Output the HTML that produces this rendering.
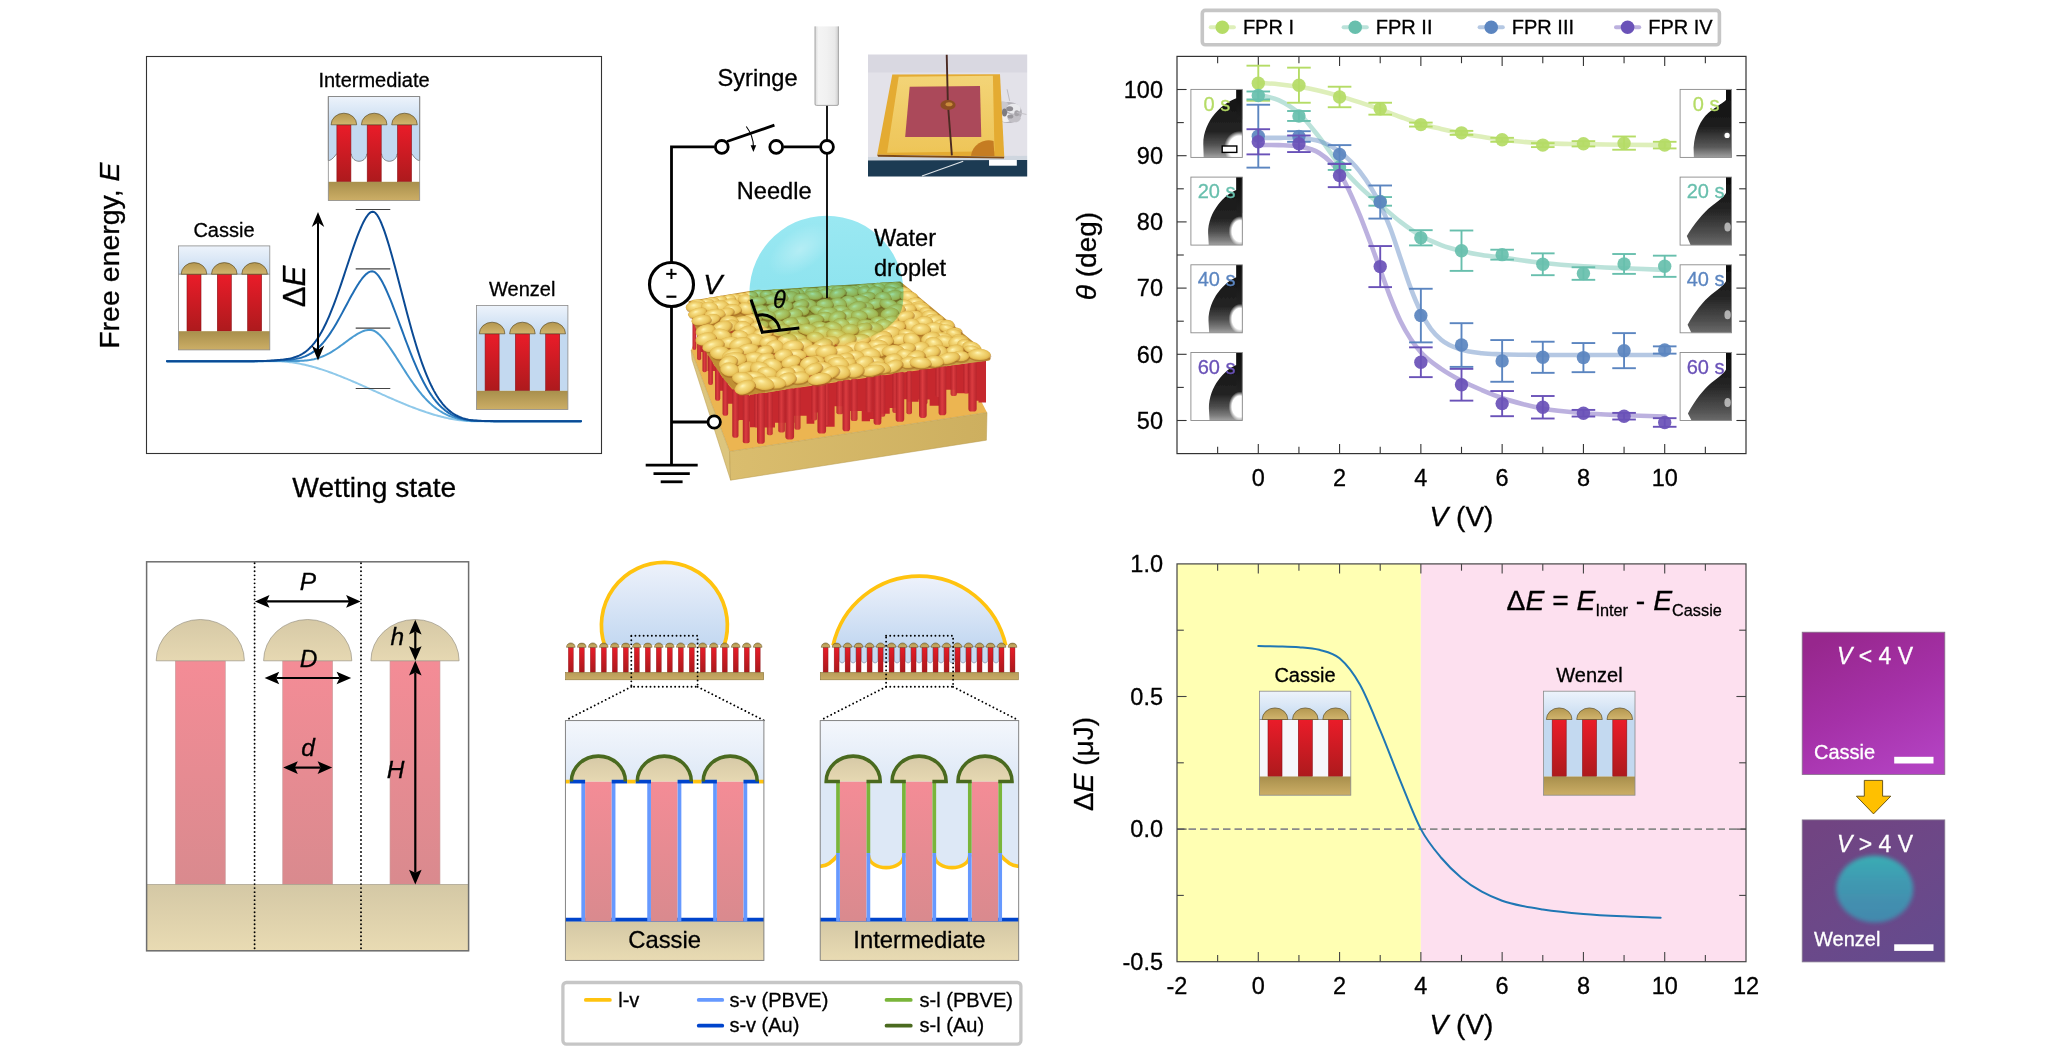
<!DOCTYPE html>
<html><head><meta charset="utf-8"><title>Figure</title>
<style>html,body{margin:0;padding:0;background:#fff;overflow:hidden;width:2048px;height:1054px}svg{display:block}text{font-family:"Liberation Sans", sans-serif}</style>
</head><body>
<svg width="2048" height="1054" viewBox="0 0 2048 1054">
<defs><linearGradient id="gWat" x1="0" y1="0" x2="0" y2="30" gradientUnits="userSpaceOnUse"><stop offset="0" stop-color="#edf3fb"/><stop offset="1" stop-color="#c3d9f0"/></linearGradient><linearGradient id="gPil" x1="0" y1="0" x2="0" y2="1"><stop offset="0" stop-color="#ea1c29"/><stop offset="1" stop-color="#ad1a1d"/></linearGradient><linearGradient id="gCap" x1="0" y1="0" x2="0" y2="1"><stop offset="0" stop-color="#b3964f"/><stop offset="1" stop-color="#d1b56e"/></linearGradient><linearGradient id="gBase" x1="0" y1="0" x2="0" y2="1"><stop offset="0" stop-color="#a88f4c"/><stop offset="1" stop-color="#ccae66"/></linearGradient><linearGradient id="gSyr" x1="0" y1="0" x2="1" y2="0"><stop offset="0" stop-color="#d9d9d9"/><stop offset="0.15" stop-color="#f4f4f4"/><stop offset="0.5" stop-color="#f1f1f1"/><stop offset="0.85" stop-color="#e9e9e9"/><stop offset="1" stop-color="#cfcfcf"/></linearGradient><radialGradient id="gBlob" cx="0.5" cy="0.5" r="0.56" fx="0.42" fy="0.34"><stop offset="0" stop-color="#fff6b8"/><stop offset="0.3" stop-color="#f6dd82"/><stop offset="0.72" stop-color="#eac65e"/><stop offset="0.93" stop-color="#d8aa44"/><stop offset="1" stop-color="#c4922f"/></radialGradient><linearGradient id="gRedP" x1="0" y1="0" x2="1" y2="0"><stop offset="0" stop-color="#b3222a"/><stop offset="0.45" stop-color="#db3c40"/><stop offset="1" stop-color="#b8252c"/></linearGradient><linearGradient id="gDrop3" x1="0" y1="0" x2="0" y2="1"><stop offset="0" stop-color="#9ae8f2"/><stop offset="0.55" stop-color="#8fe4ef"/><stop offset="0.64" stop-color="#9fe9ec"/><stop offset="0.8" stop-color="#b4eede"/><stop offset="0.92" stop-color="#dcf5d6"/><stop offset="1" stop-color="#ffffff"/></linearGradient><radialGradient id="gDropHi" cx="0.5" cy="0.5" r="0.5"><stop offset="0" stop-color="#ffffff" stop-opacity="0.3"/><stop offset="1" stop-color="#ffffff" stop-opacity="0"/></radialGradient><linearGradient id="gSlabF" x1="0" y1="0" x2="1" y2="0"><stop offset="0" stop-color="#dabd6e"/><stop offset="1" stop-color="#cdaf5f"/></linearGradient><linearGradient id="gPlate" x1="0" y1="0" x2="0" y2="1"><stop offset="0" stop-color="#f3d477"/><stop offset="1" stop-color="#eec558"/></linearGradient><filter id="blur1" x="-20%" y="-20%" width="140%" height="140%"><feGaussianBlur stdDeviation="0.7"/></filter><filter id="blur3" x="-20%" y="-20%" width="140%" height="140%"><feGaussianBlur stdDeviation="1.6"/></filter><clipPath id="clipPhoto"><rect x="868" y="54.5" width="159.2" height="121.9"/></clipPath><linearGradient id="gDropL" x1="0" y1="0" x2="0" y2="68" gradientUnits="userSpaceOnUse"><stop offset="0" stop-color="#0e0e0e"/><stop offset="0.62" stop-color="#242424"/><stop offset="0.8" stop-color="#4e4e4e"/><stop offset="0.93" stop-color="#7e7e7e"/><stop offset="1" stop-color="#a2a2a2"/></linearGradient><radialGradient id="gSpot" cx="0.5" cy="0.5" r="0.5"><stop offset="0" stop-color="#ffffff"/><stop offset="0.7" stop-color="#ffffff"/><stop offset="1" stop-color="#ffffff" stop-opacity="0"/></radialGradient><radialGradient id="gSpot2" cx="0.5" cy="0.5" r="0.5"><stop offset="0" stop-color="#888888"/><stop offset="1" stop-color="#333333" stop-opacity="0"/></radialGradient><linearGradient id="gDropR" x1="0" y1="0" x2="0" y2="68" gradientUnits="userSpaceOnUse"><stop offset="0" stop-color="#0c0c0c"/><stop offset="0.55" stop-color="#1e1e1e"/><stop offset="0.85" stop-color="#5a5a5a"/><stop offset="1" stop-color="#a0a0a0"/></linearGradient><linearGradient id="gDropR2" x1="0" y1="0" x2="0" y2="68" gradientUnits="userSpaceOnUse"><stop offset="0" stop-color="#0c0c0c"/><stop offset="0.5" stop-color="#262626"/><stop offset="0.85" stop-color="#525252"/><stop offset="1" stop-color="#6a6a6a"/></linearGradient><filter id="blurS" x="-10%" y="-10%" width="120%" height="120%"><feGaussianBlur stdDeviation="0.5"/></filter><linearGradient id="gPink" x1="0" y1="0" x2="0" y2="1"><stop offset="0" stop-color="#f48c96"/><stop offset="1" stop-color="#d98a8e"/></linearGradient><linearGradient id="gTanCap" x1="0" y1="0" x2="0" y2="1"><stop offset="0" stop-color="#d6c9a6"/><stop offset="1" stop-color="#e6d8b2"/></linearGradient><linearGradient id="gTanBase" x1="0" y1="0" x2="0" y2="1"><stop offset="0" stop-color="#d4c8a5"/><stop offset="1" stop-color="#e9dbb3"/></linearGradient><linearGradient id="gDropF" x1="0" y1="0" x2="0" y2="1"><stop offset="0" stop-color="#eef2fb"/><stop offset="1" stop-color="#c3d8f1"/></linearGradient><linearGradient id="gWatF" x1="0" y1="720.6" x2="0" y2="782" gradientUnits="userSpaceOnUse"><stop offset="0" stop-color="#f4f7fc"/><stop offset="1" stop-color="#dde8f6"/></linearGradient><linearGradient id="gMiniP" x1="0" y1="0" x2="0" y2="1"><stop offset="0" stop-color="#e81c28"/><stop offset="1" stop-color="#a8191c"/></linearGradient><linearGradient id="gMiniC" x1="0" y1="0" x2="0" y2="1"><stop offset="0" stop-color="#a88c45"/><stop offset="1" stop-color="#d4b870"/></linearGradient><linearGradient id="gMiniB" x1="0" y1="0" x2="0" y2="1"><stop offset="0" stop-color="#b89c58"/><stop offset="1" stop-color="#c8ac66"/></linearGradient><linearGradient id="gPh1" x1="0.25" y1="0" x2="0.75" y2="1"><stop offset="0" stop-color="#97278d"/><stop offset="0.5" stop-color="#a531a8"/><stop offset="1" stop-color="#b342c2"/></linearGradient><linearGradient id="gPh2" x1="0.2" y1="0" x2="0.8" y2="1"><stop offset="0" stop-color="#714482"/><stop offset="0.5" stop-color="#6c4888"/><stop offset="1" stop-color="#644b8e"/></linearGradient><linearGradient id="gSpotC" x1="0" y1="0" x2="0" y2="1"><stop offset="0" stop-color="#36b6b8"/><stop offset="0.35" stop-color="#3ca2b6"/><stop offset="0.7" stop-color="#4095b2"/><stop offset="1" stop-color="#3f8fb0"/></linearGradient><filter id="blur2" x="-20%" y="-20%" width="140%" height="140%"><feGaussianBlur stdDeviation="2.2"/></filter></defs>
<rect width="2048" height="1054" fill="#fff"/>
<g id="pa"><rect x="146.5" y="56.5" width="455" height="397" fill="#fff" stroke="#333" stroke-width="1.1" /><path d="M167 361.2 L168.5 361.2 L170 361.2 L171.5 361.2 L173 361.2 L174.5 361.2 L176 361.2 L177.5 361.2 L179 361.2 L180.5 361.2 L182 361.2 L183.5 361.2 L185 361.2 L186.5 361.2 L188 361.2 L189.5 361.2 L191 361.2 L192.5 361.2 L194 361.2 L195.5 361.2 L197 361.2 L198.5 361.2 L200 361.2 L201.5 361.2 L203 361.2 L204.5 361.2 L206 361.2 L207.5 361.2 L209 361.2 L210.5 361.2 L212 361.2 L213.5 361.2 L215 361.2 L216.5 361.2 L218 361.2 L219.5 361.2 L221 361.2 L222.5 361.2 L224 361.2 L225.5 361.2 L227 361.2 L228.5 361.2 L230 361.2 L231.5 361.2 L233 361.2 L234.5 361.2 L236 361.2 L237.5 361.2 L239 361.2 L240.5 361.2 L242 361.2 L243.5 361.2 L245 361.2 L246.5 361.2 L248 361.2 L249.5 361.2 L251 361.2 L252.5 361.2 L254 361.2 L255.5 361.2 L257 361.2 L258.5 361.2 L260 361.2 L261.5 361.2 L263 361.2 L264.5 361.2 L266 361.2 L267.5 361.2 L269 361.2 L270.5 361.2 L272 361.2 L273.5 361.2 L275 361.2 L276.5 361.21 L278 361.24 L279.5 361.29 L281 361.36 L282.5 361.45 L284 361.55 L285.5 361.68 L287 361.82 L288.5 361.98 L290 362.16 L291.5 362.36 L293 362.57 L294.5 362.8 L296 363.05 L297.5 363.31 L299 363.58 L300.5 363.88 L302 364.19 L303.5 364.51 L305 364.84 L306.5 365.2 L308 365.56 L309.5 365.94 L311 366.33 L312.5 366.74 L314 367.15 L315.5 367.58 L317 368.03 L318.5 368.48 L320 368.95 L321.5 369.42 L323 369.91 L324.5 370.41 L326 370.91 L327.5 371.43 L329 371.96 L330.5 372.5 L332 373.04 L333.5 373.6 L335 374.16 L336.5 374.73 L338 375.31 L339.5 375.9 L341 376.49 L342.5 377.09 L344 377.7 L345.5 378.31 L347 378.93 L348.5 379.55 L350 380.18 L351.5 380.82 L353 381.46 L354.5 382.1 L356 382.75 L357.5 383.41 L359 384.06 L360.5 384.72 L362 385.38 L363.5 386.05 L365 386.71 L366.5 387.38 L368 388.06 L369.5 388.73 L371 389.4 L372.5 390.08 L374 390.75 L375.5 391.42 L377 392.1 L378.5 392.77 L380 393.45 L381.5 394.12 L383 394.79 L384.5 395.46 L386 396.13 L387.5 396.8 L389 397.46 L390.5 398.12 L392 398.78 L393.5 399.43 L395 400.08 L396.5 400.73 L398 401.37 L399.5 402 L401 402.64 L402.5 403.26 L404 403.88 L405.5 404.5 L407 405.11 L408.5 405.71 L410 406.31 L411.5 406.9 L413 407.48 L414.5 408.05 L416 408.62 L417.5 409.17 L419 409.72 L420.5 410.26 L422 410.79 L423.5 411.31 L425 411.82 L426.5 412.33 L428 412.82 L429.5 413.3 L431 413.77 L432.5 414.22 L434 414.67 L435.5 415.1 L437 415.53 L438.5 415.93 L440 416.33 L441.5 416.71 L443 417.08 L444.5 417.44 L446 417.78 L447.5 418.11 L449 418.42 L450.5 418.72 L452 419 L453.5 419.27 L455 419.52 L456.5 419.75 L458 419.97 L459.5 420.17 L461 420.36 L462.5 420.53 L464 420.68 L465.5 420.81 L467 420.92 L468.5 421.01 L470 421.09 L471.5 421.15 L473 421.18 L474.5 421.2 L476 421.2 L477.5 421.2 L479 421.2 L480.5 421.2 L482 421.2 L483.5 421.2 L485 421.2 L486.5 421.2 L488 421.2 L489.5 421.2 L491 421.2 L492.5 421.2 L494 421.2 L495.5 421.2 L497 421.2 L498.5 421.2 L500 421.2 L501.5 421.2 L503 421.2 L504.5 421.2 L506 421.2 L507.5 421.2 L509 421.2 L510.5 421.2 L512 421.2 L513.5 421.2 L515 421.2 L516.5 421.2 L518 421.2 L519.5 421.2 L521 421.2 L522.5 421.2 L524 421.2 L525.5 421.2 L527 421.2 L528.5 421.2 L530 421.2 L531.5 421.2 L533 421.2 L534.5 421.2 L536 421.2 L537.5 421.2 L539 421.2 L540.5 421.2 L542 421.2 L543.5 421.2 L545 421.2 L546.5 421.2 L548 421.2 L549.5 421.2 L551 421.2 L552.5 421.2 L554 421.2 L555.5 421.2 L557 421.2 L558.5 421.2 L560 421.2 L561.5 421.2 L563 421.2 L564.5 421.2 L566 421.2 L567.5 421.2 L569 421.2 L570.5 421.2 L572 421.2 L573.5 421.2 L575 421.2 L576.5 421.2 L578 421.2 L579.5 421.2 L581 421.2" fill="none" stroke="#8fc9ea" stroke-width="2" stroke-linejoin="round" stroke-linecap="round"/><path d="M167 361.2 L168.5 361.2 L170 361.2 L171.5 361.2 L173 361.2 L174.5 361.2 L176 361.2 L177.5 361.2 L179 361.2 L180.5 361.2 L182 361.2 L183.5 361.2 L185 361.2 L186.5 361.2 L188 361.2 L189.5 361.2 L191 361.2 L192.5 361.2 L194 361.2 L195.5 361.2 L197 361.2 L198.5 361.2 L200 361.2 L201.5 361.2 L203 361.2 L204.5 361.2 L206 361.2 L207.5 361.2 L209 361.2 L210.5 361.2 L212 361.2 L213.5 361.2 L215 361.2 L216.5 361.2 L218 361.2 L219.5 361.2 L221 361.2 L222.5 361.2 L224 361.2 L225.5 361.2 L227 361.2 L228.5 361.2 L230 361.2 L231.5 361.2 L233 361.2 L234.5 361.2 L236 361.2 L237.5 361.2 L239 361.2 L240.5 361.2 L242 361.2 L243.5 361.19 L245 361.19 L246.5 361.19 L248 361.19 L249.5 361.19 L251 361.18 L252.5 361.18 L254 361.18 L255.5 361.17 L257 361.17 L258.5 361.16 L260 361.15 L261.5 361.14 L263 361.13 L264.5 361.11 L266 361.1 L267.5 361.08 L269 361.05 L270.5 361.03 L272 361 L273.5 360.96 L275 360.92 L276.5 360.88 L278 360.85 L279.5 360.84 L281 360.83 L282.5 360.84 L284 360.85 L285.5 360.86 L287 360.88 L288.5 360.9 L290 360.92 L291.5 360.93 L293 360.94 L294.5 360.95 L296 360.94 L297.5 360.93 L299 360.89 L300.5 360.84 L302 360.77 L303.5 360.68 L305 360.56 L306.5 360.42 L308 360.24 L309.5 360.03 L311 359.78 L312.5 359.49 L314 359.17 L315.5 358.8 L317 358.39 L318.5 357.93 L320 357.42 L321.5 356.86 L323 356.26 L324.5 355.61 L326 354.91 L327.5 354.16 L329 353.36 L330.5 352.51 L332 351.63 L333.5 350.7 L335 349.73 L336.5 348.73 L338 347.7 L339.5 346.64 L341 345.56 L342.5 344.46 L344 343.35 L345.5 342.23 L347 341.12 L348.5 340.01 L350 338.92 L351.5 337.84 L353 336.8 L354.5 335.79 L356 334.83 L357.5 333.92 L359 333.08 L360.5 332.3 L362 331.61 L363.5 331.01 L365 330.51 L366.5 330.14 L368 329.9 L369.5 329.82 L371 329.91 L372.5 330.21 L374 330.75 L375.5 331.56 L377 332.61 L378.5 333.86 L380 335.29 L381.5 336.88 L383 338.59 L384.5 340.42 L386 342.36 L387.5 344.38 L389 346.47 L390.5 348.64 L392 350.86 L393.5 353.12 L395 355.42 L396.5 357.75 L398 360.1 L399.5 362.46 L401 364.83 L402.5 367.19 L404 369.54 L405.5 371.87 L407 374.18 L408.5 376.45 L410 378.7 L411.5 380.9 L413 383.05 L414.5 385.15 L416 387.2 L417.5 389.19 L419 391.12 L420.5 392.98 L422 394.78 L423.5 396.51 L425 398.18 L426.5 399.77 L428 401.29 L429.5 402.74 L431 404.12 L432.5 405.44 L434 406.68 L435.5 407.86 L437 408.97 L438.5 410.02 L440 411.01 L441.5 411.93 L443 412.8 L444.5 413.61 L446 414.37 L447.5 415.07 L449 415.73 L450.5 416.34 L452 416.9 L453.5 417.42 L455 417.89 L456.5 418.33 L458 418.73 L459.5 419.09 L461 419.42 L462.5 419.71 L464 419.97 L465.5 420.2 L467 420.39 L468.5 420.56 L470 420.7 L471.5 420.81 L473 420.9 L474.5 420.96 L476 421 L477.5 421.03 L479 421.05 L480.5 421.08 L482 421.1 L483.5 421.11 L485 421.13 L486.5 421.14 L488 421.15 L489.5 421.16 L491 421.17 L492.5 421.17 L494 421.18 L495.5 421.18 L497 421.18 L498.5 421.19 L500 421.19 L501.5 421.19 L503 421.19 L504.5 421.19 L506 421.2 L507.5 421.2 L509 421.2 L510.5 421.2 L512 421.2 L513.5 421.2 L515 421.2 L516.5 421.2 L518 421.2 L519.5 421.2 L521 421.2 L522.5 421.2 L524 421.2 L525.5 421.2 L527 421.2 L528.5 421.2 L530 421.2 L531.5 421.2 L533 421.2 L534.5 421.2 L536 421.2 L537.5 421.2 L539 421.2 L540.5 421.2 L542 421.2 L543.5 421.2 L545 421.2 L546.5 421.2 L548 421.2 L549.5 421.2 L551 421.2 L552.5 421.2 L554 421.2 L555.5 421.2 L557 421.2 L558.5 421.2 L560 421.2 L561.5 421.2 L563 421.2 L564.5 421.2 L566 421.2 L567.5 421.2 L569 421.2 L570.5 421.2 L572 421.2 L573.5 421.2 L575 421.2 L576.5 421.2 L578 421.2 L579.5 421.2 L581 421.2" fill="none" stroke="#4a9bd2" stroke-width="2" stroke-linejoin="round" stroke-linecap="round"/><path d="M167 361.2 L168.5 361.2 L170 361.2 L171.5 361.2 L173 361.2 L174.5 361.2 L176 361.2 L177.5 361.2 L179 361.2 L180.5 361.2 L182 361.2 L183.5 361.2 L185 361.2 L186.5 361.2 L188 361.2 L189.5 361.2 L191 361.2 L192.5 361.2 L194 361.2 L195.5 361.2 L197 361.2 L198.5 361.2 L200 361.2 L201.5 361.2 L203 361.2 L204.5 361.2 L206 361.2 L207.5 361.2 L209 361.2 L210.5 361.2 L212 361.2 L213.5 361.2 L215 361.2 L216.5 361.2 L218 361.2 L219.5 361.2 L221 361.2 L222.5 361.2 L224 361.2 L225.5 361.2 L227 361.2 L228.5 361.2 L230 361.2 L231.5 361.2 L233 361.2 L234.5 361.2 L236 361.2 L237.5 361.2 L239 361.19 L240.5 361.19 L242 361.19 L243.5 361.19 L245 361.19 L246.5 361.18 L248 361.18 L249.5 361.17 L251 361.17 L252.5 361.16 L254 361.15 L255.5 361.14 L257 361.13 L258.5 361.12 L260 361.1 L261.5 361.08 L263 361.06 L264.5 361.03 L266 361 L267.5 360.96 L269 360.91 L270.5 360.86 L272 360.8 L273.5 360.72 L275 360.64 L276.5 360.55 L278 360.47 L279.5 360.39 L281 360.31 L282.5 360.23 L284 360.15 L285.5 360.05 L287 359.95 L288.5 359.83 L290 359.69 L291.5 359.53 L293 359.35 L294.5 359.13 L296 358.88 L297.5 358.58 L299 358.25 L300.5 357.86 L302 357.42 L303.5 356.92 L305 356.35 L306.5 355.71 L308 355 L309.5 354.21 L311 353.34 L312.5 352.37 L314 351.31 L315.5 350.16 L317 348.9 L318.5 347.55 L320 346.08 L321.5 344.52 L323 342.84 L324.5 341.05 L326 339.16 L327.5 337.17 L329 335.07 L330.5 332.87 L332 330.57 L333.5 328.18 L335 325.71 L336.5 323.17 L338 320.55 L339.5 317.87 L341 315.14 L342.5 312.37 L344 309.57 L345.5 306.76 L347 303.94 L348.5 301.13 L350 298.34 L351.5 295.59 L353 292.89 L354.5 290.26 L356 287.71 L357.5 285.27 L359 282.94 L360.5 280.76 L362 278.73 L363.5 276.89 L365 275.25 L366.5 273.85 L368 272.72 L369.5 271.89 L371 271.41 L372.5 271.34 L374 271.75 L375.5 272.69 L377 274.11 L378.5 275.93 L380 278.11 L381.5 280.59 L383 283.33 L384.5 286.3 L386 289.48 L387.5 292.83 L389 296.34 L390.5 299.98 L392 303.73 L393.5 307.58 L395 311.51 L396.5 315.49 L398 319.52 L399.5 323.58 L401 327.64 L402.5 331.71 L404 335.76 L405.5 339.78 L407 343.76 L408.5 347.68 L410 351.54 L411.5 355.33 L413 359.03 L414.5 362.64 L416 366.14 L417.5 369.54 L419 372.83 L420.5 376 L422 379.04 L423.5 381.96 L425 384.75 L426.5 387.42 L428 389.96 L429.5 392.36 L431 394.64 L432.5 396.8 L434 398.83 L435.5 400.74 L437 402.53 L438.5 404.21 L440 405.77 L441.5 407.23 L443 408.59 L444.5 409.85 L446 411.01 L447.5 412.09 L449 413.08 L450.5 414 L452 414.83 L453.5 415.6 L455 416.3 L456.5 416.93 L458 417.5 L459.5 418.02 L461 418.49 L462.5 418.9 L464 419.27 L465.5 419.59 L467 419.88 L468.5 420.12 L470 420.32 L471.5 420.49 L473 420.62 L474.5 420.72 L476 420.8 L477.5 420.86 L479 420.91 L480.5 420.96 L482 421 L483.5 421.03 L485 421.06 L486.5 421.08 L488 421.1 L489.5 421.12 L491 421.13 L492.5 421.14 L494 421.15 L495.5 421.16 L497 421.17 L498.5 421.17 L500 421.18 L501.5 421.18 L503 421.19 L504.5 421.19 L506 421.19 L507.5 421.19 L509 421.19 L510.5 421.2 L512 421.2 L513.5 421.2 L515 421.2 L516.5 421.2 L518 421.2 L519.5 421.2 L521 421.2 L522.5 421.2 L524 421.2 L525.5 421.2 L527 421.2 L528.5 421.2 L530 421.2 L531.5 421.2 L533 421.2 L534.5 421.2 L536 421.2 L537.5 421.2 L539 421.2 L540.5 421.2 L542 421.2 L543.5 421.2 L545 421.2 L546.5 421.2 L548 421.2 L549.5 421.2 L551 421.2 L552.5 421.2 L554 421.2 L555.5 421.2 L557 421.2 L558.5 421.2 L560 421.2 L561.5 421.2 L563 421.2 L564.5 421.2 L566 421.2 L567.5 421.2 L569 421.2 L570.5 421.2 L572 421.2 L573.5 421.2 L575 421.2 L576.5 421.2 L578 421.2 L579.5 421.2 L581 421.2" fill="none" stroke="#1f6db5" stroke-width="2" stroke-linejoin="round" stroke-linecap="round"/><path d="M167 361.2 L168.5 361.2 L170 361.2 L171.5 361.2 L173 361.2 L174.5 361.2 L176 361.2 L177.5 361.2 L179 361.2 L180.5 361.2 L182 361.2 L183.5 361.2 L185 361.2 L186.5 361.2 L188 361.2 L189.5 361.2 L191 361.2 L192.5 361.2 L194 361.2 L195.5 361.2 L197 361.2 L198.5 361.2 L200 361.2 L201.5 361.2 L203 361.2 L204.5 361.2 L206 361.2 L207.5 361.2 L209 361.2 L210.5 361.2 L212 361.2 L213.5 361.2 L215 361.2 L216.5 361.2 L218 361.2 L219.5 361.2 L221 361.2 L222.5 361.2 L224 361.2 L225.5 361.2 L227 361.2 L228.5 361.2 L230 361.2 L231.5 361.2 L233 361.2 L234.5 361.2 L236 361.19 L237.5 361.19 L239 361.19 L240.5 361.19 L242 361.19 L243.5 361.18 L245 361.18 L246.5 361.17 L248 361.17 L249.5 361.16 L251 361.15 L252.5 361.14 L254 361.13 L255.5 361.12 L257 361.1 L258.5 361.08 L260 361.05 L261.5 361.02 L263 360.99 L264.5 360.94 L266 360.89 L267.5 360.83 L269 360.77 L270.5 360.69 L272 360.59 L273.5 360.48 L275 360.36 L276.5 360.22 L278 360.09 L279.5 359.94 L281 359.79 L282.5 359.62 L284 359.44 L285.5 359.24 L287 359.01 L288.5 358.75 L290 358.45 L291.5 358.11 L293 357.73 L294.5 357.28 L296 356.78 L297.5 356.21 L299 355.56 L300.5 354.84 L302 354.02 L303.5 353.1 L305 352.08 L306.5 350.95 L308 349.7 L309.5 348.32 L311 346.81 L312.5 345.15 L314 343.35 L315.5 341.4 L317 339.3 L318.5 337.03 L320 334.6 L321.5 332 L323 329.24 L324.5 326.3 L326 323.21 L327.5 319.95 L329 316.53 L330.5 312.95 L332 309.23 L333.5 305.36 L335 301.37 L336.5 297.25 L338 293.03 L339.5 288.71 L341 284.31 L342.5 279.85 L344 275.34 L345.5 270.8 L347 266.25 L348.5 261.71 L350 257.21 L351.5 252.75 L353 248.38 L354.5 244.1 L356 239.95 L357.5 235.95 L359 232.13 L360.5 228.51 L362 225.14 L363.5 222.03 L365 219.24 L366.5 216.8 L368 214.75 L369.5 213.17 L371 212.12 L372.5 211.68 L374 211.95 L375.5 213.02 L377 214.82 L378.5 217.22 L380 220.15 L381.5 223.53 L383 227.32 L384.5 231.45 L386 235.88 L387.5 240.59 L389 245.53 L390.5 250.66 L392 255.97 L393.5 261.43 L395 267 L396.5 272.66 L398 278.39 L399.5 284.16 L401 289.96 L402.5 295.75 L404 301.53 L405.5 307.26 L407 312.93 L408.5 318.53 L410 324.03 L411.5 329.42 L413 334.68 L414.5 339.82 L416 344.8 L417.5 349.63 L419 354.29 L420.5 358.78 L422 363.08 L423.5 367.21 L425 371.15 L426.5 374.9 L428 378.47 L429.5 381.84 L431 385.03 L432.5 388.04 L434 390.87 L435.5 393.52 L437 396 L438.5 398.31 L440 400.47 L441.5 402.47 L443 404.32 L444.5 406.03 L446 407.61 L447.5 409.07 L449 410.4 L450.5 411.62 L452 412.74 L453.5 413.75 L455 414.68 L456.5 415.51 L458 416.26 L459.5 416.94 L461 417.55 L462.5 418.09 L464 418.56 L465.5 418.98 L467 419.35 L468.5 419.67 L470 419.93 L471.5 420.16 L473 420.34 L474.5 420.48 L476 420.59 L477.5 420.69 L479 420.77 L480.5 420.83 L482 420.89 L483.5 420.94 L485 420.99 L486.5 421.02 L488 421.05 L489.5 421.08 L491 421.1 L492.5 421.12 L494 421.13 L495.5 421.14 L497 421.15 L498.5 421.16 L500 421.17 L501.5 421.17 L503 421.18 L504.5 421.18 L506 421.19 L507.5 421.19 L509 421.19 L510.5 421.19 L512 421.19 L513.5 421.2 L515 421.2 L516.5 421.2 L518 421.2 L519.5 421.2 L521 421.2 L522.5 421.2 L524 421.2 L525.5 421.2 L527 421.2 L528.5 421.2 L530 421.2 L531.5 421.2 L533 421.2 L534.5 421.2 L536 421.2 L537.5 421.2 L539 421.2 L540.5 421.2 L542 421.2 L543.5 421.2 L545 421.2 L546.5 421.2 L548 421.2 L549.5 421.2 L551 421.2 L552.5 421.2 L554 421.2 L555.5 421.2 L557 421.2 L558.5 421.2 L560 421.2 L561.5 421.2 L563 421.2 L564.5 421.2 L566 421.2 L567.5 421.2 L569 421.2 L570.5 421.2 L572 421.2 L573.5 421.2 L575 421.2 L576.5 421.2 L578 421.2 L579.5 421.2 L581 421.2" fill="none" stroke="#0b4a94" stroke-width="2" stroke-linejoin="round" stroke-linecap="round"/><line x1="355.7" y1="209.5" x2="390.3" y2="209.5" stroke="#444" stroke-width="1.2" /><line x1="355.7" y1="268.9" x2="390.3" y2="268.9" stroke="#444" stroke-width="1.2" /><line x1="355.7" y1="328.1" x2="390.3" y2="328.1" stroke="#444" stroke-width="1.2" /><line x1="355.7" y1="388.5" x2="390.3" y2="388.5" stroke="#444" stroke-width="1.2" /><line x1="318" y1="222.5" x2="318" y2="350" stroke="#000" stroke-width="2" /><polygon points="318,360.5 311.75,345.5 318,350 324.25,345.5" fill="#000" stroke="none" stroke-width="1" /><polygon points="318,212 324.25,227 318,222.5 311.75,227" fill="#000" stroke="none" stroke-width="1" /><text x="304.8" y="286.5" font-size="31" text-anchor="middle" fill="#000" stroke="#000" stroke-width="0.3" transform="rotate(-90 304.8 286.5)" >Δ<tspan font-style="italic">E</tspan></text><g transform="translate(328.3 96.5)"><rect x="0" y="0" width="91.4" height="104" fill="#fff" stroke="none" stroke-width="1" /><path d="M0 0 H91.4 V64 Q88.4 64.5 83.6 57.5 H68.8 C67.8 67.2 54.3 67.2 53.3 57.5 H38.5 C37.5 67.2 24 67.2 23 57.5 H8.2 Q3 64.5 0 64 Z" fill="url(#gWat)" stroke="#444" stroke-width="0.6" /><rect x="8.6" y="28.3" width="14" height="57" fill="url(#gPil)" stroke="#8c1217" stroke-width="0.6" /><path d="M2.8 28.3 A12.8 11.6 0 0 1 28.4 28.3 Z" fill="url(#gCap)" stroke="#4d3f1c" stroke-width="0.6" /><rect x="38.9" y="28.3" width="14" height="57" fill="url(#gPil)" stroke="#8c1217" stroke-width="0.6" /><path d="M33.1 28.3 A12.8 11.6 0 0 1 58.7 28.3 Z" fill="url(#gCap)" stroke="#4d3f1c" stroke-width="0.6" /><rect x="69.2" y="28.3" width="14" height="57" fill="url(#gPil)" stroke="#8c1217" stroke-width="0.6" /><path d="M63.4 28.3 A12.8 11.6 0 0 1 89 28.3 Z" fill="url(#gCap)" stroke="#4d3f1c" stroke-width="0.6" /><rect x="0" y="85.3" width="91.4" height="18.7" fill="url(#gBase)" stroke="none" stroke-width="1" /><rect x="0" y="0" width="91.4" height="104" fill="none" stroke="#8a8a8a" stroke-width="0.8" /></g><g transform="translate(178.4 245.9)"><rect x="0" y="0" width="91.4" height="104" fill="#fff" stroke="none" stroke-width="1" /><rect x="0" y="0" width="91.4" height="28.3" fill="url(#gWat)" stroke="none" stroke-width="1" /><line x1="0" y1="28.3" x2="91.4" y2="28.3" stroke="#555" stroke-width="0.6" /><rect x="8.6" y="28.3" width="14" height="57" fill="url(#gPil)" stroke="#8c1217" stroke-width="0.6" /><path d="M2.8 28.3 A12.8 11.6 0 0 1 28.4 28.3 Z" fill="url(#gCap)" stroke="#4d3f1c" stroke-width="0.6" /><rect x="38.9" y="28.3" width="14" height="57" fill="url(#gPil)" stroke="#8c1217" stroke-width="0.6" /><path d="M33.1 28.3 A12.8 11.6 0 0 1 58.7 28.3 Z" fill="url(#gCap)" stroke="#4d3f1c" stroke-width="0.6" /><rect x="69.2" y="28.3" width="14" height="57" fill="url(#gPil)" stroke="#8c1217" stroke-width="0.6" /><path d="M63.4 28.3 A12.8 11.6 0 0 1 89 28.3 Z" fill="url(#gCap)" stroke="#4d3f1c" stroke-width="0.6" /><rect x="0" y="85.3" width="91.4" height="18.7" fill="url(#gBase)" stroke="none" stroke-width="1" /><rect x="0" y="0" width="91.4" height="104" fill="none" stroke="#8a8a8a" stroke-width="0.8" /></g><g transform="translate(476.5 305.5)"><rect x="0" y="0" width="91.4" height="104" fill="#fff" stroke="none" stroke-width="1" /><rect x="0" y="0" width="91.4" height="85.3" fill="url(#gWat)" stroke="none" stroke-width="1" /><rect x="8.6" y="28.3" width="14" height="57" fill="url(#gPil)" stroke="#8c1217" stroke-width="0.6" /><path d="M2.8 28.3 A12.8 11.6 0 0 1 28.4 28.3 Z" fill="url(#gCap)" stroke="#4d3f1c" stroke-width="0.6" /><rect x="38.9" y="28.3" width="14" height="57" fill="url(#gPil)" stroke="#8c1217" stroke-width="0.6" /><path d="M33.1 28.3 A12.8 11.6 0 0 1 58.7 28.3 Z" fill="url(#gCap)" stroke="#4d3f1c" stroke-width="0.6" /><rect x="69.2" y="28.3" width="14" height="57" fill="url(#gPil)" stroke="#8c1217" stroke-width="0.6" /><path d="M63.4 28.3 A12.8 11.6 0 0 1 89 28.3 Z" fill="url(#gCap)" stroke="#4d3f1c" stroke-width="0.6" /><rect x="0" y="85.3" width="91.4" height="18.7" fill="url(#gBase)" stroke="none" stroke-width="1" /><rect x="0" y="0" width="91.4" height="104" fill="none" stroke="#8a8a8a" stroke-width="0.8" /></g><text x="374" y="87" font-size="20" text-anchor="middle" fill="#000" stroke="#000" stroke-width="0.3" >Intermediate</text><text x="224" y="237" font-size="20" text-anchor="middle" fill="#000" stroke="#000" stroke-width="0.3" >Cassie</text><text x="522.2" y="296" font-size="20" text-anchor="middle" fill="#000" stroke="#000" stroke-width="0.3" >Wenzel</text><text x="374.3" y="496.6" font-size="28.2" text-anchor="middle" fill="#000" stroke="#000" stroke-width="0.3" >Wetting state</text><text x="118.7" y="255.6" font-size="28.5" text-anchor="middle" fill="#000" stroke="#000" stroke-width="0.3" transform="rotate(-90 118.7 255.6)" >Free energy, <tspan font-style="italic">E</tspan></text></g>
<g id="pb"><g clip-path="url(#clipPhoto)"><g filter="url(#blur1)"><rect x="866" y="52" width="164" height="127" fill="#e3e2e9" stroke="none" stroke-width="1" /><rect x="866" y="52" width="164" height="20.5" fill="#d9d8e1" stroke="none" stroke-width="1" /><polygon points="865.16,157.03 1030.32,155.74 1030.32,161.55 865.16,162.19" fill="#cfd6df" stroke="none" stroke-width="1" /><polygon points="865.16,160.52 1030.32,160 1030.32,178.32 865.16,178.32" fill="#1e3b52" stroke="none" stroke-width="1" /><line x1="921.94" y1="176" x2="963.23" y2="161.29" stroke="#dfe6ea" stroke-width="1.1" /><g><ellipse cx="1008.39" cy="112.52" rx="13.5" ry="10.5" fill="#b3b1b8" stroke="none" stroke-width="1" /><ellipse cx="1002.58" cy="106.71" rx="6.5" ry="5.5" fill="#c9c8ce" stroke="none" stroke-width="1" /><ellipse cx="1013.55" cy="108.65" rx="7" ry="5" fill="#e9e9ec" stroke="none" stroke-width="1" /><ellipse cx="1005.81" cy="117.68" rx="7" ry="4.5" fill="#efeff1" stroke="none" stroke-width="1" /><ellipse cx="1014.19" cy="118.32" rx="6.5" ry="4" fill="#c2c0c6" stroke="none" stroke-width="1" /><ellipse cx="1009.68" cy="108.65" rx="3.5" ry="2.5" fill="#8d8b90" stroke="none" stroke-width="1" /><ellipse cx="1004.52" cy="112.52" rx="2.5" ry="4" fill="#7d7b80" stroke="none" stroke-width="1" /><ellipse cx="1010.32" cy="116.39" rx="3" ry="2" fill="#98969b" stroke="none" stroke-width="1" /><ellipse cx="1016.77" cy="113.16" rx="2.5" ry="3" fill="#a5a3a8" stroke="none" stroke-width="1" /><line x1="1007.1" y1="89.29" x2="1009.68" y2="100.9" stroke="#bebcc2" stroke-width="1" /><line x1="1016.77" y1="112.52" x2="1026.45" y2="114.45" stroke="#c4c2c7" stroke-width="1" /></g><polygon points="892.26,74.45 1000,74.19 1004.26,156.65 877.16,154.84" fill="#e4ab32" stroke="none" stroke-width="1" /><polygon points="898.71,76.65 992.9,75.87 994.45,151.23 887.1,152.77" fill="url(#gPlate)" stroke="none" stroke-width="1" /><polygon points="877.16,154.84 1004.26,156.65 1004,158.45 878.06,156.65" fill="#7d4a18" stroke="none" stroke-width="1" /><path d="M970.97 155.74 A18 18 0 0 1 993.55 140.9 L994.45 156.13 Z" fill="#c57b22" stroke="none" stroke-width="1" /><polygon points="909.68,86.71 980,86.06 981.29,137.03 905.16,137.03" fill="#ab4a5a" stroke="none" stroke-width="1" /><path d="M946.71 54.45 L947.87 103.48 L951.87 155.35" fill="none" stroke="#4b2a22" stroke-width="1.9" /><ellipse cx="948" cy="105.03" rx="7.6" ry="5" fill="#8d4e22" stroke="none" stroke-width="1" /><ellipse cx="949.03" cy="104.26" rx="3.5" ry="2" fill="#c98a3a" stroke="none" stroke-width="1" /></g><rect x="989.03" y="160" width="27.8" height="5.7" fill="#fff" stroke="none" stroke-width="1" /></g><polygon points="691.2,350 729.6,451.5 987,412.5 960,360 700,330" fill="#ecb551" stroke="none" stroke-width="1" /><polygon points="691.2,350 729.6,451.5 730.6,480.2 692,359.5" fill="#dcc57e" stroke="#b99a4c" stroke-width="0.5" /><polygon points="729.6,451.5 987,412.5 986.4,440.2 730.6,480.2" fill="url(#gSlabF)" stroke="#b99a4c" stroke-width="0.5" /><polygon points="750,394.71 986,360.45 986,402.38 978.52,402.38 978.52,400.64 968.99,400.64 968.99,393.15 955.27,393.15 955.27,389.66 940.29,389.66 940.29,405.63 929.63,405.63 929.63,399.61 918.63,399.61 918.63,401.74 907.48,401.74 907.48,399.29 896.96,399.29 896.96,407.96 889.72,407.96 889.72,413.69 881.19,413.69 881.19,419.04 869.97,419.04 869.97,421.18 861.71,421.18 861.71,411.03 849.48,411.03 849.48,406.29 834.62,406.29 834.62,426.65 822.07,426.65 822.07,412.47 814.34,412.47 814.34,423.77 806.59,423.77 806.59,415.8 794.55,415.8 794.55,422.7 786.08,422.7 786.08,422.87 775.01,422.87 775.01,427.49 760.62,427.49 760.62,427.21 750,427.21" fill="#c6282e" stroke="none" stroke-width="1" /><polygon points="693,318 700,340 708,355 716,368 725,381 733,390 740,394.5 750,396 750,421.39 746.25,421.39 746.25,419.96 739.14,419.96 739.14,420.59 734.85,420.59 734.85,403.69 726.93,403.69 726.93,390.67 719.29,390.67 719.29,380.52 715.28,380.52 715.28,371.12 707.45,371.12 707.45,352.05 700.07,352.05 700.07,333.63 693,333.63" fill="#c6282e" stroke="none" stroke-width="1" /><rect x="754" y="394.12" width="6.95" height="33.31" fill="url(#gRedP)" stroke="none" stroke-width="1" rx="2" opacity="0.92"/><rect x="766.89" y="392.17" width="5.87" height="43.16" fill="url(#gRedP)" stroke="none" stroke-width="1" rx="2" opacity="0.92"/><rect x="778.24" y="390.21" width="6.7" height="42.26" fill="url(#gRedP)" stroke="none" stroke-width="1" rx="2" opacity="0.92"/><rect x="794.41" y="387.47" width="6.17" height="42.35" fill="url(#gRedP)" stroke="none" stroke-width="1" rx="2" opacity="0.92"/><rect x="811.43" y="384.81" width="5.7" height="35.64" fill="url(#gRedP)" stroke="none" stroke-width="1" rx="2" opacity="0.92"/><rect x="823.06" y="382.99" width="6.13" height="42.16" fill="url(#gRedP)" stroke="none" stroke-width="1" rx="2" opacity="0.92"/><rect x="836.35" y="380.91" width="6.96" height="33.36" fill="url(#gRedP)" stroke="none" stroke-width="1" rx="2" opacity="0.92"/><rect x="850.74" y="378.82" width="6.83" height="42.16" fill="url(#gRedP)" stroke="none" stroke-width="1" rx="2" opacity="0.92"/><rect x="865.72" y="376.68" width="6.78" height="35.57" fill="url(#gRedP)" stroke="none" stroke-width="1" rx="2" opacity="0.92"/><rect x="878.31" y="374.88" width="6.98" height="41.89" fill="url(#gRedP)" stroke="none" stroke-width="1" rx="2" opacity="0.92"/><rect x="892.36" y="372.88" width="6.66" height="40.03" fill="url(#gRedP)" stroke="none" stroke-width="1" rx="2" opacity="0.92"/><rect x="906.39" y="370.87" width="5.61" height="43.49" fill="url(#gRedP)" stroke="none" stroke-width="1" rx="2" opacity="0.92"/><rect x="921.66" y="368.77" width="5.86" height="35.61" fill="url(#gRedP)" stroke="none" stroke-width="1" rx="2" opacity="0.92"/><rect x="935.5" y="366.98" width="6.18" height="29.94" fill="url(#gRedP)" stroke="none" stroke-width="1" rx="2" opacity="0.92"/><rect x="950.55" y="365.03" width="6.36" height="30.99" fill="url(#gRedP)" stroke="none" stroke-width="1" rx="2" opacity="0.92"/><rect x="963.37" y="363.38" width="5.73" height="30.08" fill="url(#gRedP)" stroke="none" stroke-width="1" rx="2" opacity="0.92"/><rect x="757" y="392.68" width="7.75" height="51.11" fill="url(#gRedP)" stroke="none" stroke-width="1" rx="2.8"/><rect x="785.36" y="387.98" width="8.72" height="51.42" fill="url(#gRedP)" stroke="none" stroke-width="1" rx="2.8"/><rect x="817.43" y="382.87" width="8.64" height="50.66" fill="url(#gRedP)" stroke="none" stroke-width="1" rx="2.8"/><rect x="842.54" y="378.99" width="7.55" height="52.23" fill="url(#gRedP)" stroke="none" stroke-width="1" rx="2.8"/><rect x="873.6" y="374.56" width="7.73" height="50.28" fill="url(#gRedP)" stroke="none" stroke-width="1" rx="2.8"/><rect x="895.68" y="371.4" width="8.55" height="50.29" fill="url(#gRedP)" stroke="none" stroke-width="1" rx="2.8"/><rect x="919.05" y="368.11" width="7.65" height="49.81" fill="url(#gRedP)" stroke="none" stroke-width="1" rx="2.8"/><rect x="938.59" y="365.58" width="7.72" height="49.77" fill="url(#gRedP)" stroke="none" stroke-width="1" rx="2.8"/><rect x="968.39" y="361.73" width="8.26" height="49.76" fill="url(#gRedP)" stroke="none" stroke-width="1" rx="2.8"/><rect x="692.5" y="315" width="3.76" height="34.92" fill="url(#gRedP)" stroke="none" stroke-width="1" rx="2"/><rect x="697.14" y="330.43" width="4.04" height="29.87" fill="url(#gRedP)" stroke="none" stroke-width="1" rx="2"/><rect x="702.45" y="343.6" width="4.37" height="28.77" fill="url(#gRedP)" stroke="none" stroke-width="1" rx="2"/><rect x="708.21" y="354.34" width="4.73" height="30.62" fill="url(#gRedP)" stroke="none" stroke-width="1" rx="2"/><rect x="715.08" y="365.51" width="5.16" height="35.21" fill="url(#gRedP)" stroke="none" stroke-width="1" rx="2"/><rect x="722.53" y="376.44" width="5.62" height="39.33" fill="url(#gRedP)" stroke="none" stroke-width="1" rx="2"/><rect x="732.27" y="388.18" width="6.22" height="49.66" fill="url(#gRedP)" stroke="none" stroke-width="1" rx="2"/><rect x="742.77" y="394.02" width="6.88" height="49.34" fill="url(#gRedP)" stroke="none" stroke-width="1" rx="2"/><polygon points="689.5,302 694,320 700,338 708,353 716,366 725,379 733,388 740,392.5 748,394 765,391.5 791,387 839,379.5 916,368.5 989.5,359 978,347 900,282.5 750,292" fill="#c08f34" stroke="#c08f34" stroke-width="2" stroke-linejoin="round"/><polygon points="765,389 791,384.5 839,377 916,366 989.5,356.5 989.5,360.5 916,370 839,381 791,388.5 765,393" fill="#c9a248" stroke="none" stroke-width="1" /><ellipse cx="700.09" cy="306.19" rx="2.2" ry="1.4" fill="#c7322d" stroke="none" stroke-width="1" /><ellipse cx="906.99" cy="359.59" rx="2.2" ry="1.4" fill="#c7322d" stroke="none" stroke-width="1" /><ellipse cx="752.41" cy="385.61" rx="2.2" ry="1.4" fill="#c7322d" stroke="none" stroke-width="1" /><ellipse cx="837.14" cy="344.93" rx="2.2" ry="1.4" fill="#c7322d" stroke="none" stroke-width="1" /><ellipse cx="806.8" cy="357.09" rx="2.2" ry="1.4" fill="#c7322d" stroke="none" stroke-width="1" /><ellipse cx="767.11" cy="386.96" rx="2.2" ry="1.4" fill="#c7322d" stroke="none" stroke-width="1" /><ellipse cx="886.99" cy="331.16" rx="2.2" ry="1.4" fill="#c7322d" stroke="none" stroke-width="1" /><ellipse cx="914.58" cy="357.7" rx="2.2" ry="1.4" fill="#c7322d" stroke="none" stroke-width="1" /><ellipse cx="911.94" cy="341.37" rx="2.2" ry="1.4" fill="#c7322d" stroke="none" stroke-width="1" /><ellipse cx="826.4" cy="371.03" rx="2.2" ry="1.4" fill="#c7322d" stroke="none" stroke-width="1" /><ellipse cx="934.64" cy="336.95" rx="2.2" ry="1.4" fill="#c7322d" stroke="none" stroke-width="1" /><ellipse cx="838.57" cy="365.46" rx="2.2" ry="1.4" fill="#c7322d" stroke="none" stroke-width="1" /><ellipse cx="934.86" cy="345.7" rx="2.2" ry="1.4" fill="#c7322d" stroke="none" stroke-width="1" /><ellipse cx="864.28" cy="336.14" rx="2.2" ry="1.4" fill="#c7322d" stroke="none" stroke-width="1" /><ellipse cx="841.01" cy="322.55" rx="2.2" ry="1.4" fill="#c7322d" stroke="none" stroke-width="1" /><ellipse cx="745.82" cy="353.69" rx="2.2" ry="1.4" fill="#c7322d" stroke="none" stroke-width="1" /><ellipse cx="951.5" cy="331.08" rx="2.2" ry="1.4" fill="#c7322d" stroke="none" stroke-width="1" /><ellipse cx="910.94" cy="356.44" rx="2.2" ry="1.4" fill="#c7322d" stroke="none" stroke-width="1" /><ellipse cx="874.3" cy="319.39" rx="2.2" ry="1.4" fill="#c7322d" stroke="none" stroke-width="1" /><ellipse cx="824.03" cy="341.69" rx="2.2" ry="1.4" fill="#c7322d" stroke="none" stroke-width="1" /><ellipse cx="759.84" cy="373.04" rx="2.2" ry="1.4" fill="#c7322d" stroke="none" stroke-width="1" /><ellipse cx="742.52" cy="367.15" rx="2.2" ry="1.4" fill="#c7322d" stroke="none" stroke-width="1" /><ellipse cx="834.41" cy="342.22" rx="2.2" ry="1.4" fill="#c7322d" stroke="none" stroke-width="1" /><ellipse cx="854.26" cy="308.32" rx="2.2" ry="1.4" fill="#c7322d" stroke="none" stroke-width="1" /><ellipse cx="856.37" cy="330.62" rx="2.2" ry="1.4" fill="#c7322d" stroke="none" stroke-width="1" /><ellipse cx="804.49" cy="374.52" rx="2.2" ry="1.4" fill="#c7322d" stroke="none" stroke-width="1" /><ellipse cx="756.49" cy="299" rx="2.2" ry="1.4" fill="#c7322d" stroke="none" stroke-width="1" /><ellipse cx="777.28" cy="356.11" rx="2.2" ry="1.4" fill="#c7322d" stroke="none" stroke-width="1" /><ellipse cx="892.9" cy="299.48" rx="2.2" ry="1.4" fill="#c7322d" stroke="none" stroke-width="1" /><ellipse cx="829.77" cy="347.93" rx="2.2" ry="1.4" fill="#c7322d" stroke="none" stroke-width="1" /><ellipse cx="819.12" cy="369.93" rx="2.2" ry="1.4" fill="#c7322d" stroke="none" stroke-width="1" /><ellipse cx="775.62" cy="355.21" rx="2.2" ry="1.4" fill="#c7322d" stroke="none" stroke-width="1" /><ellipse cx="892.98" cy="320.84" rx="2.2" ry="1.4" fill="#c7322d" stroke="none" stroke-width="1" /><ellipse cx="948.86" cy="354.21" rx="2.2" ry="1.4" fill="#c7322d" stroke="none" stroke-width="1" /><ellipse cx="841.25" cy="322.7" rx="2.2" ry="1.4" fill="#c7322d" stroke="none" stroke-width="1" /><ellipse cx="740.95" cy="327.62" rx="2.2" ry="1.4" fill="#c7322d" stroke="none" stroke-width="1" /><ellipse cx="905.04" cy="324.89" rx="2.2" ry="1.4" fill="#c7322d" stroke="none" stroke-width="1" /><ellipse cx="904.62" cy="354.63" rx="2.2" ry="1.4" fill="#c7322d" stroke="none" stroke-width="1" /><ellipse cx="811.23" cy="376.27" rx="2.2" ry="1.4" fill="#c7322d" stroke="none" stroke-width="1" /><ellipse cx="797.87" cy="308.79" rx="2.2" ry="1.4" fill="#c7322d" stroke="none" stroke-width="1" /><ellipse cx="755.03" cy="322.43" rx="2.2" ry="1.4" fill="#c7322d" stroke="none" stroke-width="1" /><ellipse cx="852.64" cy="323.95" rx="2.2" ry="1.4" fill="#c7322d" stroke="none" stroke-width="1" /><ellipse cx="790.67" cy="337.96" rx="2.2" ry="1.4" fill="#c7322d" stroke="none" stroke-width="1" /><ellipse cx="966.04" cy="345.63" rx="2.2" ry="1.4" fill="#c7322d" stroke="none" stroke-width="1" /><ellipse cx="735.63" cy="340.56" rx="2.2" ry="1.4" fill="#c7322d" stroke="none" stroke-width="1" /><ellipse cx="874.7" cy="290.08" rx="2.2" ry="1.4" fill="#c7322d" stroke="none" stroke-width="1" /><ellipse cx="841.9" cy="293.87" rx="2.2" ry="1.4" fill="#c7322d" stroke="none" stroke-width="1" /><ellipse cx="794.24" cy="344.36" rx="2.2" ry="1.4" fill="#c7322d" stroke="none" stroke-width="1" /><ellipse cx="742.39" cy="371" rx="2.2" ry="1.4" fill="#c7322d" stroke="none" stroke-width="1" /><ellipse cx="796.45" cy="306.07" rx="2.2" ry="1.4" fill="#c7322d" stroke="none" stroke-width="1" /><ellipse cx="865.33" cy="290.38" rx="2.2" ry="1.4" fill="#c7322d" stroke="none" stroke-width="1" /><ellipse cx="737.26" cy="320.88" rx="2.2" ry="1.4" fill="#c7322d" stroke="none" stroke-width="1" /><ellipse cx="826.04" cy="295.77" rx="2.2" ry="1.4" fill="#c7322d" stroke="none" stroke-width="1" /><ellipse cx="855.97" cy="326.34" rx="2.2" ry="1.4" fill="#c7322d" stroke="none" stroke-width="1" /><ellipse cx="911.23" cy="337.37" rx="2.2" ry="1.4" fill="#c7322d" stroke="none" stroke-width="1" /><ellipse cx="906.85" cy="363.77" rx="2.2" ry="1.4" fill="#c7322d" stroke="none" stroke-width="1" /><ellipse cx="805.09" cy="310.67" rx="2.2" ry="1.4" fill="#c7322d" stroke="none" stroke-width="1" /><ellipse cx="706.58" cy="318.64" rx="2.2" ry="1.4" fill="#c7322d" stroke="none" stroke-width="1" /><ellipse cx="876.26" cy="326.2" rx="2.2" ry="1.4" fill="#c7322d" stroke="none" stroke-width="1" /><ellipse cx="761.29" cy="313.27" rx="2.2" ry="1.4" fill="#c7322d" stroke="none" stroke-width="1" /><ellipse cx="862.89" cy="317.07" rx="2.2" ry="1.4" fill="#c7322d" stroke="none" stroke-width="1" /><ellipse cx="858.08" cy="332.4" rx="2.2" ry="1.4" fill="#c7322d" stroke="none" stroke-width="1" /><ellipse cx="825.4" cy="356.99" rx="2.2" ry="1.4" fill="#c7322d" stroke="none" stroke-width="1" /><ellipse cx="944.72" cy="344.53" rx="2.2" ry="1.4" fill="#c7322d" stroke="none" stroke-width="1" /><ellipse cx="891.6" cy="292.99" rx="2.2" ry="1.4" fill="#c7322d" stroke="none" stroke-width="1" /><ellipse cx="763.58" cy="361.88" rx="2.2" ry="1.4" fill="#c7322d" stroke="none" stroke-width="1" /><ellipse cx="855.54" cy="326.99" rx="2.2" ry="1.4" fill="#c7322d" stroke="none" stroke-width="1" /><ellipse cx="831.86" cy="369.83" rx="2.2" ry="1.4" fill="#c7322d" stroke="none" stroke-width="1" /><ellipse cx="920.23" cy="329.09" rx="2.2" ry="1.4" fill="#c7322d" stroke="none" stroke-width="1" /><ellipse cx="953.8" cy="343.74" rx="2.2" ry="1.4" fill="#c7322d" stroke="none" stroke-width="1" /><ellipse cx="861.91" cy="327.12" rx="2.2" ry="1.4" fill="#c7322d" stroke="none" stroke-width="1" /><ellipse cx="857.27" cy="305.91" rx="2.2" ry="1.4" fill="#c7322d" stroke="none" stroke-width="1" /><ellipse cx="886.35" cy="354.45" rx="2.2" ry="1.4" fill="#c7322d" stroke="none" stroke-width="1" /><ellipse cx="782.12" cy="359.08" rx="2.2" ry="1.4" fill="#c7322d" stroke="none" stroke-width="1" /><ellipse cx="970.88" cy="350.01" rx="2.2" ry="1.4" fill="#c7322d" stroke="none" stroke-width="1" /><ellipse cx="873.79" cy="370.02" rx="2.2" ry="1.4" fill="#c7322d" stroke="none" stroke-width="1" /><ellipse cx="811.05" cy="361.94" rx="2.2" ry="1.4" fill="#c7322d" stroke="none" stroke-width="1" /><ellipse cx="942.84" cy="354.67" rx="2.2" ry="1.4" fill="#c7322d" stroke="none" stroke-width="1" /><ellipse cx="731.41" cy="331.55" rx="2.2" ry="1.4" fill="#c7322d" stroke="none" stroke-width="1" /><ellipse cx="838.26" cy="327.87" rx="2.2" ry="1.4" fill="#c7322d" stroke="none" stroke-width="1" /><ellipse cx="847.56" cy="355.18" rx="2.2" ry="1.4" fill="#c7322d" stroke="none" stroke-width="1" /><ellipse cx="861.44" cy="291.03" rx="2.2" ry="1.4" fill="#c7322d" stroke="none" stroke-width="1" /><ellipse cx="862.38" cy="293.84" rx="2.2" ry="1.4" fill="#c7322d" stroke="none" stroke-width="1" /><ellipse cx="773.98" cy="311.47" rx="2.2" ry="1.4" fill="#c7322d" stroke="none" stroke-width="1" /><ellipse cx="769.86" cy="367.07" rx="2.2" ry="1.4" fill="#c7322d" stroke="none" stroke-width="1" /><ellipse cx="810.17" cy="305.84" rx="2.2" ry="1.4" fill="#c7322d" stroke="none" stroke-width="1" /><ellipse cx="924.07" cy="341.49" rx="2.2" ry="1.4" fill="#c7322d" stroke="none" stroke-width="1" /><ellipse cx="945.09" cy="335.98" rx="2.2" ry="1.4" fill="#c7322d" stroke="none" stroke-width="1" /><ellipse cx="929.24" cy="321.76" rx="2.2" ry="1.4" fill="#c7322d" stroke="none" stroke-width="1" /><ellipse cx="744.88" cy="306.63" rx="2.2" ry="1.4" fill="#c7322d" stroke="none" stroke-width="1" /><ellipse cx="894.54" cy="287.44" rx="7.93" ry="3.73" fill="#a3661f" opacity="0.55" transform="rotate(-5.32 893.94 285.84)"/><ellipse cx="893.94" cy="285.84" rx="7.93" ry="3.73" fill="url(#gBlob)" transform="rotate(-5.32 893.94 285.84)"/><ellipse cx="884.04" cy="288.1" rx="7.51" ry="4.2" fill="#a3661f" opacity="0.55" transform="rotate(-4.15 883.44 286.5)"/><ellipse cx="883.44" cy="286.5" rx="7.51" ry="4.2" fill="url(#gBlob)" transform="rotate(-4.15 883.44 286.5)"/><ellipse cx="879.07" cy="288.74" rx="6.83" ry="4.27" fill="#a3661f" opacity="0.55" transform="rotate(5.4 878.47 287.14)"/><ellipse cx="878.47" cy="287.14" rx="6.83" ry="4.27" fill="url(#gBlob)" transform="rotate(5.4 878.47 287.14)"/><ellipse cx="868.41" cy="288.88" rx="7.91" ry="3.51" fill="#a3661f" opacity="0.55" transform="rotate(-2.97 867.81 287.28)"/><ellipse cx="867.81" cy="287.28" rx="7.91" ry="3.51" fill="url(#gBlob)" transform="rotate(-2.97 867.81 287.28)"/><ellipse cx="893.95" cy="289.33" rx="9.4" ry="4.96" fill="#a3661f" opacity="0.55" transform="rotate(6.6 893.35 287.73)"/><ellipse cx="893.35" cy="287.73" rx="9.4" ry="4.96" fill="url(#gBlob)" transform="rotate(6.6 893.35 287.73)"/><ellipse cx="861.59" cy="289.42" rx="7.53" ry="3.53" fill="#a3661f" opacity="0.55" transform="rotate(-10.74 860.99 287.82)"/><ellipse cx="860.99" cy="287.82" rx="7.53" ry="3.53" fill="url(#gBlob)" transform="rotate(-10.74 860.99 287.82)"/><ellipse cx="853.59" cy="290.73" rx="7.57" ry="3.64" fill="#a3661f" opacity="0.55" transform="rotate(-7.01 852.99 289.13)"/><ellipse cx="852.99" cy="289.13" rx="7.57" ry="3.64" fill="url(#gBlob)" transform="rotate(-7.01 852.99 289.13)"/><ellipse cx="845.24" cy="291.08" rx="7.48" ry="3.96" fill="#a3661f" opacity="0.55" transform="rotate(-4.61 844.64 289.48)"/><ellipse cx="844.64" cy="289.48" rx="7.48" ry="3.96" fill="url(#gBlob)" transform="rotate(-4.61 844.64 289.48)"/><ellipse cx="832.78" cy="291.46" rx="7.19" ry="4.29" fill="#a3661f" opacity="0.55" transform="rotate(-5.73 832.18 289.86)"/><ellipse cx="832.18" cy="289.86" rx="7.19" ry="4.29" fill="url(#gBlob)" transform="rotate(-5.73 832.18 289.86)"/><ellipse cx="839.62" cy="291.54" rx="7.87" ry="4.36" fill="#a3661f" opacity="0.55" transform="rotate(4.49 839.02 289.94)"/><ellipse cx="839.02" cy="289.94" rx="7.87" ry="4.36" fill="url(#gBlob)" transform="rotate(4.49 839.02 289.94)"/><ellipse cx="823.66" cy="292.34" rx="7.75" ry="3.96" fill="#a3661f" opacity="0.55" transform="rotate(4.62 823.06 290.74)"/><ellipse cx="823.06" cy="290.74" rx="7.75" ry="3.96" fill="url(#gBlob)" transform="rotate(4.62 823.06 290.74)"/><ellipse cx="891.26" cy="292.84" rx="7.89" ry="4.75" fill="#a3661f" opacity="0.55" transform="rotate(4.06 890.66 291.24)"/><ellipse cx="890.66" cy="291.24" rx="7.89" ry="4.75" fill="url(#gBlob)" transform="rotate(4.06 890.66 291.24)"/><ellipse cx="903.54" cy="292.87" rx="8.66" ry="4.37" fill="#a3661f" opacity="0.55" transform="rotate(5.51 902.94 291.27)"/><ellipse cx="902.94" cy="291.27" rx="8.66" ry="4.37" fill="url(#gBlob)" transform="rotate(5.51 902.94 291.27)"/><ellipse cx="850.71" cy="292.96" rx="9.05" ry="5.16" fill="#a3661f" opacity="0.55" transform="rotate(9.05 850.11 291.36)"/><ellipse cx="850.11" cy="291.36" rx="9.05" ry="5.16" fill="url(#gBlob)" transform="rotate(9.05 850.11 291.36)"/><ellipse cx="805.97" cy="292.96" rx="6.96" ry="4.08" fill="#a3661f" opacity="0.55" transform="rotate(-7.31 805.37 291.36)"/><ellipse cx="805.37" cy="291.36" rx="6.96" ry="4.08" fill="url(#gBlob)" transform="rotate(-7.31 805.37 291.36)"/><ellipse cx="813.22" cy="293" rx="7.29" ry="3.64" fill="#a3661f" opacity="0.55" transform="rotate(-2.13 812.62 291.4)"/><ellipse cx="812.62" cy="291.4" rx="7.29" ry="3.64" fill="url(#gBlob)" transform="rotate(-2.13 812.62 291.4)"/><ellipse cx="865.8" cy="293.44" rx="8.13" ry="5.46" fill="#a3661f" opacity="0.55" transform="rotate(7.42 865.2 291.84)"/><ellipse cx="865.2" cy="291.84" rx="8.13" ry="5.46" fill="url(#gBlob)" transform="rotate(7.42 865.2 291.84)"/><ellipse cx="798.07" cy="293.9" rx="7.12" ry="3.76" fill="#a3661f" opacity="0.55" transform="rotate(7.54 797.47 292.3)"/><ellipse cx="797.47" cy="292.3" rx="7.12" ry="3.76" fill="url(#gBlob)" transform="rotate(7.54 797.47 292.3)"/><ellipse cx="875.04" cy="293.9" rx="8.33" ry="5.73" fill="#a3661f" opacity="0.55" transform="rotate(-16.27 874.44 292.3)"/><ellipse cx="874.44" cy="292.3" rx="8.33" ry="5.73" fill="url(#gBlob)" transform="rotate(-16.27 874.44 292.3)"/><ellipse cx="793" cy="294.75" rx="7.26" ry="4.31" fill="#a3661f" opacity="0.55" transform="rotate(-11.24 792.4 293.15)"/><ellipse cx="792.4" cy="293.15" rx="7.26" ry="4.31" fill="url(#gBlob)" transform="rotate(-11.24 792.4 293.15)"/><ellipse cx="826.17" cy="294.78" rx="8.2" ry="4.71" fill="#a3661f" opacity="0.55" transform="rotate(-3.79 825.57 293.18)"/><ellipse cx="825.57" cy="293.18" rx="8.2" ry="4.71" fill="url(#gBlob)" transform="rotate(-3.79 825.57 293.18)"/><ellipse cx="784.34" cy="294.93" rx="7.32" ry="3.82" fill="#a3661f" opacity="0.55" transform="rotate(-6.48 783.74 293.33)"/><ellipse cx="783.74" cy="293.33" rx="7.32" ry="3.82" fill="url(#gBlob)" transform="rotate(-6.48 783.74 293.33)"/><ellipse cx="777.8" cy="294.98" rx="7.65" ry="4.34" fill="#a3661f" opacity="0.55" transform="rotate(3.43 777.2 293.38)"/><ellipse cx="777.2" cy="293.38" rx="7.65" ry="4.34" fill="url(#gBlob)" transform="rotate(3.43 777.2 293.38)"/><ellipse cx="838.23" cy="295.15" rx="8.59" ry="5.19" fill="#a3661f" opacity="0.55" transform="rotate(-18.61 837.63 293.55)"/><ellipse cx="837.63" cy="293.55" rx="8.59" ry="5.19" fill="url(#gBlob)" transform="rotate(-18.61 837.63 293.55)"/><ellipse cx="759.31" cy="295.68" rx="7.19" ry="4.29" fill="#a3661f" opacity="0.55" transform="rotate(-0.69 758.71 294.08)"/><ellipse cx="758.71" cy="294.08" rx="7.19" ry="4.29" fill="url(#gBlob)" transform="rotate(-0.69 758.71 294.08)"/><ellipse cx="767.19" cy="296.08" rx="6.87" ry="3.87" fill="#a3661f" opacity="0.55" transform="rotate(0.31 766.59 294.48)"/><ellipse cx="766.59" cy="294.48" rx="6.87" ry="3.87" fill="url(#gBlob)" transform="rotate(0.31 766.59 294.48)"/><ellipse cx="814.22" cy="296.78" rx="9.1" ry="4.61" fill="#a3661f" opacity="0.55" transform="rotate(4.24 813.62 295.18)"/><ellipse cx="813.62" cy="295.18" rx="9.1" ry="4.61" fill="url(#gBlob)" transform="rotate(4.24 813.62 295.18)"/><ellipse cx="750.66" cy="296.89" rx="7.67" ry="3.87" fill="#a3661f" opacity="0.55" transform="rotate(-5.49 750.06 295.29)"/><ellipse cx="750.06" cy="295.29" rx="7.67" ry="3.87" fill="url(#gBlob)" transform="rotate(-5.49 750.06 295.29)"/><ellipse cx="894.35" cy="297.02" rx="8.99" ry="5.22" fill="#a3661f" opacity="0.55" transform="rotate(-9.42 893.75 295.42)"/><ellipse cx="893.75" cy="295.42" rx="8.99" ry="5.22" fill="url(#gBlob)" transform="rotate(-9.42 893.75 295.42)"/><ellipse cx="909.72" cy="297.93" rx="8.66" ry="4.6" fill="#a3661f" opacity="0.55" transform="rotate(-1.87 909.12 296.33)"/><ellipse cx="909.12" cy="296.33" rx="8.66" ry="4.6" fill="url(#gBlob)" transform="rotate(-1.87 909.12 296.33)"/><ellipse cx="742.69" cy="298.05" rx="7.23" ry="3.46" fill="#a3661f" opacity="0.55" transform="rotate(-3.91 742.09 296.45)"/><ellipse cx="742.09" cy="296.45" rx="7.23" ry="3.46" fill="url(#gBlob)" transform="rotate(-3.91 742.09 296.45)"/><ellipse cx="867.18" cy="298.4" rx="8.79" ry="4.49" fill="#a3661f" opacity="0.55" transform="rotate(-10.77 866.58 296.8)"/><ellipse cx="866.58" cy="296.8" rx="8.79" ry="4.49" fill="url(#gBlob)" transform="rotate(-10.77 866.58 296.8)"/><ellipse cx="909.23" cy="298.52" rx="9.33" ry="5.57" fill="#a3661f" opacity="0.55" transform="rotate(14.2 908.63 296.92)"/><ellipse cx="908.63" cy="296.92" rx="9.33" ry="5.57" fill="url(#gBlob)" transform="rotate(14.2 908.63 296.92)"/><ellipse cx="789.67" cy="298.97" rx="9.15" ry="5.81" fill="#a3661f" opacity="0.55" transform="rotate(-19.82 789.07 297.37)"/><ellipse cx="789.07" cy="297.37" rx="9.15" ry="5.81" fill="url(#gBlob)" transform="rotate(-19.82 789.07 297.37)"/><ellipse cx="778.96" cy="299.02" rx="9.61" ry="5.78" fill="#a3661f" opacity="0.55" transform="rotate(-5.94 778.36 297.42)"/><ellipse cx="778.36" cy="297.42" rx="9.61" ry="5.78" fill="url(#gBlob)" transform="rotate(-5.94 778.36 297.42)"/><ellipse cx="883.61" cy="299.4" rx="8.26" ry="5.85" fill="#a3661f" opacity="0.55" transform="rotate(1.64 883.01 297.8)"/><ellipse cx="883.01" cy="297.8" rx="8.26" ry="5.85" fill="url(#gBlob)" transform="rotate(1.64 883.01 297.8)"/><ellipse cx="735.36" cy="299.54" rx="7.9" ry="3.95" fill="#a3661f" opacity="0.55" transform="rotate(2 734.76 297.94)"/><ellipse cx="734.76" cy="297.94" rx="7.9" ry="3.95" fill="url(#gBlob)" transform="rotate(2 734.76 297.94)"/><ellipse cx="729.57" cy="300.01" rx="6.69" ry="3.74" fill="#a3661f" opacity="0.55" transform="rotate(-3.55 728.97 298.41)"/><ellipse cx="728.97" cy="298.41" rx="6.69" ry="3.74" fill="url(#gBlob)" transform="rotate(-3.55 728.97 298.41)"/><ellipse cx="801.99" cy="300.04" rx="8.19" ry="4.82" fill="#a3661f" opacity="0.55" transform="rotate(2.48 801.39 298.44)"/><ellipse cx="801.39" cy="298.44" rx="8.19" ry="4.82" fill="url(#gBlob)" transform="rotate(2.48 801.39 298.44)"/><ellipse cx="772.01" cy="301.02" rx="9.92" ry="4.9" fill="#a3661f" opacity="0.55" transform="rotate(-6.07 771.41 299.42)"/><ellipse cx="771.41" cy="299.42" rx="9.92" ry="4.9" fill="url(#gBlob)" transform="rotate(-6.07 771.41 299.42)"/><ellipse cx="747.24" cy="301.36" rx="8.97" ry="5.09" fill="#a3661f" opacity="0.55" transform="rotate(7.04 746.64 299.76)"/><ellipse cx="746.64" cy="299.76" rx="8.97" ry="5.09" fill="url(#gBlob)" transform="rotate(7.04 746.64 299.76)"/><ellipse cx="720.18" cy="301.45" rx="7.3" ry="3.88" fill="#a3661f" opacity="0.55" transform="rotate(-8.67 719.58 299.85)"/><ellipse cx="719.58" cy="299.85" rx="7.3" ry="3.88" fill="url(#gBlob)" transform="rotate(-8.67 719.58 299.85)"/><ellipse cx="861.1" cy="301.82" rx="9.57" ry="5.1" fill="#a3661f" opacity="0.55" transform="rotate(3.91 860.5 300.22)"/><ellipse cx="860.5" cy="300.22" rx="9.57" ry="5.1" fill="url(#gBlob)" transform="rotate(3.91 860.5 300.22)"/><ellipse cx="712.79" cy="302.53" rx="7.27" ry="3.73" fill="#a3661f" opacity="0.55" transform="rotate(-2.06 712.19 300.93)"/><ellipse cx="712.19" cy="300.93" rx="7.27" ry="3.73" fill="url(#gBlob)" transform="rotate(-2.06 712.19 300.93)"/><ellipse cx="757.37" cy="303.05" rx="9.42" ry="4.63" fill="#a3661f" opacity="0.55" transform="rotate(-3.45 756.77 301.45)"/><ellipse cx="756.77" cy="301.45" rx="9.42" ry="4.63" fill="url(#gBlob)" transform="rotate(-3.45 756.77 301.45)"/><ellipse cx="849.9" cy="303.29" rx="8.76" ry="5.84" fill="#a3661f" opacity="0.55" transform="rotate(10.19 849.3 301.69)"/><ellipse cx="849.3" cy="301.69" rx="8.76" ry="5.84" fill="url(#gBlob)" transform="rotate(10.19 849.3 301.69)"/><ellipse cx="915.06" cy="303.37" rx="7.46" ry="3.98" fill="#a3661f" opacity="0.55" transform="rotate(-4.66 914.46 301.77)"/><ellipse cx="914.46" cy="301.77" rx="7.46" ry="3.98" fill="url(#gBlob)" transform="rotate(-4.66 914.46 301.77)"/><ellipse cx="706.84" cy="303.76" rx="7.77" ry="3.49" fill="#a3661f" opacity="0.55" transform="rotate(-3.45 706.24 302.16)"/><ellipse cx="706.24" cy="302.16" rx="7.77" ry="3.49" fill="url(#gBlob)" transform="rotate(-3.45 706.24 302.16)"/><ellipse cx="916.02" cy="304.28" rx="8.67" ry="4.94" fill="#a3661f" opacity="0.55" transform="rotate(2.4 915.42 302.68)"/><ellipse cx="915.42" cy="302.68" rx="8.67" ry="4.94" fill="url(#gBlob)" transform="rotate(2.4 915.42 302.68)"/><ellipse cx="699.2" cy="305" rx="7.88" ry="4.07" fill="#a3661f" opacity="0.55" transform="rotate(7.1 698.6 303.4)"/><ellipse cx="698.6" cy="303.4" rx="7.88" ry="4.07" fill="url(#gBlob)" transform="rotate(7.1 698.6 303.4)"/><ellipse cx="838.79" cy="305.32" rx="8.45" ry="5.89" fill="#a3661f" opacity="0.55" transform="rotate(4.78 838.19 303.72)"/><ellipse cx="838.19" cy="303.72" rx="8.45" ry="5.89" fill="url(#gBlob)" transform="rotate(4.78 838.19 303.72)"/><ellipse cx="875.56" cy="305.4" rx="9.43" ry="5.22" fill="#a3661f" opacity="0.55" transform="rotate(-14.51 874.96 303.8)"/><ellipse cx="874.96" cy="303.8" rx="9.43" ry="5.22" fill="url(#gBlob)" transform="rotate(-14.51 874.96 303.8)"/><ellipse cx="731.3" cy="305.41" rx="9.11" ry="5.29" fill="#a3661f" opacity="0.55" transform="rotate(-0.79 730.7 303.81)"/><ellipse cx="730.7" cy="303.81" rx="9.11" ry="5.29" fill="url(#gBlob)" transform="rotate(-0.79 730.7 303.81)"/><ellipse cx="889.48" cy="306.08" rx="9.71" ry="5.34" fill="#a3661f" opacity="0.55" transform="rotate(14.91 888.88 304.48)"/><ellipse cx="888.88" cy="304.48" rx="9.71" ry="5.34" fill="url(#gBlob)" transform="rotate(14.91 888.88 304.48)"/><ellipse cx="825.11" cy="306.08" rx="8.82" ry="5.44" fill="#a3661f" opacity="0.55" transform="rotate(-4.83 824.51 304.48)"/><ellipse cx="824.51" cy="304.48" rx="8.82" ry="5.44" fill="url(#gBlob)" transform="rotate(-4.83 824.51 304.48)"/><ellipse cx="905.53" cy="306.11" rx="8.42" ry="4.73" fill="#a3661f" opacity="0.55" transform="rotate(10.71 904.93 304.51)"/><ellipse cx="904.93" cy="304.51" rx="8.42" ry="4.73" fill="url(#gBlob)" transform="rotate(10.71 904.93 304.51)"/><ellipse cx="807.45" cy="306.15" rx="9.98" ry="5.74" fill="#a3661f" opacity="0.55" transform="rotate(3.19 806.85 304.55)"/><ellipse cx="806.85" cy="304.55" rx="9.98" ry="5.74" fill="url(#gBlob)" transform="rotate(3.19 806.85 304.55)"/><ellipse cx="800.5" cy="306.54" rx="8.83" ry="4.86" fill="#a3661f" opacity="0.55" transform="rotate(-18.4 799.9 304.94)"/><ellipse cx="799.9" cy="304.94" rx="8.83" ry="4.86" fill="url(#gBlob)" transform="rotate(-18.4 799.9 304.94)"/><ellipse cx="719.93" cy="308.01" rx="9.93" ry="6.01" fill="#a3661f" opacity="0.55" transform="rotate(-4.03 719.33 306.41)"/><ellipse cx="719.33" cy="306.41" rx="9.93" ry="6.01" fill="url(#gBlob)" transform="rotate(-4.03 719.33 306.41)"/><ellipse cx="695.87" cy="308.33" rx="9.64" ry="5.53" fill="#a3661f" opacity="0.55" transform="rotate(-4.09 695.27 306.73)"/><ellipse cx="695.27" cy="306.73" rx="9.64" ry="5.53" fill="url(#gBlob)" transform="rotate(-4.09 695.27 306.73)"/><ellipse cx="710.25" cy="308.59" rx="8.65" ry="5.16" fill="#a3661f" opacity="0.55" transform="rotate(8.81 709.65 306.99)"/><ellipse cx="709.65" cy="306.99" rx="8.65" ry="5.16" fill="url(#gBlob)" transform="rotate(8.81 709.65 306.99)"/><ellipse cx="920.7" cy="308.6" rx="9.81" ry="5.39" fill="#a3661f" opacity="0.55" transform="rotate(8.46 920.1 307)"/><ellipse cx="920.1" cy="307" rx="9.81" ry="5.39" fill="url(#gBlob)" transform="rotate(8.46 920.1 307)"/><ellipse cx="865.83" cy="308.68" rx="8.4" ry="4.68" fill="#a3661f" opacity="0.55" transform="rotate(-3.88 865.23 307.08)"/><ellipse cx="865.23" cy="307.08" rx="8.4" ry="4.68" fill="url(#gBlob)" transform="rotate(-3.88 865.23 307.08)"/><ellipse cx="784.01" cy="308.83" rx="9.59" ry="5.84" fill="#a3661f" opacity="0.55" transform="rotate(-17.75 783.41 307.23)"/><ellipse cx="783.41" cy="307.23" rx="9.59" ry="5.84" fill="url(#gBlob)" transform="rotate(-17.75 783.41 307.23)"/><ellipse cx="856.89" cy="308.86" rx="9.87" ry="5.49" fill="#a3661f" opacity="0.55" transform="rotate(-20.4 856.29 307.26)"/><ellipse cx="856.29" cy="307.26" rx="9.87" ry="5.49" fill="url(#gBlob)" transform="rotate(-20.4 856.29 307.26)"/><ellipse cx="922.02" cy="309.13" rx="8.94" ry="3.93" fill="#a3661f" opacity="0.55" transform="rotate(12.19 921.42 307.53)"/><ellipse cx="921.42" cy="307.53" rx="8.94" ry="3.93" fill="url(#gBlob)" transform="rotate(12.19 921.42 307.53)"/><ellipse cx="746.64" cy="310.06" rx="8.43" ry="5.86" fill="#a3661f" opacity="0.55" transform="rotate(14.61 746.04 308.46)"/><ellipse cx="746.04" cy="308.46" rx="8.43" ry="5.86" fill="url(#gBlob)" transform="rotate(14.61 746.04 308.46)"/><ellipse cx="774.96" cy="310.49" rx="9.07" ry="5.38" fill="#a3661f" opacity="0.55" transform="rotate(-7.8 774.36 308.89)"/><ellipse cx="774.36" cy="308.89" rx="9.07" ry="5.38" fill="url(#gBlob)" transform="rotate(-7.8 774.36 308.89)"/><ellipse cx="907.85" cy="310.7" rx="8.83" ry="5.21" fill="#a3661f" opacity="0.55" transform="rotate(-9.5 907.25 309.1)"/><ellipse cx="907.25" cy="309.1" rx="8.83" ry="5.21" fill="url(#gBlob)" transform="rotate(-9.5 907.25 309.1)"/><ellipse cx="732.86" cy="311.09" rx="9.29" ry="5.39" fill="#a3661f" opacity="0.55" transform="rotate(-2.25 732.26 309.49)"/><ellipse cx="732.26" cy="309.49" rx="9.29" ry="5.39" fill="url(#gBlob)" transform="rotate(-2.25 732.26 309.49)"/><ellipse cx="895.71" cy="311.79" rx="10.23" ry="5.96" fill="#a3661f" opacity="0.55" transform="rotate(-15.07 895.11 310.19)"/><ellipse cx="895.11" cy="310.19" rx="10.23" ry="5.96" fill="url(#gBlob)" transform="rotate(-15.07 895.11 310.19)"/><ellipse cx="819.89" cy="312.24" rx="9.79" ry="4.72" fill="#a3661f" opacity="0.55" transform="rotate(14.55 819.29 310.64)"/><ellipse cx="819.29" cy="310.64" rx="9.79" ry="4.72" fill="url(#gBlob)" transform="rotate(14.55 819.29 310.64)"/><ellipse cx="801.7" cy="312.28" rx="8.09" ry="4.87" fill="#a3661f" opacity="0.55" transform="rotate(5.19 801.1 310.68)"/><ellipse cx="801.1" cy="310.68" rx="8.09" ry="4.87" fill="url(#gBlob)" transform="rotate(5.19 801.1 310.68)"/><ellipse cx="761.09" cy="312.55" rx="8.14" ry="6.06" fill="#a3661f" opacity="0.55" transform="rotate(-6.52 760.49 310.95)"/><ellipse cx="760.49" cy="310.95" rx="8.14" ry="6.06" fill="url(#gBlob)" transform="rotate(-6.52 760.49 310.95)"/><ellipse cx="841.64" cy="312.77" rx="9.26" ry="6.04" fill="#a3661f" opacity="0.55" transform="rotate(3.91 841.04 311.17)"/><ellipse cx="841.04" cy="311.17" rx="9.26" ry="6.04" fill="url(#gBlob)" transform="rotate(3.91 841.04 311.17)"/><ellipse cx="828.21" cy="314.02" rx="10.22" ry="5.3" fill="#a3661f" opacity="0.55" transform="rotate(-5.9 827.61 312.42)"/><ellipse cx="827.61" cy="312.42" rx="10.22" ry="5.3" fill="url(#gBlob)" transform="rotate(-5.9 827.61 312.42)"/><ellipse cx="927.86" cy="314.07" rx="7.79" ry="4.73" fill="#a3661f" opacity="0.55" transform="rotate(19.72 927.26 312.47)"/><ellipse cx="927.26" cy="312.47" rx="7.79" ry="4.73" fill="url(#gBlob)" transform="rotate(19.72 927.26 312.47)"/><ellipse cx="697.97" cy="314.31" rx="9.69" ry="4.69" fill="#a3661f" opacity="0.55" transform="rotate(-16.96 697.37 312.71)"/><ellipse cx="697.37" cy="312.71" rx="9.69" ry="4.69" fill="url(#gBlob)" transform="rotate(-16.96 697.37 312.71)"/><ellipse cx="869.49" cy="314.8" rx="9.76" ry="5.52" fill="#a3661f" opacity="0.55" transform="rotate(11.74 868.89 313.2)"/><ellipse cx="868.89" cy="313.2" rx="9.76" ry="5.52" fill="url(#gBlob)" transform="rotate(11.74 868.89 313.2)"/><ellipse cx="725.19" cy="314.96" rx="9.71" ry="4.96" fill="#a3661f" opacity="0.55" transform="rotate(-22.18 724.59 313.36)"/><ellipse cx="724.59" cy="313.36" rx="9.71" ry="4.96" fill="url(#gBlob)" transform="rotate(-22.18 724.59 313.36)"/><ellipse cx="890.07" cy="315.24" rx="9.11" ry="5.88" fill="#a3661f" opacity="0.55" transform="rotate(-12.81 889.47 313.64)"/><ellipse cx="889.47" cy="313.64" rx="9.11" ry="5.88" fill="url(#gBlob)" transform="rotate(-12.81 889.47 313.64)"/><ellipse cx="715.37" cy="315.47" rx="10.41" ry="4.85" fill="#a3661f" opacity="0.55" transform="rotate(-4.77 714.77 313.87)"/><ellipse cx="714.77" cy="313.87" rx="10.41" ry="4.85" fill="url(#gBlob)" transform="rotate(-4.77 714.77 313.87)"/><ellipse cx="794.4" cy="316.09" rx="8.75" ry="5.76" fill="#a3661f" opacity="0.55" transform="rotate(-13.16 793.8 314.49)"/><ellipse cx="793.8" cy="314.49" rx="8.75" ry="5.76" fill="url(#gBlob)" transform="rotate(-13.16 793.8 314.49)"/><ellipse cx="781.24" cy="316.29" rx="9.52" ry="5.24" fill="#a3661f" opacity="0.55" transform="rotate(-13.57 780.64 314.69)"/><ellipse cx="780.64" cy="314.69" rx="9.52" ry="5.24" fill="url(#gBlob)" transform="rotate(-13.57 780.64 314.69)"/><ellipse cx="848.46" cy="316.31" rx="8.27" ry="5.15" fill="#a3661f" opacity="0.55" transform="rotate(4 847.86 314.71)"/><ellipse cx="847.86" cy="314.71" rx="8.27" ry="5.15" fill="url(#gBlob)" transform="rotate(4 847.86 314.71)"/><ellipse cx="767.26" cy="316.39" rx="9.56" ry="4.78" fill="#a3661f" opacity="0.55" transform="rotate(12.81 766.66 314.79)"/><ellipse cx="766.66" cy="314.79" rx="9.56" ry="4.78" fill="url(#gBlob)" transform="rotate(12.81 766.66 314.79)"/><ellipse cx="913.79" cy="317.23" rx="9.94" ry="5.17" fill="#a3661f" opacity="0.55" transform="rotate(-3.07 913.19 315.63)"/><ellipse cx="913.19" cy="315.63" rx="9.94" ry="5.17" fill="url(#gBlob)" transform="rotate(-3.07 913.19 315.63)"/><ellipse cx="859.9" cy="317.34" rx="8.44" ry="5.24" fill="#a3661f" opacity="0.55" transform="rotate(4.04 859.3 315.74)"/><ellipse cx="859.3" cy="315.74" rx="8.44" ry="5.24" fill="url(#gBlob)" transform="rotate(4.04 859.3 315.74)"/><ellipse cx="930.96" cy="317.74" rx="8.73" ry="6.04" fill="#a3661f" opacity="0.55" transform="rotate(11.57 930.36 316.14)"/><ellipse cx="930.36" cy="316.14" rx="8.73" ry="6.04" fill="url(#gBlob)" transform="rotate(11.57 930.36 316.14)"/><ellipse cx="905.27" cy="317.97" rx="9.56" ry="5.05" fill="#a3661f" opacity="0.55" transform="rotate(-17.6 904.67 316.37)"/><ellipse cx="904.67" cy="316.37" rx="9.56" ry="5.05" fill="url(#gBlob)" transform="rotate(-17.6 904.67 316.37)"/><ellipse cx="825.2" cy="318.22" rx="8.3" ry="4.84" fill="#a3661f" opacity="0.55" transform="rotate(-2.43 824.6 316.62)"/><ellipse cx="824.6" cy="316.62" rx="8.3" ry="4.84" fill="url(#gBlob)" transform="rotate(-2.43 824.6 316.62)"/><ellipse cx="837.56" cy="318.75" rx="8.85" ry="5.89" fill="#a3661f" opacity="0.55" transform="rotate(-21.96 836.96 317.15)"/><ellipse cx="836.96" cy="317.15" rx="8.85" ry="5.89" fill="url(#gBlob)" transform="rotate(-21.96 836.96 317.15)"/><ellipse cx="933.08" cy="319.56" rx="7.24" ry="3.84" fill="#a3661f" opacity="0.55" transform="rotate(2.15 932.48 317.96)"/><ellipse cx="932.48" cy="317.96" rx="7.24" ry="3.84" fill="url(#gBlob)" transform="rotate(2.15 932.48 317.96)"/><ellipse cx="752.22" cy="320.64" rx="10.45" ry="4.98" fill="#a3661f" opacity="0.55" transform="rotate(-6.13 751.62 319.04)"/><ellipse cx="751.62" cy="319.04" rx="10.45" ry="4.98" fill="url(#gBlob)" transform="rotate(-6.13 751.62 319.04)"/><ellipse cx="711.73" cy="320.87" rx="9.09" ry="4.89" fill="#a3661f" opacity="0.55" transform="rotate(-14.96 711.13 319.27)"/><ellipse cx="711.13" cy="319.27" rx="9.09" ry="4.89" fill="url(#gBlob)" transform="rotate(-14.96 711.13 319.27)"/><ellipse cx="813.85" cy="321.58" rx="10.45" ry="5.4" fill="#a3661f" opacity="0.55" transform="rotate(-10.23 813.25 319.98)"/><ellipse cx="813.25" cy="319.98" rx="10.45" ry="5.4" fill="url(#gBlob)" transform="rotate(-10.23 813.25 319.98)"/><ellipse cx="701.82" cy="321.63" rx="10" ry="5.14" fill="#a3661f" opacity="0.55" transform="rotate(-8.94 701.22 320.03)"/><ellipse cx="701.22" cy="320.03" rx="10" ry="5.14" fill="url(#gBlob)" transform="rotate(-8.94 701.22 320.03)"/><ellipse cx="935.34" cy="322.42" rx="9.16" ry="5.78" fill="#a3661f" opacity="0.55" transform="rotate(-14.74 934.74 320.82)"/><ellipse cx="934.74" cy="320.82" rx="9.16" ry="5.78" fill="url(#gBlob)" transform="rotate(-14.74 934.74 320.82)"/><ellipse cx="744.23" cy="322.52" rx="10.2" ry="4.88" fill="#a3661f" opacity="0.55" transform="rotate(-1.1 743.63 320.92)"/><ellipse cx="743.63" cy="320.92" rx="10.2" ry="4.88" fill="url(#gBlob)" transform="rotate(-1.1 743.63 320.92)"/><ellipse cx="890.87" cy="322.67" rx="8.47" ry="5.05" fill="#a3661f" opacity="0.55" transform="rotate(-16.31 890.27 321.07)"/><ellipse cx="890.27" cy="321.07" rx="8.47" ry="5.05" fill="url(#gBlob)" transform="rotate(-16.31 890.27 321.07)"/><ellipse cx="924.5" cy="323.26" rx="8.93" ry="5.35" fill="#a3661f" opacity="0.55" transform="rotate(-3.41 923.9 321.66)"/><ellipse cx="923.9" cy="321.66" rx="8.93" ry="5.35" fill="url(#gBlob)" transform="rotate(-3.41 923.9 321.66)"/><ellipse cx="878.95" cy="323.4" rx="8.37" ry="5.48" fill="#a3661f" opacity="0.55" transform="rotate(-1.64 878.35 321.8)"/><ellipse cx="878.35" cy="321.8" rx="8.37" ry="5.48" fill="url(#gBlob)" transform="rotate(-1.64 878.35 321.8)"/><ellipse cx="729.79" cy="323.41" rx="9.47" ry="6.25" fill="#a3661f" opacity="0.55" transform="rotate(-2.28 729.19 321.81)"/><ellipse cx="729.19" cy="321.81" rx="9.47" ry="6.25" fill="url(#gBlob)" transform="rotate(-2.28 729.19 321.81)"/><ellipse cx="799.86" cy="324.34" rx="9.86" ry="6.3" fill="#a3661f" opacity="0.55" transform="rotate(-11.98 799.26 322.74)"/><ellipse cx="799.26" cy="322.74" rx="9.86" ry="6.3" fill="url(#gBlob)" transform="rotate(-11.98 799.26 322.74)"/><ellipse cx="852.42" cy="324.49" rx="8.74" ry="5.44" fill="#a3661f" opacity="0.55" transform="rotate(-13.32 851.82 322.89)"/><ellipse cx="851.82" cy="322.89" rx="8.74" ry="5.44" fill="url(#gBlob)" transform="rotate(-13.32 851.82 322.89)"/><ellipse cx="789.88" cy="324.5" rx="8.77" ry="5.44" fill="#a3661f" opacity="0.55" transform="rotate(-14.68 789.28 322.9)"/><ellipse cx="789.28" cy="322.9" rx="8.77" ry="5.44" fill="url(#gBlob)" transform="rotate(-14.68 789.28 322.9)"/><ellipse cx="941.46" cy="325.33" rx="7.24" ry="4.13" fill="#a3661f" opacity="0.55" transform="rotate(-4.34 940.86 323.73)"/><ellipse cx="940.86" cy="323.73" rx="7.24" ry="4.13" fill="url(#gBlob)" transform="rotate(-4.34 940.86 323.73)"/><ellipse cx="866.48" cy="325.71" rx="9.03" ry="4.98" fill="#a3661f" opacity="0.55" transform="rotate(0.92 865.88 324.11)"/><ellipse cx="865.88" cy="324.11" rx="9.03" ry="4.98" fill="url(#gBlob)" transform="rotate(0.92 865.88 324.11)"/><ellipse cx="842.12" cy="325.85" rx="8.63" ry="5.94" fill="#a3661f" opacity="0.55" transform="rotate(14.64 841.52 324.25)"/><ellipse cx="841.52" cy="324.25" rx="8.63" ry="5.94" fill="url(#gBlob)" transform="rotate(14.64 841.52 324.25)"/><ellipse cx="912.44" cy="326.29" rx="8.3" ry="6.34" fill="#a3661f" opacity="0.55" transform="rotate(6.98 911.84 324.69)"/><ellipse cx="911.84" cy="324.69" rx="8.3" ry="6.34" fill="url(#gBlob)" transform="rotate(6.98 911.84 324.69)"/><ellipse cx="777.82" cy="326.3" rx="8.46" ry="4.99" fill="#a3661f" opacity="0.55" transform="rotate(7.37 777.22 324.7)"/><ellipse cx="777.22" cy="324.7" rx="8.46" ry="4.99" fill="url(#gBlob)" transform="rotate(7.37 777.22 324.7)"/><ellipse cx="884.89" cy="327.36" rx="9.45" ry="6.31" fill="#a3661f" opacity="0.55" transform="rotate(8.19 884.29 325.76)"/><ellipse cx="884.29" cy="325.76" rx="9.45" ry="6.31" fill="url(#gBlob)" transform="rotate(8.19 884.29 325.76)"/><ellipse cx="759.69" cy="327.46" rx="9.5" ry="5.15" fill="#a3661f" opacity="0.55" transform="rotate(-11.25 759.09 325.86)"/><ellipse cx="759.09" cy="325.86" rx="9.5" ry="5.15" fill="url(#gBlob)" transform="rotate(-11.25 759.09 325.86)"/><ellipse cx="729.6" cy="327.47" rx="9.36" ry="5.79" fill="#a3661f" opacity="0.55" transform="rotate(-20.9 729 325.87)"/><ellipse cx="729" cy="325.87" rx="9.36" ry="5.79" fill="url(#gBlob)" transform="rotate(-20.9 729 325.87)"/><ellipse cx="946.12" cy="327.89" rx="9.03" ry="6.21" fill="#a3661f" opacity="0.55" transform="rotate(-15.37 945.52 326.29)"/><ellipse cx="945.52" cy="326.29" rx="9.03" ry="6.21" fill="url(#gBlob)" transform="rotate(-15.37 945.52 326.29)"/><ellipse cx="896.94" cy="328.51" rx="9.27" ry="5.93" fill="#a3661f" opacity="0.55" transform="rotate(-15.5 896.34 326.91)"/><ellipse cx="896.34" cy="326.91" rx="9.27" ry="5.93" fill="url(#gBlob)" transform="rotate(-15.5 896.34 326.91)"/><ellipse cx="743.06" cy="328.58" rx="8.54" ry="5.88" fill="#a3661f" opacity="0.55" transform="rotate(-2.97 742.46 326.98)"/><ellipse cx="742.46" cy="326.98" rx="8.54" ry="5.88" fill="url(#gBlob)" transform="rotate(-2.97 742.46 326.98)"/><ellipse cx="722.18" cy="329.1" rx="10.64" ry="6.2" fill="#a3661f" opacity="0.55" transform="rotate(-23.42 721.58 327.5)"/><ellipse cx="721.58" cy="327.5" rx="10.64" ry="6.2" fill="url(#gBlob)" transform="rotate(-23.42 721.58 327.5)"/><ellipse cx="821.57" cy="329.32" rx="10.36" ry="6.14" fill="#a3661f" opacity="0.55" transform="rotate(10.55 820.97 327.72)"/><ellipse cx="820.97" cy="327.72" rx="10.36" ry="6.14" fill="url(#gBlob)" transform="rotate(10.55 820.97 327.72)"/><ellipse cx="833.52" cy="329.37" rx="9.66" ry="5.95" fill="#a3661f" opacity="0.55" transform="rotate(7.09 832.92 327.77)"/><ellipse cx="832.92" cy="327.77" rx="9.66" ry="5.95" fill="url(#gBlob)" transform="rotate(7.09 832.92 327.77)"/><ellipse cx="873.79" cy="329.58" rx="10.14" ry="5.41" fill="#a3661f" opacity="0.55" transform="rotate(2.48 873.19 327.98)"/><ellipse cx="873.19" cy="327.98" rx="10.14" ry="5.41" fill="url(#gBlob)" transform="rotate(2.48 873.19 327.98)"/><ellipse cx="934.76" cy="329.9" rx="10.85" ry="6.12" fill="#a3661f" opacity="0.55" transform="rotate(-0.94 934.16 328.3)"/><ellipse cx="934.16" cy="328.3" rx="10.85" ry="6.12" fill="url(#gBlob)" transform="rotate(-0.94 934.16 328.3)"/><ellipse cx="947.23" cy="329.99" rx="7.75" ry="4.11" fill="#a3661f" opacity="0.55" transform="rotate(15.01 946.63 328.39)"/><ellipse cx="946.63" cy="328.39" rx="7.75" ry="4.11" fill="url(#gBlob)" transform="rotate(15.01 946.63 328.39)"/><ellipse cx="863.4" cy="330.09" rx="9.14" ry="5.34" fill="#a3661f" opacity="0.55" transform="rotate(-21.96 862.8 328.49)"/><ellipse cx="862.8" cy="328.49" rx="9.14" ry="5.34" fill="url(#gBlob)" transform="rotate(-21.96 862.8 328.49)"/><ellipse cx="796.44" cy="330.53" rx="10.06" ry="5.63" fill="#a3661f" opacity="0.55" transform="rotate(-3.51 795.84 328.93)"/><ellipse cx="795.84" cy="328.93" rx="10.06" ry="5.63" fill="url(#gBlob)" transform="rotate(-3.51 795.84 328.93)"/><ellipse cx="921.46" cy="330.91" rx="9.74" ry="5.74" fill="#a3661f" opacity="0.55" transform="rotate(-2.59 920.86 329.31)"/><ellipse cx="920.86" cy="329.31" rx="9.74" ry="5.74" fill="url(#gBlob)" transform="rotate(-2.59 920.86 329.31)"/><ellipse cx="808.31" cy="331.07" rx="10.69" ry="5.51" fill="#a3661f" opacity="0.55" transform="rotate(8.05 807.71 329.47)"/><ellipse cx="807.71" cy="329.47" rx="10.69" ry="5.51" fill="url(#gBlob)" transform="rotate(8.05 807.71 329.47)"/><ellipse cx="850.59" cy="331.25" rx="8.9" ry="5.71" fill="#a3661f" opacity="0.55" transform="rotate(-3.97 849.99 329.65)"/><ellipse cx="849.99" cy="329.65" rx="8.9" ry="5.71" fill="url(#gBlob)" transform="rotate(-3.97 849.99 329.65)"/><ellipse cx="781.24" cy="331.53" rx="9.7" ry="6.06" fill="#a3661f" opacity="0.55" transform="rotate(-9.22 780.64 329.93)"/><ellipse cx="780.64" cy="329.93" rx="9.7" ry="6.06" fill="url(#gBlob)" transform="rotate(-9.22 780.64 329.93)"/><ellipse cx="705.9" cy="332.19" rx="10" ry="6.06" fill="#a3661f" opacity="0.55" transform="rotate(-17.41 705.3 330.59)"/><ellipse cx="705.3" cy="330.59" rx="10" ry="6.06" fill="url(#gBlob)" transform="rotate(-17.41 705.3 330.59)"/><ellipse cx="746.74" cy="334.19" rx="10.31" ry="6.31" fill="#a3661f" opacity="0.55" transform="rotate(-21.61 746.14 332.59)"/><ellipse cx="746.14" cy="332.59" rx="10.31" ry="6.31" fill="url(#gBlob)" transform="rotate(-21.61 746.14 332.59)"/><ellipse cx="890.91" cy="334.34" rx="9.91" ry="6" fill="#a3661f" opacity="0.55" transform="rotate(-11.83 890.31 332.74)"/><ellipse cx="890.31" cy="332.74" rx="9.91" ry="6" fill="url(#gBlob)" transform="rotate(-11.83 890.31 332.74)"/><ellipse cx="823.03" cy="334.45" rx="9.63" ry="6.41" fill="#a3661f" opacity="0.55" transform="rotate(-1.53 822.43 332.85)"/><ellipse cx="822.43" cy="332.85" rx="9.63" ry="6.41" fill="url(#gBlob)" transform="rotate(-1.53 822.43 332.85)"/><ellipse cx="951.87" cy="334.77" rx="10.87" ry="4.91" fill="#a3661f" opacity="0.55" transform="rotate(-15.24 951.27 333.17)"/><ellipse cx="951.27" cy="333.17" rx="10.87" ry="4.91" fill="url(#gBlob)" transform="rotate(-15.24 951.27 333.17)"/><ellipse cx="954.45" cy="335.08" rx="7.78" ry="4.42" fill="#a3661f" opacity="0.55" transform="rotate(14.13 953.85 333.48)"/><ellipse cx="953.85" cy="333.48" rx="7.78" ry="4.42" fill="url(#gBlob)" transform="rotate(14.13 953.85 333.48)"/><ellipse cx="763.19" cy="335.31" rx="10.36" ry="5.94" fill="#a3661f" opacity="0.55" transform="rotate(-15.18 762.59 333.71)"/><ellipse cx="762.59" cy="333.71" rx="10.36" ry="5.94" fill="url(#gBlob)" transform="rotate(-15.18 762.59 333.71)"/><ellipse cx="908.21" cy="336.19" rx="9.66" ry="5.12" fill="#a3661f" opacity="0.55" transform="rotate(13.94 907.61 334.59)"/><ellipse cx="907.61" cy="334.59" rx="9.66" ry="5.12" fill="url(#gBlob)" transform="rotate(13.94 907.61 334.59)"/><ellipse cx="722.02" cy="336.27" rx="9.87" ry="5.82" fill="#a3661f" opacity="0.55" transform="rotate(13.66 721.42 334.67)"/><ellipse cx="721.42" cy="334.67" rx="9.87" ry="5.82" fill="url(#gBlob)" transform="rotate(13.66 721.42 334.67)"/><ellipse cx="837.21" cy="336.48" rx="10.5" ry="5.59" fill="#a3661f" opacity="0.55" transform="rotate(11.67 836.61 334.88)"/><ellipse cx="836.61" cy="334.88" rx="10.5" ry="5.59" fill="url(#gBlob)" transform="rotate(11.67 836.61 334.88)"/><ellipse cx="869.4" cy="337.2" rx="11.03" ry="5.75" fill="#a3661f" opacity="0.55" transform="rotate(3.62 868.8 335.6)"/><ellipse cx="868.8" cy="335.6" rx="11.03" ry="5.75" fill="url(#gBlob)" transform="rotate(3.62 868.8 335.6)"/><ellipse cx="740.44" cy="337.61" rx="8.67" ry="5.81" fill="#a3661f" opacity="0.55" transform="rotate(6.52 739.84 336.01)"/><ellipse cx="739.84" cy="336.01" rx="8.67" ry="5.81" fill="url(#gBlob)" transform="rotate(6.52 739.84 336.01)"/><ellipse cx="942.17" cy="338.84" rx="10.86" ry="5.12" fill="#a3661f" opacity="0.55" transform="rotate(6.69 941.57 337.24)"/><ellipse cx="941.57" cy="337.24" rx="10.86" ry="5.12" fill="url(#gBlob)" transform="rotate(6.69 941.57 337.24)"/><ellipse cx="815.94" cy="338.92" rx="8.74" ry="5.39" fill="#a3661f" opacity="0.55" transform="rotate(3.66 815.34 337.32)"/><ellipse cx="815.34" cy="337.32" rx="8.74" ry="5.39" fill="url(#gBlob)" transform="rotate(3.66 815.34 337.32)"/><ellipse cx="881.08" cy="339.07" rx="10.97" ry="5.96" fill="#a3661f" opacity="0.55" transform="rotate(-17.08 880.48 337.47)"/><ellipse cx="880.48" cy="337.47" rx="10.97" ry="5.96" fill="url(#gBlob)" transform="rotate(-17.08 880.48 337.47)"/><ellipse cx="797.18" cy="339.59" rx="10.53" ry="4.97" fill="#a3661f" opacity="0.55" transform="rotate(7.86 796.58 337.99)"/><ellipse cx="796.58" cy="337.99" rx="10.53" ry="4.97" fill="url(#gBlob)" transform="rotate(7.86 796.58 337.99)"/><ellipse cx="931.23" cy="339.85" rx="9.64" ry="6.25" fill="#a3661f" opacity="0.55" transform="rotate(-16.13 930.63 338.25)"/><ellipse cx="930.63" cy="338.25" rx="9.64" ry="6.25" fill="url(#gBlob)" transform="rotate(-16.13 930.63 338.25)"/><ellipse cx="706.42" cy="340.49" rx="10.53" ry="6.38" fill="#a3661f" opacity="0.55" transform="rotate(-13.74 705.82 338.89)"/><ellipse cx="705.82" cy="338.89" rx="10.53" ry="6.38" fill="url(#gBlob)" transform="rotate(-13.74 705.82 338.89)"/><ellipse cx="961.21" cy="340.61" rx="8.39" ry="4.35" fill="#a3661f" opacity="0.55" transform="rotate(15 960.61 339.01)"/><ellipse cx="960.61" cy="339.01" rx="8.39" ry="4.35" fill="url(#gBlob)" transform="rotate(15 960.61 339.01)"/><ellipse cx="901.47" cy="340.72" rx="9.93" ry="5.36" fill="#a3661f" opacity="0.55" transform="rotate(-12.75 900.87 339.12)"/><ellipse cx="900.87" cy="339.12" rx="9.93" ry="5.36" fill="url(#gBlob)" transform="rotate(-12.75 900.87 339.12)"/><ellipse cx="912.28" cy="340.98" rx="8.75" ry="6.44" fill="#a3661f" opacity="0.55" transform="rotate(13.66 911.68 339.38)"/><ellipse cx="911.68" cy="339.38" rx="8.75" ry="6.44" fill="url(#gBlob)" transform="rotate(13.66 911.68 339.38)"/><ellipse cx="860.73" cy="341.23" rx="10" ry="5.55" fill="#a3661f" opacity="0.55" transform="rotate(-4.98 860.13 339.63)"/><ellipse cx="860.13" cy="339.63" rx="10" ry="5.55" fill="url(#gBlob)" transform="rotate(-4.98 860.13 339.63)"/><ellipse cx="755.16" cy="341.26" rx="9.54" ry="6.26" fill="#a3661f" opacity="0.55" transform="rotate(3.53 754.56 339.66)"/><ellipse cx="754.56" cy="339.66" rx="9.54" ry="6.26" fill="url(#gBlob)" transform="rotate(3.53 754.56 339.66)"/><ellipse cx="846.11" cy="341.77" rx="10.73" ry="5.97" fill="#a3661f" opacity="0.55" transform="rotate(-18.67 845.51 340.17)"/><ellipse cx="845.51" cy="340.17" rx="10.73" ry="5.97" fill="url(#gBlob)" transform="rotate(-18.67 845.51 340.17)"/><ellipse cx="787.33" cy="342.25" rx="10.25" ry="6.59" fill="#a3661f" opacity="0.55" transform="rotate(-14.34 786.73 340.65)"/><ellipse cx="786.73" cy="340.65" rx="10.25" ry="6.59" fill="url(#gBlob)" transform="rotate(-14.34 786.73 340.65)"/><ellipse cx="945.79" cy="342.77" rx="10.56" ry="5.62" fill="#a3661f" opacity="0.55" transform="rotate(12.17 945.19 341.17)"/><ellipse cx="945.19" cy="341.17" rx="10.56" ry="5.62" fill="url(#gBlob)" transform="rotate(12.17 945.19 341.17)"/><ellipse cx="768.85" cy="342.83" rx="9.02" ry="5.52" fill="#a3661f" opacity="0.55" transform="rotate(-14.62 768.25 341.23)"/><ellipse cx="768.25" cy="341.23" rx="9.02" ry="5.52" fill="url(#gBlob)" transform="rotate(-14.62 768.25 341.23)"/><ellipse cx="829.33" cy="342.94" rx="10.31" ry="5.18" fill="#a3661f" opacity="0.55" transform="rotate(-9.9 828.73 341.34)"/><ellipse cx="828.73" cy="341.34" rx="10.31" ry="5.18" fill="url(#gBlob)" transform="rotate(-9.9 828.73 341.34)"/><ellipse cx="884.34" cy="342.94" rx="9.78" ry="5.81" fill="#a3661f" opacity="0.55" transform="rotate(-9.13 883.74 341.34)"/><ellipse cx="883.74" cy="341.34" rx="9.78" ry="5.81" fill="url(#gBlob)" transform="rotate(-9.13 883.74 341.34)"/><ellipse cx="958.79" cy="343.23" rx="10.07" ry="6.05" fill="#a3661f" opacity="0.55" transform="rotate(-10.62 958.19 341.63)"/><ellipse cx="958.19" cy="341.63" rx="10.07" ry="6.05" fill="url(#gBlob)" transform="rotate(-10.62 958.19 341.63)"/><ellipse cx="730.64" cy="343.91" rx="10.72" ry="5.64" fill="#a3661f" opacity="0.55" transform="rotate(-3.9 730.04 342.31)"/><ellipse cx="730.04" cy="342.31" rx="10.72" ry="5.64" fill="url(#gBlob)" transform="rotate(-3.9 730.04 342.31)"/><ellipse cx="740.71" cy="345.23" rx="11.25" ry="6.09" fill="#a3661f" opacity="0.55" transform="rotate(-15.5 740.11 343.63)"/><ellipse cx="740.11" cy="343.63" rx="11.25" ry="6.09" fill="url(#gBlob)" transform="rotate(-15.5 740.11 343.63)"/><ellipse cx="934.61" cy="345.35" rx="9.15" ry="6.48" fill="#a3661f" opacity="0.55" transform="rotate(14.51 934.01 343.75)"/><ellipse cx="934.01" cy="343.75" rx="9.15" ry="6.48" fill="url(#gBlob)" transform="rotate(14.51 934.01 343.75)"/><ellipse cx="965.04" cy="345.68" rx="7.21" ry="4.73" fill="#a3661f" opacity="0.55" transform="rotate(1.28 964.44 344.08)"/><ellipse cx="964.44" cy="344.08" rx="7.21" ry="4.73" fill="url(#gBlob)" transform="rotate(1.28 964.44 344.08)"/><ellipse cx="804.5" cy="345.93" rx="8.72" ry="5.69" fill="#a3661f" opacity="0.55" transform="rotate(3 803.9 344.33)"/><ellipse cx="803.9" cy="344.33" rx="8.72" ry="5.69" fill="url(#gBlob)" transform="rotate(3 803.9 344.33)"/><ellipse cx="877.92" cy="346.89" rx="10.67" ry="5.55" fill="#a3661f" opacity="0.55" transform="rotate(-1.26 877.32 345.29)"/><ellipse cx="877.32" cy="345.29" rx="10.67" ry="5.55" fill="url(#gBlob)" transform="rotate(-1.26 877.32 345.29)"/><ellipse cx="822.51" cy="346.94" rx="10.43" ry="6.04" fill="#a3661f" opacity="0.55" transform="rotate(-24.26 821.91 345.34)"/><ellipse cx="821.91" cy="345.34" rx="10.43" ry="6.04" fill="url(#gBlob)" transform="rotate(-24.26 821.91 345.34)"/><ellipse cx="713.7" cy="347.08" rx="11.22" ry="5.84" fill="#a3661f" opacity="0.55" transform="rotate(-16.16 713.1 345.48)"/><ellipse cx="713.1" cy="345.48" rx="11.22" ry="5.84" fill="url(#gBlob)" transform="rotate(-16.16 713.1 345.48)"/><ellipse cx="775.18" cy="348.05" rx="8.91" ry="6.56" fill="#a3661f" opacity="0.55" transform="rotate(-7.92 774.58 346.45)"/><ellipse cx="774.58" cy="346.45" rx="8.91" ry="6.56" fill="url(#gBlob)" transform="rotate(-7.92 774.58 346.45)"/><ellipse cx="793.19" cy="348.07" rx="10.74" ry="6.4" fill="#a3661f" opacity="0.55" transform="rotate(-9.56 792.59 346.47)"/><ellipse cx="792.59" cy="346.47" rx="10.74" ry="6.4" fill="url(#gBlob)" transform="rotate(-9.56 792.59 346.47)"/><ellipse cx="972.45" cy="348.9" rx="9.7" ry="5.63" fill="#a3661f" opacity="0.55" transform="rotate(14.25 971.85 347.3)"/><ellipse cx="971.85" cy="347.3" rx="9.7" ry="5.63" fill="url(#gBlob)" transform="rotate(14.25 971.85 347.3)"/><ellipse cx="853.87" cy="349.13" rx="10.13" ry="5.94" fill="#a3661f" opacity="0.55" transform="rotate(-7.71 853.27 347.53)"/><ellipse cx="853.27" cy="347.53" rx="10.13" ry="5.94" fill="url(#gBlob)" transform="rotate(-7.71 853.27 347.53)"/><ellipse cx="863.6" cy="349.54" rx="8.89" ry="6.27" fill="#a3661f" opacity="0.55" transform="rotate(11.01 863 347.94)"/><ellipse cx="863" cy="347.94" rx="8.89" ry="6.27" fill="url(#gBlob)" transform="rotate(11.01 863 347.94)"/><ellipse cx="920.33" cy="349.67" rx="9.51" ry="6.32" fill="#a3661f" opacity="0.55" transform="rotate(-15.16 919.73 348.07)"/><ellipse cx="919.73" cy="348.07" rx="9.51" ry="6.32" fill="url(#gBlob)" transform="rotate(-15.16 919.73 348.07)"/><ellipse cx="905.77" cy="350.29" rx="10.35" ry="5.56" fill="#a3661f" opacity="0.55" transform="rotate(-14.96 905.17 348.69)"/><ellipse cx="905.17" cy="348.69" rx="10.35" ry="5.56" fill="url(#gBlob)" transform="rotate(-14.96 905.17 348.69)"/><ellipse cx="748.42" cy="350.7" rx="10.65" ry="5.39" fill="#a3661f" opacity="0.55" transform="rotate(-8.91 747.82 349.1)"/><ellipse cx="747.82" cy="349.1" rx="10.65" ry="5.39" fill="url(#gBlob)" transform="rotate(-8.91 747.82 349.1)"/><ellipse cx="972.4" cy="350.98" rx="7.65" ry="3.82" fill="#a3661f" opacity="0.55" transform="rotate(9.15 971.8 349.38)"/><ellipse cx="971.8" cy="349.38" rx="7.65" ry="3.82" fill="url(#gBlob)" transform="rotate(9.15 971.8 349.38)"/><ellipse cx="814.13" cy="352.06" rx="10.4" ry="5.89" fill="#a3661f" opacity="0.55" transform="rotate(-8.54 813.53 350.46)"/><ellipse cx="813.53" cy="350.46" rx="10.4" ry="5.89" fill="url(#gBlob)" transform="rotate(-8.54 813.53 350.46)"/><ellipse cx="880.46" cy="352.14" rx="11.27" ry="6.21" fill="#a3661f" opacity="0.55" transform="rotate(-13.93 879.86 350.54)"/><ellipse cx="879.86" cy="350.54" rx="11.27" ry="6.21" fill="url(#gBlob)" transform="rotate(-13.93 879.86 350.54)"/><ellipse cx="893.55" cy="352.4" rx="11.42" ry="5.84" fill="#a3661f" opacity="0.55" transform="rotate(-3.87 892.95 350.8)"/><ellipse cx="892.95" cy="350.8" rx="11.42" ry="5.84" fill="url(#gBlob)" transform="rotate(-3.87 892.95 350.8)"/><ellipse cx="954.97" cy="352.52" rx="9.48" ry="6.03" fill="#a3661f" opacity="0.55" transform="rotate(-15.33 954.37 350.92)"/><ellipse cx="954.37" cy="350.92" rx="9.48" ry="6.03" fill="url(#gBlob)" transform="rotate(-15.33 954.37 350.92)"/><ellipse cx="842.15" cy="352.7" rx="11.09" ry="5.79" fill="#a3661f" opacity="0.55" transform="rotate(-7.64 841.55 351.1)"/><ellipse cx="841.55" cy="351.1" rx="11.09" ry="5.79" fill="url(#gBlob)" transform="rotate(-7.64 841.55 351.1)"/><ellipse cx="764.84" cy="352.7" rx="9.05" ry="5.5" fill="#a3661f" opacity="0.55" transform="rotate(-18.72 764.24 351.1)"/><ellipse cx="764.24" cy="351.1" rx="9.05" ry="5.5" fill="url(#gBlob)" transform="rotate(-18.72 764.24 351.1)"/><ellipse cx="826.69" cy="352.84" rx="10.84" ry="6.36" fill="#a3661f" opacity="0.55" transform="rotate(-5.57 826.09 351.24)"/><ellipse cx="826.09" cy="351.24" rx="10.84" ry="6.36" fill="url(#gBlob)" transform="rotate(-5.57 826.09 351.24)"/><ellipse cx="939.14" cy="353.21" rx="8.92" ry="6.77" fill="#a3661f" opacity="0.55" transform="rotate(5.53 938.54 351.61)"/><ellipse cx="938.54" cy="351.61" rx="8.92" ry="6.77" fill="url(#gBlob)" transform="rotate(5.53 938.54 351.61)"/><ellipse cx="931.56" cy="353.37" rx="9.2" ry="5.78" fill="#a3661f" opacity="0.55" transform="rotate(-13.08 930.96 351.77)"/><ellipse cx="930.96" cy="351.77" rx="9.2" ry="5.78" fill="url(#gBlob)" transform="rotate(-13.08 930.96 351.77)"/><ellipse cx="720.24" cy="354.2" rx="9.72" ry="6.7" fill="#a3661f" opacity="0.55" transform="rotate(-2.49 719.64 352.6)"/><ellipse cx="719.64" cy="352.6" rx="9.72" ry="6.7" fill="url(#gBlob)" transform="rotate(-2.49 719.64 352.6)"/><ellipse cx="733.11" cy="355.52" rx="11.09" ry="5.31" fill="#a3661f" opacity="0.55" transform="rotate(-19.37 732.51 353.92)"/><ellipse cx="732.51" cy="353.92" rx="11.09" ry="5.31" fill="url(#gBlob)" transform="rotate(-19.37 732.51 353.92)"/><ellipse cx="979.92" cy="356.04" rx="11.5" ry="5.66" fill="#a3661f" opacity="0.55" transform="rotate(1.82 979.32 354.44)"/><ellipse cx="979.32" cy="354.44" rx="11.5" ry="5.66" fill="url(#gBlob)" transform="rotate(1.82 979.32 354.44)"/><ellipse cx="870.29" cy="356.17" rx="10.66" ry="6.63" fill="#a3661f" opacity="0.55" transform="rotate(-1.4 869.69 354.57)"/><ellipse cx="869.69" cy="354.57" rx="10.66" ry="6.63" fill="url(#gBlob)" transform="rotate(-1.4 869.69 354.57)"/><ellipse cx="796.73" cy="356.19" rx="10.61" ry="5.23" fill="#a3661f" opacity="0.55" transform="rotate(1.84 796.13 354.59)"/><ellipse cx="796.13" cy="354.59" rx="10.61" ry="5.23" fill="url(#gBlob)" transform="rotate(1.84 796.13 354.59)"/><ellipse cx="905.77" cy="356.71" rx="9.01" ry="5.98" fill="#a3661f" opacity="0.55" transform="rotate(5.45 905.17 355.11)"/><ellipse cx="905.17" cy="355.11" rx="9.01" ry="5.98" fill="url(#gBlob)" transform="rotate(5.45 905.17 355.11)"/><ellipse cx="783.63" cy="356.74" rx="9.36" ry="6.03" fill="#a3661f" opacity="0.55" transform="rotate(-14.45 783.03 355.14)"/><ellipse cx="783.03" cy="355.14" rx="9.36" ry="6.03" fill="url(#gBlob)" transform="rotate(-14.45 783.03 355.14)"/><ellipse cx="960.78" cy="357.67" rx="9.03" ry="5.22" fill="#a3661f" opacity="0.55" transform="rotate(0.22 960.18 356.07)"/><ellipse cx="960.18" cy="356.07" rx="9.03" ry="5.22" fill="url(#gBlob)" transform="rotate(0.22 960.18 356.07)"/><ellipse cx="855.54" cy="357.71" rx="9.4" ry="5.57" fill="#a3661f" opacity="0.55" transform="rotate(1.58 854.94 356.11)"/><ellipse cx="854.94" cy="356.11" rx="9.4" ry="5.57" fill="url(#gBlob)" transform="rotate(1.58 854.94 356.11)"/><ellipse cx="915.75" cy="359.03" rx="10.17" ry="6.44" fill="#a3661f" opacity="0.55" transform="rotate(-23.43 915.15 357.43)"/><ellipse cx="915.15" cy="357.43" rx="10.17" ry="6.44" fill="url(#gBlob)" transform="rotate(-23.43 915.15 357.43)"/><ellipse cx="755.23" cy="359.5" rx="10.95" ry="5.84" fill="#a3661f" opacity="0.55" transform="rotate(-1.32 754.63 357.9)"/><ellipse cx="754.63" cy="357.9" rx="10.95" ry="5.84" fill="url(#gBlob)" transform="rotate(-1.32 754.63 357.9)"/><ellipse cx="949.08" cy="359.58" rx="11.3" ry="5.58" fill="#a3661f" opacity="0.55" transform="rotate(-13.32 948.48 357.98)"/><ellipse cx="948.48" cy="357.98" rx="11.3" ry="5.58" fill="url(#gBlob)" transform="rotate(-13.32 948.48 357.98)"/><ellipse cx="845.32" cy="360.17" rx="9.18" ry="5.59" fill="#a3661f" opacity="0.55" transform="rotate(-12.71 844.72 358.57)"/><ellipse cx="844.72" cy="358.57" rx="9.18" ry="5.59" fill="url(#gBlob)" transform="rotate(-12.71 844.72 358.57)"/><ellipse cx="735.4" cy="360.28" rx="11.65" ry="6.78" fill="#a3661f" opacity="0.55" transform="rotate(1.33 734.8 358.68)"/><ellipse cx="734.8" cy="358.68" rx="11.65" ry="6.78" fill="url(#gBlob)" transform="rotate(1.33 734.8 358.68)"/><ellipse cx="765.92" cy="360.83" rx="9.52" ry="6" fill="#a3661f" opacity="0.55" transform="rotate(-19.28 765.32 359.23)"/><ellipse cx="765.32" cy="359.23" rx="9.52" ry="6" fill="url(#gBlob)" transform="rotate(-19.28 765.32 359.23)"/><ellipse cx="893.72" cy="361.28" rx="9.16" ry="5.91" fill="#a3661f" opacity="0.55" transform="rotate(-10.42 893.12 359.68)"/><ellipse cx="893.12" cy="359.68" rx="9.16" ry="5.91" fill="url(#gBlob)" transform="rotate(-10.42 893.12 359.68)"/><ellipse cx="835.44" cy="361.28" rx="10.93" ry="5.45" fill="#a3661f" opacity="0.55" transform="rotate(2.84 834.84 359.68)"/><ellipse cx="834.84" cy="359.68" rx="10.93" ry="5.45" fill="url(#gBlob)" transform="rotate(2.84 834.84 359.68)"/><ellipse cx="934.98" cy="362.77" rx="9.58" ry="5.71" fill="#a3661f" opacity="0.55" transform="rotate(3.51 934.38 361.17)"/><ellipse cx="934.38" cy="361.17" rx="9.58" ry="5.71" fill="url(#gBlob)" transform="rotate(3.51 934.38 361.17)"/><ellipse cx="791.52" cy="363.24" rx="10" ry="6.04" fill="#a3661f" opacity="0.55" transform="rotate(-18.12 790.92 361.64)"/><ellipse cx="790.92" cy="361.64" rx="10" ry="6.04" fill="url(#gBlob)" transform="rotate(-18.12 790.92 361.64)"/><ellipse cx="875.58" cy="363.69" rx="9.74" ry="5.52" fill="#a3661f" opacity="0.55" transform="rotate(2.63 874.98 362.09)"/><ellipse cx="874.98" cy="362.09" rx="9.74" ry="5.52" fill="url(#gBlob)" transform="rotate(2.63 874.98 362.09)"/><ellipse cx="815.88" cy="363.75" rx="9.33" ry="6.48" fill="#a3661f" opacity="0.55" transform="rotate(-12.48 815.28 362.15)"/><ellipse cx="815.28" cy="362.15" rx="9.33" ry="6.48" fill="url(#gBlob)" transform="rotate(-12.48 815.28 362.15)"/><ellipse cx="909.63" cy="363.83" rx="9.13" ry="5.78" fill="#a3661f" opacity="0.55" transform="rotate(-8.04 909.03 362.23)"/><ellipse cx="909.03" cy="362.23" rx="9.13" ry="5.78" fill="url(#gBlob)" transform="rotate(-8.04 909.03 362.23)"/><ellipse cx="728.66" cy="363.84" rx="9.55" ry="6.18" fill="#a3661f" opacity="0.55" transform="rotate(-21.95 728.06 362.24)"/><ellipse cx="728.06" cy="362.24" rx="9.55" ry="6.18" fill="url(#gBlob)" transform="rotate(-21.95 728.06 362.24)"/><ellipse cx="920.99" cy="364.14" rx="10.98" ry="5.7" fill="#a3661f" opacity="0.55" transform="rotate(4.02 920.39 362.54)"/><ellipse cx="920.39" cy="362.54" rx="10.98" ry="5.7" fill="url(#gBlob)" transform="rotate(4.02 920.39 362.54)"/><ellipse cx="864.37" cy="364.23" rx="9.77" ry="6.25" fill="#a3661f" opacity="0.55" transform="rotate(-21.46 863.77 362.63)"/><ellipse cx="863.77" cy="362.63" rx="9.77" ry="6.25" fill="url(#gBlob)" transform="rotate(-21.46 863.77 362.63)"/><ellipse cx="809.77" cy="364.49" rx="9.61" ry="6.33" fill="#a3661f" opacity="0.55" transform="rotate(-17.34 809.17 362.89)"/><ellipse cx="809.17" cy="362.89" rx="9.61" ry="6.33" fill="url(#gBlob)" transform="rotate(-17.34 809.17 362.89)"/><ellipse cx="846.7" cy="364.73" rx="9.91" ry="5.34" fill="#a3661f" opacity="0.55" transform="rotate(-12.43 846.1 363.13)"/><ellipse cx="846.1" cy="363.13" rx="9.91" ry="5.34" fill="url(#gBlob)" transform="rotate(-12.43 846.1 363.13)"/><ellipse cx="838.92" cy="364.96" rx="10.62" ry="6.19" fill="#a3661f" opacity="0.55" transform="rotate(6.66 838.32 363.36)"/><ellipse cx="838.32" cy="363.36" rx="10.62" ry="6.19" fill="url(#gBlob)" transform="rotate(6.66 838.32 363.36)"/><ellipse cx="772.81" cy="366.85" rx="9.92" ry="6.86" fill="#a3661f" opacity="0.55" transform="rotate(10.87 772.21 365.25)"/><ellipse cx="772.21" cy="365.25" rx="9.92" ry="6.86" fill="url(#gBlob)" transform="rotate(10.87 772.21 365.25)"/><ellipse cx="893.52" cy="367.84" rx="10.21" ry="5.71" fill="#a3661f" opacity="0.55" transform="rotate(-23.37 892.92 366.24)"/><ellipse cx="892.92" cy="366.24" rx="10.21" ry="5.71" fill="url(#gBlob)" transform="rotate(-23.37 892.92 366.24)"/><ellipse cx="879.84" cy="369.09" rx="11.59" ry="5.87" fill="#a3661f" opacity="0.55" transform="rotate(5.83 879.24 367.49)"/><ellipse cx="879.24" cy="367.49" rx="11.59" ry="5.87" fill="url(#gBlob)" transform="rotate(5.83 879.24 367.49)"/><ellipse cx="823.59" cy="369.12" rx="10.37" ry="5.77" fill="#a3661f" opacity="0.55" transform="rotate(6.94 822.99 367.52)"/><ellipse cx="822.99" cy="367.52" rx="10.37" ry="5.77" fill="url(#gBlob)" transform="rotate(6.94 822.99 367.52)"/><ellipse cx="745.12" cy="369.73" rx="10.78" ry="5.41" fill="#a3661f" opacity="0.55" transform="rotate(-23.75 744.52 368.13)"/><ellipse cx="744.52" cy="368.13" rx="10.78" ry="5.41" fill="url(#gBlob)" transform="rotate(-23.75 744.52 368.13)"/><ellipse cx="761.13" cy="370.44" rx="10.56" ry="6.93" fill="#a3661f" opacity="0.55" transform="rotate(14.09 760.53 368.84)"/><ellipse cx="760.53" cy="368.84" rx="10.56" ry="6.93" fill="url(#gBlob)" transform="rotate(14.09 760.53 368.84)"/><ellipse cx="813.77" cy="370.77" rx="9.68" ry="5.6" fill="#a3661f" opacity="0.55" transform="rotate(-24.29 813.17 369.17)"/><ellipse cx="813.17" cy="369.17" rx="9.68" ry="5.6" fill="url(#gBlob)" transform="rotate(-24.29 813.17 369.17)"/><ellipse cx="730.07" cy="370.99" rx="9.36" ry="6.87" fill="#a3661f" opacity="0.55" transform="rotate(7.62 729.47 369.39)"/><ellipse cx="729.47" cy="369.39" rx="9.36" ry="6.87" fill="url(#gBlob)" transform="rotate(7.62 729.47 369.39)"/><ellipse cx="873.14" cy="371.88" rx="11.73" ry="5.39" fill="#a3661f" opacity="0.55" transform="rotate(-12.12 872.54 370.28)"/><ellipse cx="872.54" cy="370.28" rx="11.73" ry="5.39" fill="url(#gBlob)" transform="rotate(-12.12 872.54 370.28)"/><ellipse cx="854.94" cy="371.97" rx="9.64" ry="6.96" fill="#a3661f" opacity="0.55" transform="rotate(-10.61 854.34 370.37)"/><ellipse cx="854.34" cy="370.37" rx="9.64" ry="6.96" fill="url(#gBlob)" transform="rotate(-10.61 854.34 370.37)"/><ellipse cx="796.63" cy="372.99" rx="9.33" ry="6.39" fill="#a3661f" opacity="0.55" transform="rotate(3.59 796.03 371.39)"/><ellipse cx="796.03" cy="371.39" rx="9.33" ry="6.39" fill="url(#gBlob)" transform="rotate(3.59 796.03 371.39)"/><ellipse cx="840.49" cy="373.54" rx="10.34" ry="6.96" fill="#a3661f" opacity="0.55" transform="rotate(3.61 839.89 371.94)"/><ellipse cx="839.89" cy="371.94" rx="10.34" ry="6.96" fill="url(#gBlob)" transform="rotate(3.61 839.89 371.94)"/><ellipse cx="830.2" cy="374.42" rx="10.27" ry="5.86" fill="#a3661f" opacity="0.55" transform="rotate(-24.26 829.6 372.82)"/><ellipse cx="829.6" cy="372.82" rx="10.27" ry="5.86" fill="url(#gBlob)" transform="rotate(-24.26 829.6 372.82)"/><ellipse cx="767.69" cy="374.49" rx="9.92" ry="6.14" fill="#a3661f" opacity="0.55" transform="rotate(5.92 767.09 372.89)"/><ellipse cx="767.09" cy="372.89" rx="9.92" ry="6.14" fill="url(#gBlob)" transform="rotate(5.92 767.09 372.89)"/><ellipse cx="785.93" cy="375.41" rx="9.94" ry="6.24" fill="#a3661f" opacity="0.55" transform="rotate(-16.15 785.33 373.81)"/><ellipse cx="785.33" cy="373.81" rx="9.94" ry="6.24" fill="url(#gBlob)" transform="rotate(-16.15 785.33 373.81)"/><ellipse cx="755.23" cy="378.8" rx="12.04" ry="5.74" fill="#a3661f" opacity="0.55" transform="rotate(6.19 754.63 377.2)"/><ellipse cx="754.63" cy="377.2" rx="12.04" ry="5.74" fill="url(#gBlob)" transform="rotate(6.19 754.63 377.2)"/><ellipse cx="799.52" cy="379.22" rx="10.68" ry="5.98" fill="#a3661f" opacity="0.55" transform="rotate(-7.12 798.92 377.62)"/><ellipse cx="798.92" cy="377.62" rx="10.68" ry="5.98" fill="url(#gBlob)" transform="rotate(-7.12 798.92 377.62)"/><ellipse cx="743.31" cy="380.18" rx="10.84" ry="6.33" fill="#a3661f" opacity="0.55" transform="rotate(8.82 742.71 378.58)"/><ellipse cx="742.71" cy="378.58" rx="10.84" ry="6.33" fill="url(#gBlob)" transform="rotate(8.82 742.71 378.58)"/><ellipse cx="820.04" cy="380.44" rx="11.83" ry="5.81" fill="#a3661f" opacity="0.55" transform="rotate(-9.68 819.44 378.84)"/><ellipse cx="819.44" cy="378.84" rx="11.83" ry="5.81" fill="url(#gBlob)" transform="rotate(-9.68 819.44 378.84)"/><ellipse cx="786.96" cy="380.97" rx="9.91" ry="6.42" fill="#a3661f" opacity="0.55" transform="rotate(-18.45 786.36 379.37)"/><ellipse cx="786.36" cy="379.37" rx="9.91" ry="6.42" fill="url(#gBlob)" transform="rotate(-18.45 786.36 379.37)"/><ellipse cx="774.79" cy="383.92" rx="11.86" ry="6.17" fill="#a3661f" opacity="0.55" transform="rotate(6.25 774.19 382.32)"/><ellipse cx="774.19" cy="382.32" rx="11.86" ry="6.17" fill="url(#gBlob)" transform="rotate(6.25 774.19 382.32)"/><ellipse cx="763.04" cy="384.88" rx="11.95" ry="6.55" fill="#a3661f" opacity="0.55" transform="rotate(10.45 762.44 383.28)"/><ellipse cx="762.44" cy="383.28" rx="11.95" ry="6.55" fill="url(#gBlob)" transform="rotate(10.45 762.44 383.28)"/><ellipse cx="745.44" cy="388.74" rx="10.72" ry="6.71" fill="#a3661f" opacity="0.55" transform="rotate(-22.66 744.84 387.14)"/><ellipse cx="744.84" cy="387.14" rx="10.72" ry="6.71" fill="url(#gBlob)" transform="rotate(-22.66 744.84 387.14)"/><path d="M749.95 301 A77 77 0 1 1 903.05 301 A76.55 44 0 0 1 749.95 301 Z" fill="url(#gDrop3)" stroke="none" stroke-width="1" style="mix-blend-mode:multiply"/><ellipse cx="800" cy="250" rx="36" ry="20" fill="url(#gDropHi)" stroke="none" stroke-width="1" transform="rotate(-35 800 250)"/><line x1="827" y1="105" x2="827" y2="298" stroke="#000" stroke-width="1.8" /><path d="M751 299.6 L762.3 332.3 L799.3 328" fill="none" stroke="#000" stroke-width="3" stroke-linejoin="miter"/><path d="M756.6 315.8 A17.5 17.5 0 0 1 779.7 330.3" fill="none" stroke="#000" stroke-width="3" /><text x="779.4" y="307.6" font-size="23.5" text-anchor="middle" fill="#000" stroke="#000" stroke-width="0.3" font-style="italic" >θ</text><rect x="815" y="26.4" width="23.4" height="79" fill="url(#gSyr)" stroke="none" stroke-width="1" /><path d="M815 26.4 V104 Q815 105.4 816.4 105.4 H837 Q838.4 105.4 838.4 104 V26.4" fill="none" stroke="#9c9c9c" stroke-width="0.9" /><path d="M714.5 146.9 H671.5 V263" fill="none" stroke="#000" stroke-width="2.8" stroke-linejoin="miter"/><path d="M671.5 306 V465" fill="none" stroke="#000" stroke-width="2.8" /><path d="M671.5 422 H707.5" fill="none" stroke="#000" stroke-width="2.8" /><line x1="783.5" y1="146.9" x2="819.8" y2="146.9" stroke="#000" stroke-width="2.8" /><line x1="727" y1="141.5" x2="774.4" y2="125.2" stroke="#000" stroke-width="2.9" stroke-linecap="butt"/><circle cx="721.8" cy="146.9" r="6.4" fill="#fff" stroke="#000" stroke-width="2.8" /><circle cx="776.2" cy="146.9" r="6.4" fill="#fff" stroke="#000" stroke-width="2.8" /><circle cx="827" cy="146.9" r="6.4" fill="#fff" stroke="#000" stroke-width="2.8" /><circle cx="714.2" cy="422" r="6.2" fill="#fff" stroke="#000" stroke-width="2.8" /><circle cx="671.5" cy="284.5" r="22" fill="#fff" stroke="#000" stroke-width="3.1" /><line x1="666.2" y1="273.9" x2="676.6" y2="273.9" stroke="#000" stroke-width="2" /><line x1="671.4" y1="268.8" x2="671.4" y2="279" stroke="#000" stroke-width="2" /><line x1="666.4" y1="296.7" x2="676.4" y2="296.7" stroke="#000" stroke-width="2.2" /><line x1="645.7" y1="465.2" x2="697.7" y2="465.2" stroke="#000" stroke-width="2.8" /><line x1="653.5" y1="473.6" x2="689.8" y2="473.6" stroke="#000" stroke-width="2.8" /><line x1="660.7" y1="481.8" x2="682.6" y2="481.8" stroke="#000" stroke-width="2.8" /><path d="M746.3 126.5 Q753.5 136 753.4 147" fill="none" stroke="#000" stroke-width="1.1" /><polygon points="753.4,152 750.6,145.3 756.2,145.3" fill="#000" stroke="none" stroke-width="1" /><text x="717.5" y="86" font-size="23.6" text-anchor="start" fill="#000" stroke="#000" stroke-width="0.3" >Syringe</text><text x="736.8" y="199.3" font-size="23.6" text-anchor="start" fill="#000" stroke="#000" stroke-width="0.3" >Needle</text><text x="874" y="245.5" font-size="23.6" text-anchor="start" fill="#000" stroke="#000" stroke-width="0.3" >Water</text><text x="874" y="275.5" font-size="23.6" text-anchor="start" fill="#000" stroke="#000" stroke-width="0.3" >droplet</text><text x="703.2" y="293.5" font-size="28.5" text-anchor="start" fill="#000" stroke="#000" stroke-width="0.3" font-style="italic" >V</text></g>
<g id="pc"><rect x="1202.3" y="10.4" width="517.1" height="34.4" fill="#fff" stroke="#c6c6c6" stroke-width="3.6" rx="3"/><line x1="1210.7" y1="27.3" x2="1233.9" y2="27.3" stroke="#b5dc66" stroke-width="4" stroke-opacity="0.45" stroke-linecap="round"/><circle cx="1222.3" cy="27.3" r="6.8" fill="#b5dc66" stroke="none" stroke-width="1" /><text x="1242.9" y="34.3" font-size="20" text-anchor="start" fill="#000" stroke="#000" stroke-width="0.3" >FPR I</text><line x1="1343.6" y1="27.3" x2="1366.8" y2="27.3" stroke="#68bfad" stroke-width="4" stroke-opacity="0.45" stroke-linecap="round"/><circle cx="1355.2" cy="27.3" r="6.8" fill="#68bfad" stroke="none" stroke-width="1" /><text x="1375.8" y="34.3" font-size="20" text-anchor="start" fill="#000" stroke="#000" stroke-width="0.3" >FPR II</text><line x1="1479.6" y1="27.3" x2="1502.8" y2="27.3" stroke="#5b85c0" stroke-width="4" stroke-opacity="0.45" stroke-linecap="round"/><circle cx="1491.2" cy="27.3" r="6.8" fill="#5b85c0" stroke="none" stroke-width="1" /><text x="1511.8" y="34.3" font-size="20" text-anchor="start" fill="#000" stroke="#000" stroke-width="0.3" >FPR III</text><line x1="1616" y1="27.3" x2="1639.2" y2="27.3" stroke="#6a52b8" stroke-width="4" stroke-opacity="0.45" stroke-linecap="round"/><circle cx="1627.6" cy="27.3" r="6.8" fill="#6a52b8" stroke="none" stroke-width="1" /><text x="1648.2" y="34.3" font-size="20" text-anchor="start" fill="#000" stroke="#000" stroke-width="0.3" >FPR IV</text><rect x="1177" y="56.4" width="569" height="397.2" fill="#fff" stroke="#333" stroke-width="1.2" /><line x1="1217.64" y1="453.6" x2="1217.64" y2="446.8" stroke="#333" stroke-width="1.1" /><line x1="1217.64" y1="56.4" x2="1217.64" y2="63.2" stroke="#333" stroke-width="1.1" /><line x1="1258.29" y1="453.6" x2="1258.29" y2="444" stroke="#333" stroke-width="1.1" /><line x1="1258.29" y1="56.4" x2="1258.29" y2="66" stroke="#333" stroke-width="1.1" /><line x1="1298.93" y1="453.6" x2="1298.93" y2="446.8" stroke="#333" stroke-width="1.1" /><line x1="1298.93" y1="56.4" x2="1298.93" y2="63.2" stroke="#333" stroke-width="1.1" /><line x1="1339.57" y1="453.6" x2="1339.57" y2="444" stroke="#333" stroke-width="1.1" /><line x1="1339.57" y1="56.4" x2="1339.57" y2="66" stroke="#333" stroke-width="1.1" /><line x1="1380.21" y1="453.6" x2="1380.21" y2="446.8" stroke="#333" stroke-width="1.1" /><line x1="1380.21" y1="56.4" x2="1380.21" y2="63.2" stroke="#333" stroke-width="1.1" /><line x1="1420.86" y1="453.6" x2="1420.86" y2="444" stroke="#333" stroke-width="1.1" /><line x1="1420.86" y1="56.4" x2="1420.86" y2="66" stroke="#333" stroke-width="1.1" /><line x1="1461.5" y1="453.6" x2="1461.5" y2="446.8" stroke="#333" stroke-width="1.1" /><line x1="1461.5" y1="56.4" x2="1461.5" y2="63.2" stroke="#333" stroke-width="1.1" /><line x1="1502.14" y1="453.6" x2="1502.14" y2="444" stroke="#333" stroke-width="1.1" /><line x1="1502.14" y1="56.4" x2="1502.14" y2="66" stroke="#333" stroke-width="1.1" /><line x1="1542.79" y1="453.6" x2="1542.79" y2="446.8" stroke="#333" stroke-width="1.1" /><line x1="1542.79" y1="56.4" x2="1542.79" y2="63.2" stroke="#333" stroke-width="1.1" /><line x1="1583.43" y1="453.6" x2="1583.43" y2="444" stroke="#333" stroke-width="1.1" /><line x1="1583.43" y1="56.4" x2="1583.43" y2="66" stroke="#333" stroke-width="1.1" /><line x1="1624.07" y1="453.6" x2="1624.07" y2="446.8" stroke="#333" stroke-width="1.1" /><line x1="1624.07" y1="56.4" x2="1624.07" y2="63.2" stroke="#333" stroke-width="1.1" /><line x1="1664.71" y1="453.6" x2="1664.71" y2="444" stroke="#333" stroke-width="1.1" /><line x1="1664.71" y1="56.4" x2="1664.71" y2="66" stroke="#333" stroke-width="1.1" /><line x1="1705.36" y1="453.6" x2="1705.36" y2="446.8" stroke="#333" stroke-width="1.1" /><line x1="1705.36" y1="56.4" x2="1705.36" y2="63.2" stroke="#333" stroke-width="1.1" /><line x1="1177" y1="420.5" x2="1186.6" y2="420.5" stroke="#333" stroke-width="1.1" /><line x1="1746" y1="420.5" x2="1736.4" y2="420.5" stroke="#333" stroke-width="1.1" /><line x1="1177" y1="387.4" x2="1183.8" y2="387.4" stroke="#333" stroke-width="1.1" /><line x1="1746" y1="387.4" x2="1739.2" y2="387.4" stroke="#333" stroke-width="1.1" /><line x1="1177" y1="354.3" x2="1186.6" y2="354.3" stroke="#333" stroke-width="1.1" /><line x1="1746" y1="354.3" x2="1736.4" y2="354.3" stroke="#333" stroke-width="1.1" /><line x1="1177" y1="321.2" x2="1183.8" y2="321.2" stroke="#333" stroke-width="1.1" /><line x1="1746" y1="321.2" x2="1739.2" y2="321.2" stroke="#333" stroke-width="1.1" /><line x1="1177" y1="288.1" x2="1186.6" y2="288.1" stroke="#333" stroke-width="1.1" /><line x1="1746" y1="288.1" x2="1736.4" y2="288.1" stroke="#333" stroke-width="1.1" /><line x1="1177" y1="255" x2="1183.8" y2="255" stroke="#333" stroke-width="1.1" /><line x1="1746" y1="255" x2="1739.2" y2="255" stroke="#333" stroke-width="1.1" /><line x1="1177" y1="221.9" x2="1186.6" y2="221.9" stroke="#333" stroke-width="1.1" /><line x1="1746" y1="221.9" x2="1736.4" y2="221.9" stroke="#333" stroke-width="1.1" /><line x1="1177" y1="188.8" x2="1183.8" y2="188.8" stroke="#333" stroke-width="1.1" /><line x1="1746" y1="188.8" x2="1739.2" y2="188.8" stroke="#333" stroke-width="1.1" /><line x1="1177" y1="155.7" x2="1186.6" y2="155.7" stroke="#333" stroke-width="1.1" /><line x1="1746" y1="155.7" x2="1736.4" y2="155.7" stroke="#333" stroke-width="1.1" /><line x1="1177" y1="122.6" x2="1183.8" y2="122.6" stroke="#333" stroke-width="1.1" /><line x1="1746" y1="122.6" x2="1739.2" y2="122.6" stroke="#333" stroke-width="1.1" /><line x1="1177" y1="89.5" x2="1186.6" y2="89.5" stroke="#333" stroke-width="1.1" /><line x1="1746" y1="89.5" x2="1736.4" y2="89.5" stroke="#333" stroke-width="1.1" /><text x="1258.29" y="485.5" font-size="23.5" text-anchor="middle" fill="#000" stroke="#000" stroke-width="0.3" >0</text><text x="1339.57" y="485.5" font-size="23.5" text-anchor="middle" fill="#000" stroke="#000" stroke-width="0.3" >2</text><text x="1420.86" y="485.5" font-size="23.5" text-anchor="middle" fill="#000" stroke="#000" stroke-width="0.3" >4</text><text x="1502.14" y="485.5" font-size="23.5" text-anchor="middle" fill="#000" stroke="#000" stroke-width="0.3" >6</text><text x="1583.43" y="485.5" font-size="23.5" text-anchor="middle" fill="#000" stroke="#000" stroke-width="0.3" >8</text><text x="1664.71" y="485.5" font-size="23.5" text-anchor="middle" fill="#000" stroke="#000" stroke-width="0.3" >10</text><text x="1163" y="428.8" font-size="23.5" text-anchor="end" fill="#000" stroke="#000" stroke-width="0.3" >50</text><text x="1163" y="362.6" font-size="23.5" text-anchor="end" fill="#000" stroke="#000" stroke-width="0.3" >60</text><text x="1163" y="296.4" font-size="23.5" text-anchor="end" fill="#000" stroke="#000" stroke-width="0.3" >70</text><text x="1163" y="230.2" font-size="23.5" text-anchor="end" fill="#000" stroke="#000" stroke-width="0.3" >80</text><text x="1163" y="164" font-size="23.5" text-anchor="end" fill="#000" stroke="#000" stroke-width="0.3" >90</text><text x="1163" y="97.8" font-size="23.5" text-anchor="end" fill="#000" stroke="#000" stroke-width="0.3" >100</text><text x="1461.5" y="526" font-size="28" text-anchor="middle" fill="#000" stroke="#000" stroke-width="0.3" ><tspan font-style="italic">V</tspan> (V)</text><text x="1096" y="256" font-size="28" text-anchor="middle" fill="#000" stroke="#000" stroke-width="0.3" transform="rotate(-90 1096 256)" ><tspan font-style="italic">θ</tspan> (deg)</text><clipPath id="clipL0"><rect x="0" y="0" width="51.4" height="68"/></clipPath><g transform="translate(1190.9 89.4)"><rect x="0" y="0" width="51.4" height="68" fill="#fff" stroke="none" stroke-width="1" /><g clip-path="url(#clipL0)"><path d="M52 0 H45.4 V8.9 C33 13 12.3 30 12.4 55 L12.8 69 H52 Z" fill="url(#gDropL)" stroke="none" stroke-width="1" filter="url(#blurS)"/><ellipse cx="48.5" cy="58.5" rx="15.5" ry="17" fill="url(#gSpot)" stroke="none" stroke-width="1" /><rect x="45.6" y="0" width="6.4" height="30" fill="url(#gDropL)" stroke="none" stroke-width="1" /></g><rect x="0" y="0" width="51.4" height="68" fill="none" stroke="#8a8a8a" stroke-width="0.9" /><text x="25.9" y="21.2" font-size="20" text-anchor="middle" fill="#b5dc66" stroke="#b5dc66" stroke-width="0.3" >0 s</text></g><clipPath id="clipR0"><rect x="0" y="0" width="51.4" height="68"/></clipPath><g transform="translate(1680.1 89.4)"><rect x="0" y="0" width="51.4" height="68" fill="#fff" stroke="none" stroke-width="1" /><g clip-path="url(#clipR0)"><path d="M52 0 H45.9 V10.5 C42 14 33 19 27.9 23.8 C21 30 14.6 42 13.5 58.3 L13.8 69 H52 Z" fill="url(#gDropR)" stroke="none" stroke-width="1" filter="url(#blurS)"/><circle cx="46.9" cy="45.9" r="5.5" fill="url(#gSpot2)" stroke="none" stroke-width="1" /><circle cx="47" cy="46" r="2.6" fill="#fff" stroke="none" stroke-width="1" filter="url(#blurS)"/></g><rect x="0" y="0" width="51.4" height="68" fill="none" stroke="#8a8a8a" stroke-width="0.9" /><text x="26" y="21.2" font-size="20" text-anchor="middle" fill="#b5dc66" stroke="#b5dc66" stroke-width="0.3" >0 s</text></g><clipPath id="clipL1"><rect x="0" y="0" width="51.4" height="68"/></clipPath><g transform="translate(1190.9 177.1)"><rect x="0" y="0" width="51.4" height="68" fill="#fff" stroke="none" stroke-width="1" /><g clip-path="url(#clipL1)"><path d="M52 0 H45.4 V12.8 C34 17.3 17.2 34 17.2 56 L17.9 69 H52 Z" fill="url(#gDropL)" stroke="none" stroke-width="1" filter="url(#blurS)"/><ellipse cx="49.2" cy="54" rx="11.5" ry="15" fill="url(#gSpot)" stroke="none" stroke-width="1" /><rect x="45.6" y="0" width="6.4" height="36" fill="url(#gDropL)" stroke="none" stroke-width="1" /></g><rect x="0" y="0" width="51.4" height="68" fill="none" stroke="#8a8a8a" stroke-width="0.9" /><text x="25.7" y="21.2" font-size="20" text-anchor="middle" fill="#68bfad" stroke="#68bfad" stroke-width="0.3" >20 s</text></g><clipPath id="clipR1"><rect x="0" y="0" width="51.4" height="68"/></clipPath><g transform="translate(1680.1 177.1)"><rect x="0" y="0" width="51.4" height="68" fill="#fff" stroke="none" stroke-width="1" /><g clip-path="url(#clipR1)"><path d="M52 0 H45.9 V16 C44 20 37 25 31 29.5 C24 35 14 47 6.7 59 L10.9 69 H52 Z" fill="url(#gDropR2)" stroke="none" stroke-width="1" filter="url(#blurS)"/><ellipse cx="47.5" cy="50" rx="3.2" ry="4.5" fill="#cfcfcf" stroke="none" stroke-width="1" filter="url(#blurS)" opacity="0.8"/></g><rect x="0" y="0" width="51.4" height="68" fill="none" stroke="#8a8a8a" stroke-width="0.9" /><text x="25.5" y="21.2" font-size="20" text-anchor="middle" fill="#68bfad" stroke="#68bfad" stroke-width="0.3" >20 s</text></g><clipPath id="clipL2"><rect x="0" y="0" width="51.4" height="68"/></clipPath><g transform="translate(1190.9 264.8)"><rect x="0" y="0" width="51.4" height="68" fill="#fff" stroke="none" stroke-width="1" /><g clip-path="url(#clipL2)"><path d="M52 0 H45.4 V12.5 C34 17 17.6 34 17.6 56 L18.3 69 H52 Z" fill="url(#gDropL)" stroke="none" stroke-width="1" filter="url(#blurS)"/><ellipse cx="49.2" cy="54" rx="11.5" ry="15" fill="url(#gSpot)" stroke="none" stroke-width="1" /><rect x="45.6" y="0" width="6.4" height="37" fill="url(#gDropL)" stroke="none" stroke-width="1" /></g><rect x="0" y="0" width="51.4" height="68" fill="none" stroke="#8a8a8a" stroke-width="0.9" /><text x="25.7" y="21.2" font-size="20" text-anchor="middle" fill="#5b85c0" stroke="#5b85c0" stroke-width="0.3" >40 s</text></g><clipPath id="clipR2"><rect x="0" y="0" width="51.4" height="68"/></clipPath><g transform="translate(1680.1 264.8)"><rect x="0" y="0" width="51.4" height="68" fill="#fff" stroke="none" stroke-width="1" /><g clip-path="url(#clipR2)"><path d="M52 0 H45.9 V16.5 C44 20.5 37 25.5 31 30 C24 35.5 14 48 7.5 60 L11.7 69 H52 Z" fill="url(#gDropR2)" stroke="none" stroke-width="1" filter="url(#blurS)"/><ellipse cx="47.5" cy="50" rx="3.2" ry="4.5" fill="#cfcfcf" stroke="none" stroke-width="1" filter="url(#blurS)" opacity="0.8"/></g><rect x="0" y="0" width="51.4" height="68" fill="none" stroke="#8a8a8a" stroke-width="0.9" /><text x="25.5" y="21.2" font-size="20" text-anchor="middle" fill="#5b85c0" stroke="#5b85c0" stroke-width="0.3" >40 s</text></g><clipPath id="clipL3"><rect x="0" y="0" width="51.4" height="68"/></clipPath><g transform="translate(1190.9 352.5)"><rect x="0" y="0" width="51.4" height="68" fill="#fff" stroke="none" stroke-width="1" /><g clip-path="url(#clipL3)"><path d="M52 0 H45.4 V12.5 C34 17 18 34 18 56 L18.7 69 H52 Z" fill="url(#gDropL)" stroke="none" stroke-width="1" filter="url(#blurS)"/><ellipse cx="49.2" cy="54" rx="11.5" ry="15" fill="url(#gSpot)" stroke="none" stroke-width="1" /><rect x="45.6" y="0" width="6.4" height="38" fill="url(#gDropL)" stroke="none" stroke-width="1" /></g><rect x="0" y="0" width="51.4" height="68" fill="none" stroke="#8a8a8a" stroke-width="0.9" /><text x="25.7" y="21.2" font-size="20" text-anchor="middle" fill="#6a52b8" stroke="#6a52b8" stroke-width="0.3" >60 s</text></g><clipPath id="clipR3"><rect x="0" y="0" width="51.4" height="68"/></clipPath><g transform="translate(1680.1 352.5)"><rect x="0" y="0" width="51.4" height="68" fill="#fff" stroke="none" stroke-width="1" /><g clip-path="url(#clipR3)"><path d="M52 0 H45.9 V17 C44 21 37 26 31 30.5 C24 36 14 49 7.8 61 L12 69 H52 Z" fill="url(#gDropR2)" stroke="none" stroke-width="1" filter="url(#blurS)"/><ellipse cx="47.5" cy="50" rx="3.2" ry="4.5" fill="#cfcfcf" stroke="none" stroke-width="1" filter="url(#blurS)" opacity="0.8"/></g><rect x="0" y="0" width="51.4" height="68" fill="none" stroke="#8a8a8a" stroke-width="0.9" /><text x="25.5" y="21.2" font-size="20" text-anchor="middle" fill="#6a52b8" stroke="#6a52b8" stroke-width="0.3" >60 s</text></g><rect x="1222.2" y="146" width="14.6" height="6.4" fill="#fff" stroke="#000" stroke-width="1.4" /><path d="M1258.29 82.88 C1265.06 83.32 1271.83 83.54 1278.61 84.2 C1285.38 84.87 1292.15 85.75 1298.93 86.85 C1305.7 87.96 1312.48 89.28 1319.25 90.82 C1326.02 92.37 1332.8 94.19 1339.57 96.12 C1346.35 98.05 1353.12 100.2 1359.89 102.41 C1366.67 104.62 1373.44 106.93 1380.21 109.36 C1386.99 111.79 1393.76 114.55 1400.54 116.97 C1407.31 119.4 1414.08 121.94 1420.86 123.92 C1427.63 125.91 1434.4 127.34 1441.18 128.89 C1447.95 130.43 1454.73 131.87 1461.5 133.19 C1468.27 134.52 1475.05 135.73 1481.82 136.83 C1488.6 137.94 1495.37 138.98 1502.14 139.81 C1508.92 140.64 1515.69 141.25 1522.46 141.8 C1529.24 142.35 1536.01 142.77 1542.79 143.12 C1556.33 143.82 1569.88 143.84 1583.43 144.12 C1596.98 144.39 1610.52 144.61 1624.07 144.78 C1637.62 144.94 1651.17 145 1664.71 145.11" fill="none" stroke="#b5dc66" stroke-width="4.6" stroke-opacity="0.45" stroke-linecap="round" stroke-linejoin="round"/><path d="M1258.29 94.8 C1265.06 96.56 1271.83 97 1278.61 100.09 C1285.38 103.18 1292.15 107.15 1298.93 113.33 C1305.7 119.51 1312.48 128.56 1319.25 137.16 C1326.02 145.77 1332.8 156.69 1339.57 164.97 C1346.35 173.24 1353.12 180.19 1359.89 186.81 C1366.67 193.43 1373.44 198.84 1380.21 204.69 C1386.99 210.54 1393.76 216.71 1400.54 221.9 C1407.31 227.09 1414.08 231.94 1420.86 235.8 C1427.63 239.66 1434.4 242.53 1441.18 245.07 C1447.95 247.61 1454.73 249.37 1461.5 251.03 C1468.27 252.68 1475.05 253.9 1481.82 255 C1488.6 256.1 1495.37 256.77 1502.14 257.65 C1515.69 259.41 1529.24 261.51 1542.79 262.94 C1556.33 264.38 1569.88 265.37 1583.43 266.25 C1596.98 267.14 1610.52 267.63 1624.07 268.24 C1637.62 268.85 1651.17 269.34 1664.71 269.89" fill="none" stroke="#68bfad" stroke-width="4.6" stroke-opacity="0.45" stroke-linecap="round" stroke-linejoin="round"/><path d="M1258.29 137.83 C1265.06 137.83 1271.83 137.77 1278.61 137.83 C1285.38 137.88 1292.15 137.61 1298.93 138.16 C1305.7 138.71 1312.48 138.87 1319.25 141.14 C1326.02 143.4 1332.8 146.65 1339.57 151.73 C1346.35 156.8 1353.12 162.76 1359.89 171.59 C1366.67 180.41 1373.44 190.42 1380.21 204.69 C1383.6 211.82 1386.99 219.58 1390.38 228.52 C1393.76 237.46 1397.15 248.38 1400.54 258.31 C1403.92 268.24 1407.31 279.16 1410.7 288.1 C1414.08 297.04 1417.47 305.09 1420.86 311.93 C1424.24 318.77 1427.63 324.51 1431.02 329.14 C1434.4 333.78 1437.79 336.83 1441.18 339.74 C1447.95 345.55 1454.73 347.4 1461.5 349.67 C1468.27 351.93 1475.05 352.53 1481.82 353.31 C1488.6 354.08 1495.37 354.04 1502.14 354.3 C1515.69 354.81 1529.24 354.85 1542.79 354.96 C1556.33 355.07 1569.88 354.96 1583.43 354.96 C1610.52 354.96 1637.62 354.96 1664.71 354.96" fill="none" stroke="#5b85c0" stroke-width="4.6" stroke-opacity="0.45" stroke-linecap="round" stroke-linejoin="round"/><path d="M1258.29 145.11 C1265.06 145.11 1271.83 144.89 1278.61 145.11 C1285.38 145.33 1292.15 145.11 1298.93 146.43 C1305.7 147.76 1312.48 148.64 1319.25 153.05 C1326.02 157.47 1332.8 162.54 1339.57 172.91 C1346.35 183.28 1353.12 198.8 1359.89 215.28 C1363.28 223.52 1366.67 232.71 1370.05 241.76 C1373.44 250.81 1376.83 260.3 1380.21 269.56 C1383.6 278.83 1386.99 288.76 1390.38 297.37 C1393.76 305.97 1397.15 314.25 1400.54 321.2 C1403.92 328.15 1407.31 333.89 1410.7 339.07 C1414.08 344.26 1417.47 348.45 1420.86 352.31 C1427.63 360.04 1434.4 364.12 1441.18 368.86 C1447.95 373.61 1454.73 377.25 1461.5 380.78 C1468.27 384.31 1475.05 387.18 1481.82 390.05 C1488.6 392.92 1495.37 395.68 1502.14 397.99 C1508.92 400.31 1515.69 402.18 1522.46 403.95 C1529.24 405.72 1536.01 407.3 1542.79 408.58 C1556.33 411.16 1569.88 412.11 1583.43 413.22 C1596.98 414.32 1610.52 414.65 1624.07 415.2 C1637.62 415.76 1651.17 416.09 1664.71 416.53" fill="none" stroke="#6a52b8" stroke-width="4.6" stroke-opacity="0.45" stroke-linecap="round" stroke-linejoin="round"/><line x1="1258.29" y1="65.67" x2="1258.29" y2="100.75" stroke="#b5dc66" stroke-width="1.9" /><line x1="1246.49" y1="65.67" x2="1270.09" y2="65.67" stroke="#b5dc66" stroke-width="1.9" /><line x1="1246.49" y1="100.75" x2="1270.09" y2="100.75" stroke="#b5dc66" stroke-width="1.9" /><line x1="1298.93" y1="67.65" x2="1298.93" y2="102.74" stroke="#b5dc66" stroke-width="1.9" /><line x1="1287.13" y1="67.65" x2="1310.73" y2="67.65" stroke="#b5dc66" stroke-width="1.9" /><line x1="1287.13" y1="102.74" x2="1310.73" y2="102.74" stroke="#b5dc66" stroke-width="1.9" /><line x1="1339.57" y1="86.72" x2="1339.57" y2="107.24" stroke="#b5dc66" stroke-width="1.9" /><line x1="1327.77" y1="86.72" x2="1351.37" y2="86.72" stroke="#b5dc66" stroke-width="1.9" /><line x1="1327.77" y1="107.24" x2="1351.37" y2="107.24" stroke="#b5dc66" stroke-width="1.9" /><line x1="1380.21" y1="102.74" x2="1380.21" y2="114.66" stroke="#b5dc66" stroke-width="1.9" /><line x1="1368.41" y1="102.74" x2="1392.01" y2="102.74" stroke="#b5dc66" stroke-width="1.9" /><line x1="1368.41" y1="114.66" x2="1392.01" y2="114.66" stroke="#b5dc66" stroke-width="1.9" /><line x1="1420.86" y1="122.6" x2="1420.86" y2="126.57" stroke="#b5dc66" stroke-width="1.9" /><line x1="1409.06" y1="122.6" x2="1432.66" y2="122.6" stroke="#b5dc66" stroke-width="1.9" /><line x1="1409.06" y1="126.57" x2="1432.66" y2="126.57" stroke="#b5dc66" stroke-width="1.9" /><line x1="1461.5" y1="130.88" x2="1461.5" y2="134.85" stroke="#b5dc66" stroke-width="1.9" /><line x1="1449.7" y1="130.88" x2="1473.3" y2="130.88" stroke="#b5dc66" stroke-width="1.9" /><line x1="1449.7" y1="134.85" x2="1473.3" y2="134.85" stroke="#b5dc66" stroke-width="1.9" /><line x1="1502.14" y1="137.83" x2="1502.14" y2="141.8" stroke="#b5dc66" stroke-width="1.9" /><line x1="1490.34" y1="137.83" x2="1513.94" y2="137.83" stroke="#b5dc66" stroke-width="1.9" /><line x1="1490.34" y1="141.8" x2="1513.94" y2="141.8" stroke="#b5dc66" stroke-width="1.9" /><line x1="1542.79" y1="143.12" x2="1542.79" y2="147.09" stroke="#b5dc66" stroke-width="1.9" /><line x1="1530.99" y1="143.12" x2="1554.59" y2="143.12" stroke="#b5dc66" stroke-width="1.9" /><line x1="1530.99" y1="147.09" x2="1554.59" y2="147.09" stroke="#b5dc66" stroke-width="1.9" /><line x1="1583.43" y1="141.14" x2="1583.43" y2="146.43" stroke="#b5dc66" stroke-width="1.9" /><line x1="1571.63" y1="141.14" x2="1595.23" y2="141.14" stroke="#b5dc66" stroke-width="1.9" /><line x1="1571.63" y1="146.43" x2="1595.23" y2="146.43" stroke="#b5dc66" stroke-width="1.9" /><line x1="1624.07" y1="136.5" x2="1624.07" y2="149.74" stroke="#b5dc66" stroke-width="1.9" /><line x1="1612.27" y1="136.5" x2="1635.87" y2="136.5" stroke="#b5dc66" stroke-width="1.9" /><line x1="1612.27" y1="149.74" x2="1635.87" y2="149.74" stroke="#b5dc66" stroke-width="1.9" /><line x1="1664.71" y1="141.8" x2="1664.71" y2="148.42" stroke="#b5dc66" stroke-width="1.9" /><line x1="1652.91" y1="141.8" x2="1676.51" y2="141.8" stroke="#b5dc66" stroke-width="1.9" /><line x1="1652.91" y1="148.42" x2="1676.51" y2="148.42" stroke="#b5dc66" stroke-width="1.9" /><circle cx="1258.29" cy="83.21" r="6.7" fill="#b5dc66" stroke="none" stroke-width="1" fill-opacity="0.93"/><circle cx="1298.93" cy="85.2" r="6.7" fill="#b5dc66" stroke="none" stroke-width="1" fill-opacity="0.93"/><circle cx="1339.57" cy="96.98" r="6.7" fill="#b5dc66" stroke="none" stroke-width="1" fill-opacity="0.93"/><circle cx="1380.21" cy="108.7" r="6.7" fill="#b5dc66" stroke="none" stroke-width="1" fill-opacity="0.93"/><circle cx="1420.86" cy="124.59" r="6.7" fill="#b5dc66" stroke="none" stroke-width="1" fill-opacity="0.93"/><circle cx="1461.5" cy="132.86" r="6.7" fill="#b5dc66" stroke="none" stroke-width="1" fill-opacity="0.93"/><circle cx="1502.14" cy="139.81" r="6.7" fill="#b5dc66" stroke="none" stroke-width="1" fill-opacity="0.93"/><circle cx="1542.79" cy="145.11" r="6.7" fill="#b5dc66" stroke="none" stroke-width="1" fill-opacity="0.93"/><circle cx="1583.43" cy="143.78" r="6.7" fill="#b5dc66" stroke="none" stroke-width="1" fill-opacity="0.93"/><circle cx="1624.07" cy="143.12" r="6.7" fill="#b5dc66" stroke="none" stroke-width="1" fill-opacity="0.93"/><circle cx="1664.71" cy="145.11" r="6.7" fill="#b5dc66" stroke="none" stroke-width="1" fill-opacity="0.93"/><line x1="1258.29" y1="91.49" x2="1258.29" y2="99.43" stroke="#68bfad" stroke-width="1.9" /><line x1="1246.49" y1="91.49" x2="1270.09" y2="91.49" stroke="#68bfad" stroke-width="1.9" /><line x1="1246.49" y1="99.43" x2="1270.09" y2="99.43" stroke="#68bfad" stroke-width="1.9" /><line x1="1298.93" y1="111.02" x2="1298.93" y2="120.95" stroke="#68bfad" stroke-width="1.9" /><line x1="1287.13" y1="111.02" x2="1310.73" y2="111.02" stroke="#68bfad" stroke-width="1.9" /><line x1="1287.13" y1="120.95" x2="1310.73" y2="120.95" stroke="#68bfad" stroke-width="1.9" /><line x1="1339.57" y1="163.98" x2="1339.57" y2="169.93" stroke="#68bfad" stroke-width="1.9" /><line x1="1327.77" y1="163.98" x2="1351.37" y2="163.98" stroke="#68bfad" stroke-width="1.9" /><line x1="1327.77" y1="169.93" x2="1351.37" y2="169.93" stroke="#68bfad" stroke-width="1.9" /><line x1="1380.21" y1="197.08" x2="1380.21" y2="205.68" stroke="#68bfad" stroke-width="1.9" /><line x1="1368.41" y1="197.08" x2="1392.01" y2="197.08" stroke="#68bfad" stroke-width="1.9" /><line x1="1368.41" y1="205.68" x2="1392.01" y2="205.68" stroke="#68bfad" stroke-width="1.9" /><line x1="1420.86" y1="230.18" x2="1420.86" y2="245.4" stroke="#68bfad" stroke-width="1.9" /><line x1="1409.06" y1="230.18" x2="1432.66" y2="230.18" stroke="#68bfad" stroke-width="1.9" /><line x1="1409.06" y1="245.4" x2="1432.66" y2="245.4" stroke="#68bfad" stroke-width="1.9" /><line x1="1461.5" y1="230.51" x2="1461.5" y2="270.89" stroke="#68bfad" stroke-width="1.9" /><line x1="1449.7" y1="230.51" x2="1473.3" y2="230.51" stroke="#68bfad" stroke-width="1.9" /><line x1="1449.7" y1="270.89" x2="1473.3" y2="270.89" stroke="#68bfad" stroke-width="1.9" /><line x1="1502.14" y1="249.7" x2="1502.14" y2="259.63" stroke="#68bfad" stroke-width="1.9" /><line x1="1490.34" y1="249.7" x2="1513.94" y2="249.7" stroke="#68bfad" stroke-width="1.9" /><line x1="1490.34" y1="259.63" x2="1513.94" y2="259.63" stroke="#68bfad" stroke-width="1.9" /><line x1="1542.79" y1="253.35" x2="1542.79" y2="275.19" stroke="#68bfad" stroke-width="1.9" /><line x1="1530.99" y1="253.35" x2="1554.59" y2="253.35" stroke="#68bfad" stroke-width="1.9" /><line x1="1530.99" y1="275.19" x2="1554.59" y2="275.19" stroke="#68bfad" stroke-width="1.9" /><line x1="1583.43" y1="267.25" x2="1583.43" y2="279.82" stroke="#68bfad" stroke-width="1.9" /><line x1="1571.63" y1="267.25" x2="1595.23" y2="267.25" stroke="#68bfad" stroke-width="1.9" /><line x1="1571.63" y1="279.82" x2="1595.23" y2="279.82" stroke="#68bfad" stroke-width="1.9" /><line x1="1624.07" y1="254.01" x2="1624.07" y2="273.87" stroke="#68bfad" stroke-width="1.9" /><line x1="1612.27" y1="254.01" x2="1635.87" y2="254.01" stroke="#68bfad" stroke-width="1.9" /><line x1="1612.27" y1="273.87" x2="1635.87" y2="273.87" stroke="#68bfad" stroke-width="1.9" /><line x1="1664.71" y1="255.66" x2="1664.71" y2="276.85" stroke="#68bfad" stroke-width="1.9" /><line x1="1652.91" y1="255.66" x2="1676.51" y2="255.66" stroke="#68bfad" stroke-width="1.9" /><line x1="1652.91" y1="276.85" x2="1676.51" y2="276.85" stroke="#68bfad" stroke-width="1.9" /><circle cx="1258.29" cy="95.46" r="6.7" fill="#68bfad" stroke="none" stroke-width="1" fill-opacity="0.93"/><circle cx="1298.93" cy="115.98" r="6.7" fill="#68bfad" stroke="none" stroke-width="1" fill-opacity="0.93"/><circle cx="1339.57" cy="166.95" r="6.7" fill="#68bfad" stroke="none" stroke-width="1" fill-opacity="0.93"/><circle cx="1380.21" cy="201.38" r="6.7" fill="#68bfad" stroke="none" stroke-width="1" fill-opacity="0.93"/><circle cx="1420.86" cy="237.79" r="6.7" fill="#68bfad" stroke="none" stroke-width="1" fill-opacity="0.93"/><circle cx="1461.5" cy="250.7" r="6.7" fill="#68bfad" stroke="none" stroke-width="1" fill-opacity="0.93"/><circle cx="1502.14" cy="254.67" r="6.7" fill="#68bfad" stroke="none" stroke-width="1" fill-opacity="0.93"/><circle cx="1542.79" cy="264.27" r="6.7" fill="#68bfad" stroke="none" stroke-width="1" fill-opacity="0.93"/><circle cx="1583.43" cy="273.54" r="6.7" fill="#68bfad" stroke="none" stroke-width="1" fill-opacity="0.93"/><circle cx="1624.07" cy="263.94" r="6.7" fill="#68bfad" stroke="none" stroke-width="1" fill-opacity="0.93"/><circle cx="1664.71" cy="266.25" r="6.7" fill="#68bfad" stroke="none" stroke-width="1" fill-opacity="0.93"/><line x1="1258.29" y1="104.73" x2="1258.29" y2="167.62" stroke="#5b85c0" stroke-width="1.9" /><line x1="1246.49" y1="104.73" x2="1270.09" y2="104.73" stroke="#5b85c0" stroke-width="1.9" /><line x1="1246.49" y1="167.62" x2="1270.09" y2="167.62" stroke="#5b85c0" stroke-width="1.9" /><line x1="1298.93" y1="131.21" x2="1298.93" y2="141.8" stroke="#5b85c0" stroke-width="1.9" /><line x1="1287.13" y1="131.21" x2="1310.73" y2="131.21" stroke="#5b85c0" stroke-width="1.9" /><line x1="1287.13" y1="141.8" x2="1310.73" y2="141.8" stroke="#5b85c0" stroke-width="1.9" /><line x1="1339.57" y1="145.11" x2="1339.57" y2="163.64" stroke="#5b85c0" stroke-width="1.9" /><line x1="1327.77" y1="145.11" x2="1351.37" y2="145.11" stroke="#5b85c0" stroke-width="1.9" /><line x1="1327.77" y1="163.64" x2="1351.37" y2="163.64" stroke="#5b85c0" stroke-width="1.9" /><line x1="1380.21" y1="185.49" x2="1380.21" y2="218.59" stroke="#5b85c0" stroke-width="1.9" /><line x1="1368.41" y1="185.49" x2="1392.01" y2="185.49" stroke="#5b85c0" stroke-width="1.9" /><line x1="1368.41" y1="218.59" x2="1392.01" y2="218.59" stroke="#5b85c0" stroke-width="1.9" /><line x1="1420.86" y1="288.76" x2="1420.86" y2="342.38" stroke="#5b85c0" stroke-width="1.9" /><line x1="1409.06" y1="288.76" x2="1432.66" y2="288.76" stroke="#5b85c0" stroke-width="1.9" /><line x1="1409.06" y1="342.38" x2="1432.66" y2="342.38" stroke="#5b85c0" stroke-width="1.9" /><line x1="1461.5" y1="323.19" x2="1461.5" y2="366.88" stroke="#5b85c0" stroke-width="1.9" /><line x1="1449.7" y1="323.19" x2="1473.3" y2="323.19" stroke="#5b85c0" stroke-width="1.9" /><line x1="1449.7" y1="366.88" x2="1473.3" y2="366.88" stroke="#5b85c0" stroke-width="1.9" /><line x1="1502.14" y1="340.07" x2="1502.14" y2="381.77" stroke="#5b85c0" stroke-width="1.9" /><line x1="1490.34" y1="340.07" x2="1513.94" y2="340.07" stroke="#5b85c0" stroke-width="1.9" /><line x1="1490.34" y1="381.77" x2="1513.94" y2="381.77" stroke="#5b85c0" stroke-width="1.9" /><line x1="1542.79" y1="341.72" x2="1542.79" y2="372.84" stroke="#5b85c0" stroke-width="1.9" /><line x1="1530.99" y1="341.72" x2="1554.59" y2="341.72" stroke="#5b85c0" stroke-width="1.9" /><line x1="1530.99" y1="372.84" x2="1554.59" y2="372.84" stroke="#5b85c0" stroke-width="1.9" /><line x1="1583.43" y1="343.05" x2="1583.43" y2="372.17" stroke="#5b85c0" stroke-width="1.9" /><line x1="1571.63" y1="343.05" x2="1595.23" y2="343.05" stroke="#5b85c0" stroke-width="1.9" /><line x1="1571.63" y1="372.17" x2="1595.23" y2="372.17" stroke="#5b85c0" stroke-width="1.9" /><line x1="1624.07" y1="333.12" x2="1624.07" y2="368.2" stroke="#5b85c0" stroke-width="1.9" /><line x1="1612.27" y1="333.12" x2="1635.87" y2="333.12" stroke="#5b85c0" stroke-width="1.9" /><line x1="1612.27" y1="368.2" x2="1635.87" y2="368.2" stroke="#5b85c0" stroke-width="1.9" /><line x1="1664.71" y1="346.36" x2="1664.71" y2="353.64" stroke="#5b85c0" stroke-width="1.9" /><line x1="1652.91" y1="346.36" x2="1676.51" y2="346.36" stroke="#5b85c0" stroke-width="1.9" /><line x1="1652.91" y1="353.64" x2="1676.51" y2="353.64" stroke="#5b85c0" stroke-width="1.9" /><circle cx="1258.29" cy="136.17" r="6.7" fill="#5b85c0" stroke="none" stroke-width="1" fill-opacity="0.93"/><circle cx="1298.93" cy="136.5" r="6.7" fill="#5b85c0" stroke="none" stroke-width="1" fill-opacity="0.93"/><circle cx="1339.57" cy="154.38" r="6.7" fill="#5b85c0" stroke="none" stroke-width="1" fill-opacity="0.93"/><circle cx="1380.21" cy="202.04" r="6.7" fill="#5b85c0" stroke="none" stroke-width="1" fill-opacity="0.93"/><circle cx="1420.86" cy="315.57" r="6.7" fill="#5b85c0" stroke="none" stroke-width="1" fill-opacity="0.93"/><circle cx="1461.5" cy="345.03" r="6.7" fill="#5b85c0" stroke="none" stroke-width="1" fill-opacity="0.93"/><circle cx="1502.14" cy="360.92" r="6.7" fill="#5b85c0" stroke="none" stroke-width="1" fill-opacity="0.93"/><circle cx="1542.79" cy="357.28" r="6.7" fill="#5b85c0" stroke="none" stroke-width="1" fill-opacity="0.93"/><circle cx="1583.43" cy="357.61" r="6.7" fill="#5b85c0" stroke="none" stroke-width="1" fill-opacity="0.93"/><circle cx="1624.07" cy="350.66" r="6.7" fill="#5b85c0" stroke="none" stroke-width="1" fill-opacity="0.93"/><circle cx="1664.71" cy="350" r="6.7" fill="#5b85c0" stroke="none" stroke-width="1" fill-opacity="0.93"/><line x1="1258.29" y1="129.22" x2="1258.29" y2="154.38" stroke="#6a52b8" stroke-width="1.9" /><line x1="1246.49" y1="129.22" x2="1270.09" y2="129.22" stroke="#6a52b8" stroke-width="1.9" /><line x1="1246.49" y1="154.38" x2="1270.09" y2="154.38" stroke="#6a52b8" stroke-width="1.9" /><line x1="1298.93" y1="135.51" x2="1298.93" y2="152.06" stroke="#6a52b8" stroke-width="1.9" /><line x1="1287.13" y1="135.51" x2="1310.73" y2="135.51" stroke="#6a52b8" stroke-width="1.9" /><line x1="1287.13" y1="152.06" x2="1310.73" y2="152.06" stroke="#6a52b8" stroke-width="1.9" /><line x1="1339.57" y1="163.97" x2="1339.57" y2="187.15" stroke="#6a52b8" stroke-width="1.9" /><line x1="1327.77" y1="163.97" x2="1351.37" y2="163.97" stroke="#6a52b8" stroke-width="1.9" /><line x1="1327.77" y1="187.15" x2="1351.37" y2="187.15" stroke="#6a52b8" stroke-width="1.9" /><line x1="1380.21" y1="246.06" x2="1380.21" y2="287.11" stroke="#6a52b8" stroke-width="1.9" /><line x1="1368.41" y1="246.06" x2="1392.01" y2="246.06" stroke="#6a52b8" stroke-width="1.9" /><line x1="1368.41" y1="287.11" x2="1392.01" y2="287.11" stroke="#6a52b8" stroke-width="1.9" /><line x1="1420.86" y1="347.35" x2="1420.86" y2="377.14" stroke="#6a52b8" stroke-width="1.9" /><line x1="1409.06" y1="347.35" x2="1432.66" y2="347.35" stroke="#6a52b8" stroke-width="1.9" /><line x1="1409.06" y1="377.14" x2="1432.66" y2="377.14" stroke="#6a52b8" stroke-width="1.9" /><line x1="1461.5" y1="368.86" x2="1461.5" y2="400.64" stroke="#6a52b8" stroke-width="1.9" /><line x1="1449.7" y1="368.86" x2="1473.3" y2="368.86" stroke="#6a52b8" stroke-width="1.9" /><line x1="1449.7" y1="400.64" x2="1473.3" y2="400.64" stroke="#6a52b8" stroke-width="1.9" /><line x1="1502.14" y1="391.04" x2="1502.14" y2="416.2" stroke="#6a52b8" stroke-width="1.9" /><line x1="1490.34" y1="391.04" x2="1513.94" y2="391.04" stroke="#6a52b8" stroke-width="1.9" /><line x1="1490.34" y1="416.2" x2="1513.94" y2="416.2" stroke="#6a52b8" stroke-width="1.9" /><line x1="1542.79" y1="396.01" x2="1542.79" y2="418.51" stroke="#6a52b8" stroke-width="1.9" /><line x1="1530.99" y1="396.01" x2="1554.59" y2="396.01" stroke="#6a52b8" stroke-width="1.9" /><line x1="1530.99" y1="418.51" x2="1554.59" y2="418.51" stroke="#6a52b8" stroke-width="1.9" /><line x1="1583.43" y1="409.91" x2="1583.43" y2="416.53" stroke="#6a52b8" stroke-width="1.9" /><line x1="1571.63" y1="409.91" x2="1595.23" y2="409.91" stroke="#6a52b8" stroke-width="1.9" /><line x1="1571.63" y1="416.53" x2="1595.23" y2="416.53" stroke="#6a52b8" stroke-width="1.9" /><line x1="1624.07" y1="412.89" x2="1624.07" y2="419.51" stroke="#6a52b8" stroke-width="1.9" /><line x1="1612.27" y1="412.89" x2="1635.87" y2="412.89" stroke="#6a52b8" stroke-width="1.9" /><line x1="1612.27" y1="419.51" x2="1635.87" y2="419.51" stroke="#6a52b8" stroke-width="1.9" /><line x1="1664.71" y1="418.18" x2="1664.71" y2="426.79" stroke="#6a52b8" stroke-width="1.9" /><line x1="1652.91" y1="418.18" x2="1676.51" y2="418.18" stroke="#6a52b8" stroke-width="1.9" /><line x1="1652.91" y1="426.79" x2="1676.51" y2="426.79" stroke="#6a52b8" stroke-width="1.9" /><circle cx="1258.29" cy="141.8" r="6.7" fill="#6a52b8" stroke="none" stroke-width="1" fill-opacity="0.93"/><circle cx="1298.93" cy="143.78" r="6.7" fill="#6a52b8" stroke="none" stroke-width="1" fill-opacity="0.93"/><circle cx="1339.57" cy="175.56" r="6.7" fill="#6a52b8" stroke="none" stroke-width="1" fill-opacity="0.93"/><circle cx="1380.21" cy="266.59" r="6.7" fill="#6a52b8" stroke="none" stroke-width="1" fill-opacity="0.93"/><circle cx="1420.86" cy="362.24" r="6.7" fill="#6a52b8" stroke="none" stroke-width="1" fill-opacity="0.93"/><circle cx="1461.5" cy="384.75" r="6.7" fill="#6a52b8" stroke="none" stroke-width="1" fill-opacity="0.93"/><circle cx="1502.14" cy="403.62" r="6.7" fill="#6a52b8" stroke="none" stroke-width="1" fill-opacity="0.93"/><circle cx="1542.79" cy="407.26" r="6.7" fill="#6a52b8" stroke="none" stroke-width="1" fill-opacity="0.93"/><circle cx="1583.43" cy="413.22" r="6.7" fill="#6a52b8" stroke="none" stroke-width="1" fill-opacity="0.93"/><circle cx="1624.07" cy="416.2" r="6.7" fill="#6a52b8" stroke="none" stroke-width="1" fill-opacity="0.93"/><circle cx="1664.71" cy="422.49" r="6.7" fill="#6a52b8" stroke="none" stroke-width="1" fill-opacity="0.93"/></g>
<g id="pd"><rect x="1177" y="563.9" width="243.86" height="397.8" fill="#ffffb3" stroke="none" stroke-width="1" /><rect x="1420.86" y="563.9" width="325.14" height="397.8" fill="#fde0ef" stroke="none" stroke-width="1" /><line x1="1177" y1="829.1" x2="1746" y2="829.1" stroke="#8a8a8a" stroke-width="1.6" stroke-dasharray="7.5 4"/><line x1="1217.64" y1="961.7" x2="1217.64" y2="954.9" stroke="#444" stroke-width="1.1" /><line x1="1217.64" y1="563.9" x2="1217.64" y2="570.7" stroke="#444" stroke-width="1.1" /><line x1="1258.29" y1="961.7" x2="1258.29" y2="952.1" stroke="#444" stroke-width="1.1" /><line x1="1258.29" y1="563.9" x2="1258.29" y2="573.5" stroke="#444" stroke-width="1.1" /><line x1="1298.93" y1="961.7" x2="1298.93" y2="954.9" stroke="#444" stroke-width="1.1" /><line x1="1298.93" y1="563.9" x2="1298.93" y2="570.7" stroke="#444" stroke-width="1.1" /><line x1="1339.57" y1="961.7" x2="1339.57" y2="952.1" stroke="#444" stroke-width="1.1" /><line x1="1339.57" y1="563.9" x2="1339.57" y2="573.5" stroke="#444" stroke-width="1.1" /><line x1="1380.21" y1="961.7" x2="1380.21" y2="954.9" stroke="#444" stroke-width="1.1" /><line x1="1380.21" y1="563.9" x2="1380.21" y2="570.7" stroke="#444" stroke-width="1.1" /><line x1="1420.86" y1="961.7" x2="1420.86" y2="952.1" stroke="#444" stroke-width="1.1" /><line x1="1420.86" y1="563.9" x2="1420.86" y2="573.5" stroke="#444" stroke-width="1.1" /><line x1="1461.5" y1="961.7" x2="1461.5" y2="954.9" stroke="#444" stroke-width="1.1" /><line x1="1461.5" y1="563.9" x2="1461.5" y2="570.7" stroke="#444" stroke-width="1.1" /><line x1="1502.14" y1="961.7" x2="1502.14" y2="952.1" stroke="#444" stroke-width="1.1" /><line x1="1502.14" y1="563.9" x2="1502.14" y2="573.5" stroke="#444" stroke-width="1.1" /><line x1="1542.79" y1="961.7" x2="1542.79" y2="954.9" stroke="#444" stroke-width="1.1" /><line x1="1542.79" y1="563.9" x2="1542.79" y2="570.7" stroke="#444" stroke-width="1.1" /><line x1="1583.43" y1="961.7" x2="1583.43" y2="952.1" stroke="#444" stroke-width="1.1" /><line x1="1583.43" y1="563.9" x2="1583.43" y2="573.5" stroke="#444" stroke-width="1.1" /><line x1="1624.07" y1="961.7" x2="1624.07" y2="954.9" stroke="#444" stroke-width="1.1" /><line x1="1624.07" y1="563.9" x2="1624.07" y2="570.7" stroke="#444" stroke-width="1.1" /><line x1="1664.71" y1="961.7" x2="1664.71" y2="952.1" stroke="#444" stroke-width="1.1" /><line x1="1664.71" y1="563.9" x2="1664.71" y2="573.5" stroke="#444" stroke-width="1.1" /><line x1="1705.36" y1="961.7" x2="1705.36" y2="954.9" stroke="#444" stroke-width="1.1" /><line x1="1705.36" y1="563.9" x2="1705.36" y2="570.7" stroke="#444" stroke-width="1.1" /><line x1="1177" y1="895.4" x2="1183.8" y2="895.4" stroke="#444" stroke-width="1.1" /><line x1="1746" y1="895.4" x2="1739.2" y2="895.4" stroke="#444" stroke-width="1.1" /><line x1="1177" y1="829.1" x2="1186.6" y2="829.1" stroke="#444" stroke-width="1.1" /><line x1="1746" y1="829.1" x2="1736.4" y2="829.1" stroke="#444" stroke-width="1.1" /><line x1="1177" y1="762.8" x2="1183.8" y2="762.8" stroke="#444" stroke-width="1.1" /><line x1="1746" y1="762.8" x2="1739.2" y2="762.8" stroke="#444" stroke-width="1.1" /><line x1="1177" y1="696.5" x2="1186.6" y2="696.5" stroke="#444" stroke-width="1.1" /><line x1="1746" y1="696.5" x2="1736.4" y2="696.5" stroke="#444" stroke-width="1.1" /><line x1="1177" y1="630.2" x2="1183.8" y2="630.2" stroke="#444" stroke-width="1.1" /><line x1="1746" y1="630.2" x2="1739.2" y2="630.2" stroke="#444" stroke-width="1.1" /><rect x="1177" y="563.9" width="569" height="397.8" fill="none" stroke="#444" stroke-width="1.2" /><text x="1177" y="993.8" font-size="23.5" text-anchor="middle" fill="#000" stroke="#000" stroke-width="0.3" >-2</text><text x="1258.29" y="993.8" font-size="23.5" text-anchor="middle" fill="#000" stroke="#000" stroke-width="0.3" >0</text><text x="1339.57" y="993.8" font-size="23.5" text-anchor="middle" fill="#000" stroke="#000" stroke-width="0.3" >2</text><text x="1420.86" y="993.8" font-size="23.5" text-anchor="middle" fill="#000" stroke="#000" stroke-width="0.3" >4</text><text x="1502.14" y="993.8" font-size="23.5" text-anchor="middle" fill="#000" stroke="#000" stroke-width="0.3" >6</text><text x="1583.43" y="993.8" font-size="23.5" text-anchor="middle" fill="#000" stroke="#000" stroke-width="0.3" >8</text><text x="1664.71" y="993.8" font-size="23.5" text-anchor="middle" fill="#000" stroke="#000" stroke-width="0.3" >10</text><text x="1746" y="993.8" font-size="23.5" text-anchor="middle" fill="#000" stroke="#000" stroke-width="0.3" >12</text><text x="1163" y="572.2" font-size="23.5" text-anchor="end" fill="#000" stroke="#000" stroke-width="0.3" >1.0</text><text x="1163" y="704.8" font-size="23.5" text-anchor="end" fill="#000" stroke="#000" stroke-width="0.3" >0.5</text><text x="1163" y="837.4" font-size="23.5" text-anchor="end" fill="#000" stroke="#000" stroke-width="0.3" >0.0</text><text x="1163" y="970" font-size="23.5" text-anchor="end" fill="#000" stroke="#000" stroke-width="0.3" >-0.5</text><text x="1461.5" y="1034" font-size="28" text-anchor="middle" fill="#000" stroke="#000" stroke-width="0.3" ><tspan font-style="italic">V</tspan> (V)</text><text x="1093.4" y="764" font-size="28" text-anchor="middle" fill="#000" stroke="#000" stroke-width="0.3" transform="rotate(-90 1093.4 764)" >Δ<tspan font-style="italic">E</tspan> (μJ)</text><path d="M1258.29 646.11 C1265.06 646.2 1271.83 646.2 1278.61 646.38 C1285.38 646.55 1292.15 646.6 1298.93 647.17 C1305.7 647.75 1312.48 647.97 1319.25 649.82 C1326.02 651.68 1332.8 652.52 1339.57 658.31 C1346.35 664.1 1353.12 672.54 1359.89 684.57 C1366.67 696.59 1373.44 714.31 1380.21 730.45 C1386.99 746.58 1393.76 764.92 1400.54 781.36 C1407.31 797.81 1414.08 816.37 1420.86 829.1 C1427.63 841.83 1434.4 849.61 1441.18 857.74 C1447.95 865.87 1454.73 872.24 1461.5 877.9 C1468.27 883.55 1475.05 887.89 1481.82 891.69 C1488.6 895.49 1495.37 898.32 1502.14 900.7 C1508.92 903.09 1515.69 904.55 1522.46 906.01 C1529.24 907.47 1536.01 908.44 1542.79 909.46 C1556.33 911.49 1569.88 912.81 1583.43 913.96 C1596.98 915.11 1610.52 915.72 1624.07 916.35 C1636.26 916.92 1648.46 917.23 1660.65 917.68" fill="none" stroke="#1f77b4" stroke-width="2" stroke-linecap="round"/><g transform="translate(1259.4 691.2)"><rect x="0" y="0" width="91.4" height="104" fill="#f6f7fb" stroke="none" stroke-width="1" /><rect x="0" y="0" width="91.4" height="28.3" fill="url(#gWat)" stroke="none" stroke-width="1" /><line x1="0" y1="28.3" x2="91.4" y2="28.3" stroke="#555" stroke-width="0.6" /><rect x="8.6" y="28.3" width="14" height="57" fill="url(#gPil)" stroke="#8c1217" stroke-width="0.6" /><path d="M2.8 28.3 A12.8 11.6 0 0 1 28.4 28.3 Z" fill="url(#gCap)" stroke="#4d3f1c" stroke-width="0.6" /><rect x="38.9" y="28.3" width="14" height="57" fill="url(#gPil)" stroke="#8c1217" stroke-width="0.6" /><path d="M33.1 28.3 A12.8 11.6 0 0 1 58.7 28.3 Z" fill="url(#gCap)" stroke="#4d3f1c" stroke-width="0.6" /><rect x="69.2" y="28.3" width="14" height="57" fill="url(#gPil)" stroke="#8c1217" stroke-width="0.6" /><path d="M63.4 28.3 A12.8 11.6 0 0 1 89 28.3 Z" fill="url(#gCap)" stroke="#4d3f1c" stroke-width="0.6" /><rect x="0" y="85.3" width="91.4" height="18.7" fill="url(#gBase)" stroke="none" stroke-width="1" /><rect x="0" y="0" width="91.4" height="104" fill="none" stroke="#8a8a8a" stroke-width="0.8" /></g><g transform="translate(1543.6 691.2)"><rect x="0" y="0" width="91.4" height="104" fill="#fff" stroke="none" stroke-width="1" /><rect x="0" y="0" width="91.4" height="85.3" fill="url(#gWat)" stroke="none" stroke-width="1" /><rect x="8.6" y="28.3" width="14" height="57" fill="url(#gPil)" stroke="#8c1217" stroke-width="0.6" /><path d="M2.8 28.3 A12.8 11.6 0 0 1 28.4 28.3 Z" fill="url(#gCap)" stroke="#4d3f1c" stroke-width="0.6" /><rect x="38.9" y="28.3" width="14" height="57" fill="url(#gPil)" stroke="#8c1217" stroke-width="0.6" /><path d="M33.1 28.3 A12.8 11.6 0 0 1 58.7 28.3 Z" fill="url(#gCap)" stroke="#4d3f1c" stroke-width="0.6" /><rect x="69.2" y="28.3" width="14" height="57" fill="url(#gPil)" stroke="#8c1217" stroke-width="0.6" /><path d="M63.4 28.3 A12.8 11.6 0 0 1 89 28.3 Z" fill="url(#gCap)" stroke="#4d3f1c" stroke-width="0.6" /><rect x="0" y="85.3" width="91.4" height="18.7" fill="url(#gBase)" stroke="none" stroke-width="1" /><rect x="0" y="0" width="91.4" height="104" fill="none" stroke="#8a8a8a" stroke-width="0.8" /></g><text x="1305" y="682" font-size="20" text-anchor="middle" fill="#000" stroke="#000" stroke-width="0.3" >Cassie</text><text x="1589.5" y="682" font-size="20" text-anchor="middle" fill="#000" stroke="#000" stroke-width="0.3" >Wenzel</text><text x="1506.5" y="610.2" font-size="28.3" text-anchor="start" fill="#000" stroke="#000" stroke-width="0.3" >Δ<tspan font-style="italic">E</tspan> = <tspan font-style="italic">E</tspan><tspan font-size="16.3" dy="5.6">Inter</tspan><tspan dy="-5.6"> - </tspan><tspan font-style="italic">E</tspan><tspan font-size="16.3" dy="5.6">Cassie</tspan></text></g>
<g id="pe"><rect x="146.6" y="561.8" width="322" height="389" fill="#fff" stroke="none" stroke-width="1" /><rect x="175.3" y="660.8" width="50" height="223.6" fill="url(#gPink)" stroke="#c9a0a0" stroke-width="0.6" /><path d="M156.2 660.8 A44.1 41.3 0 0 1 244.4 660.8 Z" fill="url(#gTanCap)" stroke="#9a9484" stroke-width="0.7" /><rect x="282.7" y="660.8" width="50" height="223.6" fill="url(#gPink)" stroke="#c9a0a0" stroke-width="0.6" /><path d="M263.6 660.8 A44.1 41.3 0 0 1 351.8 660.8 Z" fill="url(#gTanCap)" stroke="#9a9484" stroke-width="0.7" /><rect x="390" y="660.8" width="50" height="223.6" fill="url(#gPink)" stroke="#c9a0a0" stroke-width="0.6" /><path d="M370.9 660.8 A44.1 41.3 0 0 1 459.1 660.8 Z" fill="url(#gTanCap)" stroke="#9a9484" stroke-width="0.7" /><rect x="146.6" y="884.4" width="322" height="66.4" fill="url(#gTanBase)" stroke="#9a9484" stroke-width="0.6" /><rect x="146.6" y="561.8" width="322" height="389" fill="none" stroke="#6e6e6e" stroke-width="1.5" /><line x1="254.6" y1="563.3" x2="254.6" y2="950.8" stroke="#000" stroke-width="1.9" stroke-dasharray="0.01 4.0" stroke-linecap="round"/><line x1="361" y1="563.3" x2="361" y2="950.8" stroke="#000" stroke-width="1.9" stroke-dasharray="0.01 4.0" stroke-linecap="round"/><line x1="266.58" y1="601.4" x2="349.02" y2="601.4" stroke="#000" stroke-width="2.2" /><polygon points="360.7,601.4 346.1,607.7 349.02,601.4 346.1,595.1" fill="#000" stroke="none" stroke-width="1" /><polygon points="254.9,601.4 269.5,595.1 266.58,601.4 269.5,607.7" fill="#000" stroke="none" stroke-width="1" /><line x1="276.28" y1="678" x2="339.52" y2="678" stroke="#000" stroke-width="2.2" /><polygon points="351.2,678 336.6,684.3 339.52,678 336.6,671.7" fill="#000" stroke="none" stroke-width="1" /><polygon points="264.6,678 279.2,671.7 276.28,678 279.2,684.3" fill="#000" stroke="none" stroke-width="1" /><line x1="294.88" y1="767.6" x2="320.52" y2="767.6" stroke="#000" stroke-width="2.2" /><polygon points="332.2,767.6 317.6,773.9 320.52,767.6 317.6,761.3" fill="#000" stroke="none" stroke-width="1" /><polygon points="283.2,767.6 297.8,761.3 294.88,767.6 297.8,773.9" fill="#000" stroke="none" stroke-width="1" /><line x1="415.3" y1="631.48" x2="415.3" y2="649.12" stroke="#000" stroke-width="2.2" /><polygon points="415.3,660.8 409,646.2 415.3,649.12 421.6,646.2" fill="#000" stroke="none" stroke-width="1" /><polygon points="415.3,619.8 421.6,634.4 415.3,631.48 409,634.4" fill="#000" stroke="none" stroke-width="1" /><line x1="415.3" y1="672.48" x2="415.3" y2="872.72" stroke="#000" stroke-width="2.2" /><polygon points="415.3,884.4 409,869.8 415.3,872.72 421.6,869.8" fill="#000" stroke="none" stroke-width="1" /><polygon points="415.3,660.8 421.6,675.4 415.3,672.48 409,675.4" fill="#000" stroke="none" stroke-width="1" /><text x="308" y="590" font-size="24.5" text-anchor="middle" fill="#000" stroke="#000" stroke-width="0.3" font-style="italic" >P</text><text x="308.5" y="666.8" font-size="24.5" text-anchor="middle" fill="#000" stroke="#000" stroke-width="0.3" font-style="italic" >D</text><text x="308" y="755.8" font-size="24.5" text-anchor="middle" fill="#000" stroke="#000" stroke-width="0.3" font-style="italic" >d</text><text x="397.2" y="645.3" font-size="24.5" text-anchor="middle" fill="#000" stroke="#000" stroke-width="0.3" font-style="italic" >h</text><text x="395.5" y="778" font-size="24.5" text-anchor="middle" fill="#000" stroke="#000" stroke-width="0.3" font-style="italic" >H</text></g>
<g id="pf"><path d="M604.53 645 A63 63 0 1 1 724.27 645 Z" fill="url(#gDropF)" stroke="none" stroke-width="1" /><path d="M604.53 645 A63 63 0 1 1 724.27 645" fill="none" stroke="#ffc30f" stroke-width="3.7" /><rect x="568.35" y="647.3" width="4.9" height="25.2" fill="url(#gMiniP)" stroke="#8a1217" stroke-width="0.4" /><path d="M566.5 647.3 A4.3 4.4 0 0 1 575.1 647.3 Z" fill="url(#gMiniC)" stroke="#5d4a1c" stroke-width="0.5" /><rect x="579.34" y="647.3" width="4.9" height="25.2" fill="url(#gMiniP)" stroke="#8a1217" stroke-width="0.4" /><path d="M577.5 647.3 A4.3 4.4 0 0 1 586.09 647.3 Z" fill="url(#gMiniC)" stroke="#5d4a1c" stroke-width="0.5" /><rect x="590.34" y="647.3" width="4.9" height="25.2" fill="url(#gMiniP)" stroke="#8a1217" stroke-width="0.4" /><path d="M588.49 647.3 A4.3 4.4 0 0 1 597.09 647.3 Z" fill="url(#gMiniC)" stroke="#5d4a1c" stroke-width="0.5" /><rect x="601.33" y="647.3" width="4.9" height="25.2" fill="url(#gMiniP)" stroke="#8a1217" stroke-width="0.4" /><path d="M599.49 647.3 A4.3 4.4 0 0 1 608.08 647.3 Z" fill="url(#gMiniC)" stroke="#5d4a1c" stroke-width="0.5" /><rect x="612.33" y="647.3" width="4.9" height="25.2" fill="url(#gMiniP)" stroke="#8a1217" stroke-width="0.4" /><path d="M610.48 647.3 A4.3 4.4 0 0 1 619.08 647.3 Z" fill="url(#gMiniC)" stroke="#5d4a1c" stroke-width="0.5" /><rect x="623.32" y="647.3" width="4.9" height="25.2" fill="url(#gMiniP)" stroke="#8a1217" stroke-width="0.4" /><path d="M621.48 647.3 A4.3 4.4 0 0 1 630.07 647.3 Z" fill="url(#gMiniC)" stroke="#5d4a1c" stroke-width="0.5" /><rect x="634.32" y="647.3" width="4.9" height="25.2" fill="url(#gMiniP)" stroke="#8a1217" stroke-width="0.4" /><path d="M632.47 647.3 A4.3 4.4 0 0 1 641.07 647.3 Z" fill="url(#gMiniC)" stroke="#5d4a1c" stroke-width="0.5" /><rect x="645.31" y="647.3" width="4.9" height="25.2" fill="url(#gMiniP)" stroke="#8a1217" stroke-width="0.4" /><path d="M643.47 647.3 A4.3 4.4 0 0 1 652.06 647.3 Z" fill="url(#gMiniC)" stroke="#5d4a1c" stroke-width="0.5" /><rect x="656.31" y="647.3" width="4.9" height="25.2" fill="url(#gMiniP)" stroke="#8a1217" stroke-width="0.4" /><path d="M654.46 647.3 A4.3 4.4 0 0 1 663.06 647.3 Z" fill="url(#gMiniC)" stroke="#5d4a1c" stroke-width="0.5" /><rect x="667.3" y="647.3" width="4.9" height="25.2" fill="url(#gMiniP)" stroke="#8a1217" stroke-width="0.4" /><path d="M665.46 647.3 A4.3 4.4 0 0 1 674.05 647.3 Z" fill="url(#gMiniC)" stroke="#5d4a1c" stroke-width="0.5" /><rect x="678.3" y="647.3" width="4.9" height="25.2" fill="url(#gMiniP)" stroke="#8a1217" stroke-width="0.4" /><path d="M676.45 647.3 A4.3 4.4 0 0 1 685.05 647.3 Z" fill="url(#gMiniC)" stroke="#5d4a1c" stroke-width="0.5" /><rect x="689.29" y="647.3" width="4.9" height="25.2" fill="url(#gMiniP)" stroke="#8a1217" stroke-width="0.4" /><path d="M687.44 647.3 A4.3 4.4 0 0 1 696.04 647.3 Z" fill="url(#gMiniC)" stroke="#5d4a1c" stroke-width="0.5" /><rect x="700.29" y="647.3" width="4.9" height="25.2" fill="url(#gMiniP)" stroke="#8a1217" stroke-width="0.4" /><path d="M698.44 647.3 A4.3 4.4 0 0 1 707.04 647.3 Z" fill="url(#gMiniC)" stroke="#5d4a1c" stroke-width="0.5" /><rect x="711.28" y="647.3" width="4.9" height="25.2" fill="url(#gMiniP)" stroke="#8a1217" stroke-width="0.4" /><path d="M709.43 647.3 A4.3 4.4 0 0 1 718.03 647.3 Z" fill="url(#gMiniC)" stroke="#5d4a1c" stroke-width="0.5" /><rect x="722.28" y="647.3" width="4.9" height="25.2" fill="url(#gMiniP)" stroke="#8a1217" stroke-width="0.4" /><path d="M720.43 647.3 A4.3 4.4 0 0 1 729.03 647.3 Z" fill="url(#gMiniC)" stroke="#5d4a1c" stroke-width="0.5" /><rect x="733.27" y="647.3" width="4.9" height="25.2" fill="url(#gMiniP)" stroke="#8a1217" stroke-width="0.4" /><path d="M731.42 647.3 A4.3 4.4 0 0 1 740.02 647.3 Z" fill="url(#gMiniC)" stroke="#5d4a1c" stroke-width="0.5" /><rect x="744.27" y="647.3" width="4.9" height="25.2" fill="url(#gMiniP)" stroke="#8a1217" stroke-width="0.4" /><path d="M742.42 647.3 A4.3 4.4 0 0 1 751.02 647.3 Z" fill="url(#gMiniC)" stroke="#5d4a1c" stroke-width="0.5" /><rect x="755.26" y="647.3" width="4.9" height="25.2" fill="url(#gMiniP)" stroke="#8a1217" stroke-width="0.4" /><path d="M753.41 647.3 A4.3 4.4 0 0 1 762.01 647.3 Z" fill="url(#gMiniC)" stroke="#5d4a1c" stroke-width="0.5" /><rect x="565.6" y="672.5" width="198.1" height="7.3" fill="url(#gMiniB)" stroke="#8a7436" stroke-width="0.6" /><path d="M833.07 645.5 A88.4 88.4 0 0 1 1005.73 645.5 Z" fill="url(#gDropF)" stroke="none" stroke-width="1" /><rect x="835.07" y="645" width="168.67" height="4" fill="#c6daf1" stroke="none" stroke-width="1" /><path d="M833.07 645.5 A88.4 88.4 0 0 1 1005.73 645.5" fill="none" stroke="#ffc30f" stroke-width="3.7" /><path d="M839.1 646.3 V660.5 Q842.09 665.5 845.09 660.5 V646.3 Z" fill="#c6daf1" stroke="#5a6f8a" stroke-width="0.5" /><path d="M850.09 646.3 V660.5 Q853.09 665.5 856.09 660.5 V646.3 Z" fill="#c6daf1" stroke="#5a6f8a" stroke-width="0.5" /><path d="M861.09 646.3 V660.5 Q864.08 665.5 867.08 660.5 V646.3 Z" fill="#c6daf1" stroke="#5a6f8a" stroke-width="0.5" /><path d="M872.08 646.3 V660.5 Q875.08 665.5 878.08 660.5 V646.3 Z" fill="#c6daf1" stroke="#5a6f8a" stroke-width="0.5" /><path d="M883.08 646.3 V660.5 Q886.07 665.5 889.07 660.5 V646.3 Z" fill="#c6daf1" stroke="#5a6f8a" stroke-width="0.5" /><path d="M894.07 646.3 V660.5 Q897.07 665.5 900.07 660.5 V646.3 Z" fill="#c6daf1" stroke="#5a6f8a" stroke-width="0.5" /><path d="M905.07 646.3 V660.5 Q908.06 665.5 911.06 660.5 V646.3 Z" fill="#c6daf1" stroke="#5a6f8a" stroke-width="0.5" /><path d="M916.06 646.3 V660.5 Q919.06 665.5 922.06 660.5 V646.3 Z" fill="#c6daf1" stroke="#5a6f8a" stroke-width="0.5" /><path d="M927.06 646.3 V660.5 Q930.05 665.5 933.05 660.5 V646.3 Z" fill="#c6daf1" stroke="#5a6f8a" stroke-width="0.5" /><path d="M938.05 646.3 V660.5 Q941.05 665.5 944.05 660.5 V646.3 Z" fill="#c6daf1" stroke="#5a6f8a" stroke-width="0.5" /><path d="M949.05 646.3 V660.5 Q952.04 665.5 955.04 660.5 V646.3 Z" fill="#c6daf1" stroke="#5a6f8a" stroke-width="0.5" /><path d="M960.04 646.3 V660.5 Q963.04 665.5 966.04 660.5 V646.3 Z" fill="#c6daf1" stroke="#5a6f8a" stroke-width="0.5" /><path d="M971.04 646.3 V660.5 Q974.03 665.5 977.03 660.5 V646.3 Z" fill="#c6daf1" stroke="#5a6f8a" stroke-width="0.5" /><path d="M982.03 646.3 V660.5 Q985.03 665.5 988.02 660.5 V646.3 Z" fill="#c6daf1" stroke="#5a6f8a" stroke-width="0.5" /><path d="M993.02 646.3 V660.5 Q996.02 665.5 999.02 660.5 V646.3 Z" fill="#c6daf1" stroke="#5a6f8a" stroke-width="0.5" /><rect x="823.15" y="647.3" width="4.9" height="25.2" fill="url(#gMiniP)" stroke="#8a1217" stroke-width="0.4" /><path d="M821.3 647.3 A4.3 4.4 0 0 1 829.9 647.3 Z" fill="url(#gMiniC)" stroke="#5d4a1c" stroke-width="0.5" /><rect x="834.14" y="647.3" width="4.9" height="25.2" fill="url(#gMiniP)" stroke="#8a1217" stroke-width="0.4" /><path d="M832.3 647.3 A4.3 4.4 0 0 1 840.89 647.3 Z" fill="url(#gMiniC)" stroke="#5d4a1c" stroke-width="0.5" /><rect x="845.14" y="647.3" width="4.9" height="25.2" fill="url(#gMiniP)" stroke="#8a1217" stroke-width="0.4" /><path d="M843.29 647.3 A4.3 4.4 0 0 1 851.89 647.3 Z" fill="url(#gMiniC)" stroke="#5d4a1c" stroke-width="0.5" /><rect x="856.13" y="647.3" width="4.9" height="25.2" fill="url(#gMiniP)" stroke="#8a1217" stroke-width="0.4" /><path d="M854.29 647.3 A4.3 4.4 0 0 1 862.88 647.3 Z" fill="url(#gMiniC)" stroke="#5d4a1c" stroke-width="0.5" /><rect x="867.13" y="647.3" width="4.9" height="25.2" fill="url(#gMiniP)" stroke="#8a1217" stroke-width="0.4" /><path d="M865.28 647.3 A4.3 4.4 0 0 1 873.88 647.3 Z" fill="url(#gMiniC)" stroke="#5d4a1c" stroke-width="0.5" /><rect x="878.12" y="647.3" width="4.9" height="25.2" fill="url(#gMiniP)" stroke="#8a1217" stroke-width="0.4" /><path d="M876.28 647.3 A4.3 4.4 0 0 1 884.88 647.3 Z" fill="url(#gMiniC)" stroke="#5d4a1c" stroke-width="0.5" /><rect x="889.12" y="647.3" width="4.9" height="25.2" fill="url(#gMiniP)" stroke="#8a1217" stroke-width="0.4" /><path d="M887.27 647.3 A4.3 4.4 0 0 1 895.87 647.3 Z" fill="url(#gMiniC)" stroke="#5d4a1c" stroke-width="0.5" /><rect x="900.12" y="647.3" width="4.9" height="25.2" fill="url(#gMiniP)" stroke="#8a1217" stroke-width="0.4" /><path d="M898.27 647.3 A4.3 4.4 0 0 1 906.87 647.3 Z" fill="url(#gMiniC)" stroke="#5d4a1c" stroke-width="0.5" /><rect x="911.11" y="647.3" width="4.9" height="25.2" fill="url(#gMiniP)" stroke="#8a1217" stroke-width="0.4" /><path d="M909.26 647.3 A4.3 4.4 0 0 1 917.86 647.3 Z" fill="url(#gMiniC)" stroke="#5d4a1c" stroke-width="0.5" /><rect x="922.11" y="647.3" width="4.9" height="25.2" fill="url(#gMiniP)" stroke="#8a1217" stroke-width="0.4" /><path d="M920.26 647.3 A4.3 4.4 0 0 1 928.86 647.3 Z" fill="url(#gMiniC)" stroke="#5d4a1c" stroke-width="0.5" /><rect x="933.1" y="647.3" width="4.9" height="25.2" fill="url(#gMiniP)" stroke="#8a1217" stroke-width="0.4" /><path d="M931.25 647.3 A4.3 4.4 0 0 1 939.85 647.3 Z" fill="url(#gMiniC)" stroke="#5d4a1c" stroke-width="0.5" /><rect x="944.1" y="647.3" width="4.9" height="25.2" fill="url(#gMiniP)" stroke="#8a1217" stroke-width="0.4" /><path d="M942.25 647.3 A4.3 4.4 0 0 1 950.85 647.3 Z" fill="url(#gMiniC)" stroke="#5d4a1c" stroke-width="0.5" /><rect x="955.09" y="647.3" width="4.9" height="25.2" fill="url(#gMiniP)" stroke="#8a1217" stroke-width="0.4" /><path d="M953.24 647.3 A4.3 4.4 0 0 1 961.84 647.3 Z" fill="url(#gMiniC)" stroke="#5d4a1c" stroke-width="0.5" /><rect x="966.09" y="647.3" width="4.9" height="25.2" fill="url(#gMiniP)" stroke="#8a1217" stroke-width="0.4" /><path d="M964.24 647.3 A4.3 4.4 0 0 1 972.84 647.3 Z" fill="url(#gMiniC)" stroke="#5d4a1c" stroke-width="0.5" /><rect x="977.08" y="647.3" width="4.9" height="25.2" fill="url(#gMiniP)" stroke="#8a1217" stroke-width="0.4" /><path d="M975.23 647.3 A4.3 4.4 0 0 1 983.83 647.3 Z" fill="url(#gMiniC)" stroke="#5d4a1c" stroke-width="0.5" /><rect x="988.07" y="647.3" width="4.9" height="25.2" fill="url(#gMiniP)" stroke="#8a1217" stroke-width="0.4" /><path d="M986.23 647.3 A4.3 4.4 0 0 1 994.82 647.3 Z" fill="url(#gMiniC)" stroke="#5d4a1c" stroke-width="0.5" /><rect x="999.07" y="647.3" width="4.9" height="25.2" fill="url(#gMiniP)" stroke="#8a1217" stroke-width="0.4" /><path d="M997.22 647.3 A4.3 4.4 0 0 1 1005.82 647.3 Z" fill="url(#gMiniC)" stroke="#5d4a1c" stroke-width="0.5" /><rect x="1010.06" y="647.3" width="4.9" height="25.2" fill="url(#gMiniP)" stroke="#8a1217" stroke-width="0.4" /><path d="M1008.22 647.3 A4.3 4.4 0 0 1 1016.81 647.3 Z" fill="url(#gMiniC)" stroke="#5d4a1c" stroke-width="0.5" /><rect x="820.3" y="672.5" width="198.1" height="7.3" fill="url(#gMiniB)" stroke="#8a7436" stroke-width="0.6" /><rect x="631.3" y="635.8" width="66.3" height="51" fill="none" stroke="#000" stroke-width="1.9" stroke-dasharray="0.01 4.1" stroke-linecap="round"/><line x1="631.3" y1="686.8" x2="565.4" y2="720.4" stroke="#000" stroke-width="1.9" stroke-dasharray="0.01 4.1" stroke-linecap="round"/><line x1="697.6" y1="686.8" x2="763.9" y2="720.4" stroke="#000" stroke-width="1.9" stroke-dasharray="0.01 4.1" stroke-linecap="round"/><rect x="886.1" y="635.8" width="67" height="51" fill="none" stroke="#000" stroke-width="1.9" stroke-dasharray="0.01 4.1" stroke-linecap="round"/><line x1="886.1" y1="686.8" x2="820.2" y2="720.4" stroke="#000" stroke-width="1.9" stroke-dasharray="0.01 4.1" stroke-linecap="round"/><line x1="953.1" y1="686.8" x2="1018.8" y2="720.4" stroke="#000" stroke-width="1.9" stroke-dasharray="0.01 4.1" stroke-linecap="round"/><rect x="565.4" y="720.6" width="198.5" height="239.8" fill="#fff" stroke="none" stroke-width="1" /><rect x="565.4" y="720.6" width="198.5" height="60.9" fill="url(#gWatF)" stroke="none" stroke-width="1" /><rect x="565.4" y="921.2" width="198.5" height="39.2" fill="url(#gTanBase)" stroke="none" stroke-width="1" /><line x1="565.4" y1="919.6" x2="763.9" y2="919.6" stroke="#0044cc" stroke-width="3.7" /><rect x="585.1" y="781.5" width="26.6" height="139.7" fill="url(#gPink)" stroke="none" stroke-width="1" /><line x1="583.2" y1="781.5" x2="583.2" y2="921.4" stroke="#6699ff" stroke-width="3.7" /><line x1="613.6" y1="781.5" x2="613.6" y2="921.4" stroke="#6699ff" stroke-width="3.7" /><path d="M571.4 781.5 A27 25.4 0 0 1 625.4 781.5 Z" fill="url(#gTanCap)" stroke="none" stroke-width="1" /><line x1="569.6" y1="781.6" x2="585.1" y2="781.6" stroke="#0044cc" stroke-width="3.7" /><line x1="611.7" y1="781.6" x2="627.2" y2="781.6" stroke="#0044cc" stroke-width="3.7" /><path d="M571.4 781.5 A27 25.4 0 0 1 625.4 781.5" fill="none" stroke="#4a6a1f" stroke-width="3.6" /><rect x="651" y="781.5" width="26.6" height="139.7" fill="url(#gPink)" stroke="none" stroke-width="1" /><line x1="649.1" y1="781.5" x2="649.1" y2="921.4" stroke="#6699ff" stroke-width="3.7" /><line x1="679.5" y1="781.5" x2="679.5" y2="921.4" stroke="#6699ff" stroke-width="3.7" /><path d="M637.3 781.5 A27 25.4 0 0 1 691.3 781.5 Z" fill="url(#gTanCap)" stroke="none" stroke-width="1" /><line x1="635.5" y1="781.6" x2="651" y2="781.6" stroke="#0044cc" stroke-width="3.7" /><line x1="677.6" y1="781.6" x2="693.1" y2="781.6" stroke="#0044cc" stroke-width="3.7" /><path d="M637.3 781.5 A27 25.4 0 0 1 691.3 781.5" fill="none" stroke="#4a6a1f" stroke-width="3.6" /><rect x="716.9" y="781.5" width="26.6" height="139.7" fill="url(#gPink)" stroke="none" stroke-width="1" /><line x1="715" y1="781.5" x2="715" y2="921.4" stroke="#6699ff" stroke-width="3.7" /><line x1="745.4" y1="781.5" x2="745.4" y2="921.4" stroke="#6699ff" stroke-width="3.7" /><path d="M703.2 781.5 A27 25.4 0 0 1 757.2 781.5 Z" fill="url(#gTanCap)" stroke="none" stroke-width="1" /><line x1="701.4" y1="781.6" x2="716.9" y2="781.6" stroke="#0044cc" stroke-width="3.7" /><line x1="743.5" y1="781.6" x2="759" y2="781.6" stroke="#0044cc" stroke-width="3.7" /><path d="M703.2 781.5 A27 25.4 0 0 1 757.2 781.5" fill="none" stroke="#4a6a1f" stroke-width="3.6" /><line x1="565.4" y1="781.6" x2="569.6" y2="781.6" stroke="#ffc30f" stroke-width="3.7" /><line x1="627.2" y1="781.6" x2="635.5" y2="781.6" stroke="#ffc30f" stroke-width="3.7" /><line x1="693.1" y1="781.6" x2="701.4" y2="781.6" stroke="#ffc30f" stroke-width="3.7" /><line x1="759" y1="781.6" x2="763.9" y2="781.6" stroke="#ffc30f" stroke-width="3.7" /><rect x="565.4" y="720.6" width="198.5" height="239.8" fill="none" stroke="#777" stroke-width="0.9" /><text x="664.65" y="948.2" font-size="23.8" text-anchor="middle" fill="#000" stroke="#000" stroke-width="0.3" >Cassie</text><rect x="820.2" y="720.6" width="198.5" height="239.8" fill="#fff" stroke="none" stroke-width="1" /><path d="M820.2 720.6 H1018.7 V866 Q1010.7 867 1000.2 855 H969.8 C968.8 871.8 935.3 871.8 934.3 855 H903.9 C902.9 871.8 869.4 871.8 868.4 855 H838 Q828.2 867 820.2 866 Z" fill="url(#gWatF)" stroke="none" stroke-width="1" /><path d="M1018.7 866 Q1010.7 867 1000.2 855 M969.8 855 C968.8 871.8 935.3 871.8 934.3 855 M903.9 855 C902.9 871.8 869.4 871.8 868.4 855 M838 855 Q828.2 867 820.2 866" fill="none" stroke="#ffc30f" stroke-width="3.6" /><rect x="820.2" y="921.2" width="198.5" height="39.2" fill="url(#gTanBase)" stroke="none" stroke-width="1" /><line x1="820.2" y1="919.6" x2="1018.7" y2="919.6" stroke="#0044cc" stroke-width="3.7" /><rect x="839.9" y="781.5" width="26.6" height="139.7" fill="url(#gPink)" stroke="none" stroke-width="1" /><line x1="838" y1="853" x2="838" y2="921.4" stroke="#6699ff" stroke-width="3.7" /><line x1="868.4" y1="853" x2="868.4" y2="921.4" stroke="#6699ff" stroke-width="3.7" /><line x1="838" y1="781.5" x2="838" y2="853" stroke="#7ab53a" stroke-width="3.7" /><line x1="868.4" y1="781.5" x2="868.4" y2="853" stroke="#7ab53a" stroke-width="3.7" /><path d="M826.2 781.5 A27 25.4 0 0 1 880.2 781.5 Z" fill="url(#gTanCap)" stroke="none" stroke-width="1" /><path d="M839.9 781.5 H826.2 A27 25.4 0 0 1 880.2 781.5 H866.5" fill="none" stroke="#4a6a1f" stroke-width="3.6" stroke-linejoin="miter"/><rect x="905.8" y="781.5" width="26.6" height="139.7" fill="url(#gPink)" stroke="none" stroke-width="1" /><line x1="903.9" y1="853" x2="903.9" y2="921.4" stroke="#6699ff" stroke-width="3.7" /><line x1="934.3" y1="853" x2="934.3" y2="921.4" stroke="#6699ff" stroke-width="3.7" /><line x1="903.9" y1="781.5" x2="903.9" y2="853" stroke="#7ab53a" stroke-width="3.7" /><line x1="934.3" y1="781.5" x2="934.3" y2="853" stroke="#7ab53a" stroke-width="3.7" /><path d="M892.1 781.5 A27 25.4 0 0 1 946.1 781.5 Z" fill="url(#gTanCap)" stroke="none" stroke-width="1" /><path d="M905.8 781.5 H892.1 A27 25.4 0 0 1 946.1 781.5 H932.4" fill="none" stroke="#4a6a1f" stroke-width="3.6" stroke-linejoin="miter"/><rect x="971.7" y="781.5" width="26.6" height="139.7" fill="url(#gPink)" stroke="none" stroke-width="1" /><line x1="969.8" y1="853" x2="969.8" y2="921.4" stroke="#6699ff" stroke-width="3.7" /><line x1="1000.2" y1="853" x2="1000.2" y2="921.4" stroke="#6699ff" stroke-width="3.7" /><line x1="969.8" y1="781.5" x2="969.8" y2="853" stroke="#7ab53a" stroke-width="3.7" /><line x1="1000.2" y1="781.5" x2="1000.2" y2="853" stroke="#7ab53a" stroke-width="3.7" /><path d="M958 781.5 A27 25.4 0 0 1 1012 781.5 Z" fill="url(#gTanCap)" stroke="none" stroke-width="1" /><path d="M971.7 781.5 H958 A27 25.4 0 0 1 1012 781.5 H998.3" fill="none" stroke="#4a6a1f" stroke-width="3.6" stroke-linejoin="miter"/><rect x="820.2" y="720.6" width="198.5" height="239.8" fill="none" stroke="#777" stroke-width="0.9" /><text x="919.45" y="948.2" font-size="23.8" text-anchor="middle" fill="#000" stroke="#000" stroke-width="0.3" >Intermediate</text><rect x="562.9" y="982.5" width="458" height="61.6" fill="#fff" stroke="#c6c6c6" stroke-width="3.3" rx="3.5"/><line x1="585.8" y1="999.9" x2="609.9" y2="999.9" stroke="#ffc30f" stroke-width="3.7" stroke-linecap="round"/><text x="618.2" y="1006.6" font-size="20" text-anchor="start" fill="#000" stroke="#000" stroke-width="0.3" >l-v</text><line x1="698.7" y1="999.9" x2="722.3" y2="999.9" stroke="#6699ff" stroke-width="3.7" stroke-linecap="round"/><text x="729.4" y="1006.6" font-size="20" text-anchor="start" fill="#000" stroke="#000" stroke-width="0.3" >s-v (PBVE)</text><line x1="698.7" y1="1025.7" x2="722.3" y2="1025.7" stroke="#0044cc" stroke-width="3.7" stroke-linecap="round"/><text x="729.4" y="1032.4" font-size="20" text-anchor="start" fill="#000" stroke="#000" stroke-width="0.3" >s-v (Au)</text><line x1="886.5" y1="999.9" x2="910.8" y2="999.9" stroke="#7ab53a" stroke-width="3.7" stroke-linecap="round"/><text x="919.6" y="1006.6" font-size="20" text-anchor="start" fill="#000" stroke="#000" stroke-width="0.3" >s-l (PBVE)</text><line x1="886.5" y1="1025.7" x2="910.8" y2="1025.7" stroke="#4a6a1f" stroke-width="3.7" stroke-linecap="round"/><text x="919.6" y="1032.4" font-size="20" text-anchor="start" fill="#000" stroke="#000" stroke-width="0.3" >s-l (Au)</text></g>
<g id="pg"><rect x="1802.2" y="632.2" width="142.6" height="142.3" fill="url(#gPh1)" stroke="#857088" stroke-width="0.8" /><text x="1875" y="664" font-size="23" text-anchor="middle" fill="#fff" stroke="#fff" stroke-width="0.3" ><tspan font-style="italic">V</tspan> &lt; 4 V</text><text x="1814" y="758.8" font-size="20" text-anchor="start" fill="#fff" stroke="#fff" stroke-width="0.3" >Cassie</text><rect x="1894.2" y="756.8" width="39.3" height="6.7" fill="#fff" stroke="none" stroke-width="1" /><polygon points="1864.3,780.4 1882.6,780.4 1882.6,796.2 1890.8,796.2 1873.5,813.9 1856.4,796.2 1864.3,796.2" fill="#ffc000" stroke="#5b4a10" stroke-width="0.9" /><rect x="1802.2" y="819.9" width="142.6" height="142" fill="url(#gPh2)" stroke="#857a90" stroke-width="0.8" /><ellipse cx="1874.7" cy="889" rx="38.6" ry="33.6" fill="url(#gSpotC)" stroke="none" stroke-width="1" filter="url(#blur2)" opacity="0.93"/><text x="1875" y="852" font-size="23" text-anchor="middle" fill="#fff" stroke="#fff" stroke-width="0.3" ><tspan font-style="italic">V</tspan> &gt; 4 V</text><text x="1814" y="946.3" font-size="20" text-anchor="start" fill="#fff" stroke="#fff" stroke-width="0.3" >Wenzel</text><rect x="1894.2" y="944.3" width="39.3" height="6.6" fill="#fff" stroke="none" stroke-width="1" /></g>

</svg>
</body></html>
